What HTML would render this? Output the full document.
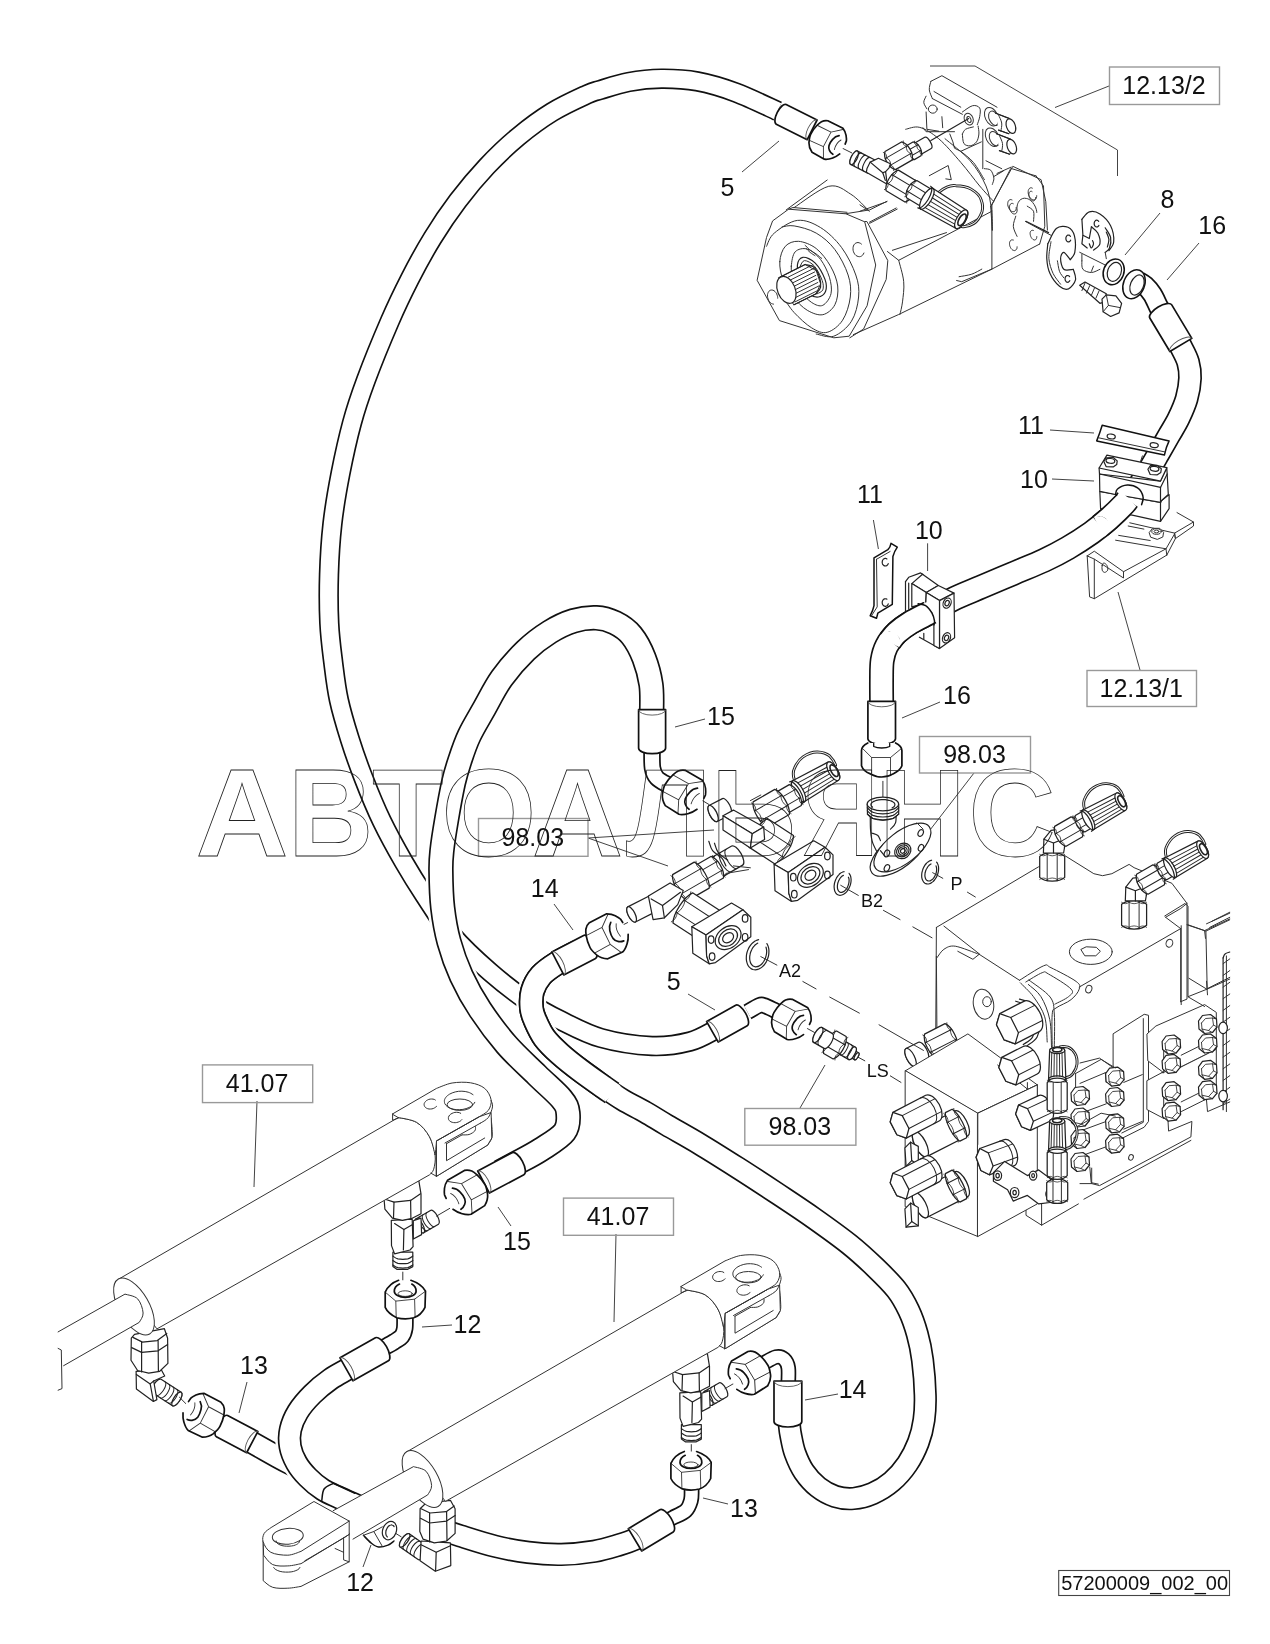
<!DOCTYPE html>
<html><head><meta charset="utf-8"><title>57200009_002_00</title>
<style>
html,body{margin:0;padding:0;background:#fff;}
body{width:1270px;height:1644px;overflow:hidden;font-family:"Liberation Sans",sans-serif;}
svg{display:block}
svg text{font-family:"Liberation Sans",sans-serif;fill:#111;}
svg{filter:grayscale(1)}
.t{fill:none;stroke:#333;stroke-width:1.0;stroke-linejoin:round;stroke-linecap:round}
.m{fill:none;stroke:#222;stroke-width:1.2;stroke-linejoin:round;stroke-linecap:round}
.b{fill:none;stroke:#111;stroke-width:1.5;stroke-linejoin:round;stroke-linecap:round}
.tw{fill:#fff;stroke:#333;stroke-width:1.0;stroke-linejoin:round;stroke-linecap:round}
.mw{fill:#fff;stroke:#222;stroke-width:1.2;stroke-linejoin:round;stroke-linecap:round}
.bw{fill:#fff;stroke:#111;stroke-width:1.5;stroke-linejoin:round;stroke-linecap:round}
</style></head><body>
<svg width="1270" height="1644" viewBox="0 0 1270 1644">
<rect width="1270" height="1644" fill="#fff"/>
<!-- pump -->
<path class="t" d="M786.2,209.9 L827.2,180.0"/>
<path class="t" d="M794.1,207.6 C799.9,204.0 819.3,188.5 828.7,186.3 C838.2,184.1 844.2,190.2 850.8,194.2 C857.3,198.1 865.2,207.3 868.1,209.9"/>
<path class="t" d="M844.5,213.9 L869.7,209.9 L887.0,201.3"/>
<path class="t" d="M869.7,223.3 L897.2,209.1"/>
<path class="t" d="M864.7,221.5 L866.9,221.5 L887.8,260.6 L886.2,279.4 L863.6,329.0 L849.8,337.8"/>
<path class="tw" d="M757.2,279.9 L766.5,237.5 L772.6,220.9 L788.6,209.2 L845.9,213.8 L864.7,221.8 L875.7,265.0 L867.1,305.8 L849.2,336.2 L833.8,337.8 L779.8,320.7 Z"/>
<path class="t" d="M788.6,209.2 L793.0,207.5 L847.0,212.3"/>
<path class="t" d="M766.5,246.3 C767.8,244.1 769.1,237.4 774.3,233.1 C779.4,228.8 789.7,221.3 797.4,220.4 C805.1,219.5 813.2,223.1 820.6,227.6 C827.9,232.1 835.6,239.5 841.5,247.4 C847.4,255.3 853.0,266.7 855.8,275.0 C858.7,283.2 859.3,289.3 858.6,297.0 C857.9,304.7 855.6,314.8 851.4,321.3 C847.3,327.8 839.7,334.0 833.8,336.2 C827.9,338.3 819.1,334.3 816.2,334.0"/>
<path class="t" d="M782.0,227.0 C784.0,226.8 788.4,224.9 794.1,225.9 C799.8,226.9 809.4,229.1 816.2,233.1 C823.0,237.0 829.6,242.6 834.9,249.6 C840.2,256.6 845.6,267.1 848.1,275.0 C850.7,282.9 851.2,289.5 850.3,297.0 C849.4,304.6 846.5,314.3 842.6,320.2 C838.8,326.1 832.3,331.0 827.2,332.3 C822.0,333.6 817.3,331.2 811.7,327.9 C806.2,324.6 798.9,317.6 794.1,312.5 C789.3,307.3 784.9,299.6 783.1,297.0"/>
<path class="t" d="M779.8,261.7 C780.1,256.0 782.2,249.7 785.3,246.3 C788.4,242.9 793.4,241.0 798.5,241.3 C803.7,241.7 810.8,244.4 816.2,248.5 C821.5,252.6 826.9,259.9 830.5,266.2 C834.1,272.4 836.9,279.6 837.7,286.0 C838.4,292.4 837.4,300.0 834.9,304.7 C832.4,309.5 827.4,313.7 822.8,314.7 C818.2,315.6 812.3,313.2 807.3,310.3 C802.4,307.3 797.0,302.0 793.0,297.0 C789.0,292.1 785.3,286.4 783.1,280.5 C780.9,274.6 779.4,267.4 779.8,261.7 Z"/>
<path class="t" d="M791.3,266.2 C791.7,261.7 792.5,254.7 795.2,251.8 C797.9,249.0 803.1,247.8 807.3,249.1 C811.6,250.3 816.9,254.9 820.6,259.5 C824.2,264.2 827.6,271.5 829.4,277.2 C831.1,282.9 832.1,289.0 831.0,293.7 C829.9,298.4 826.0,303.8 822.8,305.3 C819.6,306.8 815.6,305.0 811.7,302.5 C807.9,300.1 802.7,294.5 799.6,290.4 C796.5,286.4 794.4,282.3 793.0,278.3 C791.6,274.2 791.0,270.6 791.3,266.2 Z"/>
<path class="m" d="M797.4,265.0 C797.8,261.2 800.0,257.7 802.9,257.3 C805.9,257.0 811.4,259.2 815.0,262.8 C818.7,266.5 823.2,274.6 825.0,279.4 C826.7,284.2 826.6,288.6 825.5,291.5 C824.4,294.5 821.0,296.7 818.4,297.0 C815.7,297.4 812.5,296.5 809.5,293.7 C806.6,291.0 802.7,285.3 800.7,280.5 C798.7,275.7 797.0,268.9 797.4,265.0 Z"/>
<path class="t" d="M800.2,266.2 C800.9,265.2 802.2,260.6 804.6,260.6 C807.0,260.6 811.6,262.8 814.5,266.2 C817.4,269.5 820.8,276.5 822.2,280.5 C823.6,284.4 823.6,287.7 822.8,289.9 C821.9,292.1 818.2,293.1 817.3,293.7"/>
<path class="t" d="M863.9,253.0 C863.8,253.2 863.5,253.8 863.3,254.2 C863.1,254.6 862.9,254.9 862.6,255.2 C862.3,255.5 862.0,255.8 861.6,256.0 C861.3,256.2 860.9,256.4 860.6,256.5 C860.2,256.6 859.8,256.7 859.4,256.7 C859.0,256.7 858.6,256.6 858.2,256.5 C857.8,256.4 857.4,256.3 857.0,256.1 C856.7,255.9 856.3,255.6 855.9,255.4 C855.6,255.1 855.3,254.7 854.9,254.4 C854.6,254.0 854.4,253.6 854.1,253.1 C853.9,252.7 853.7,252.2 853.5,251.8 C853.3,251.3 853.2,250.8 853.1,250.3 C853.0,249.8 853.0,249.3 853.0,248.8 C853.0,248.3 853.0,247.8 853.1,247.3 C853.1,246.9 853.3,246.4 853.4,246.0 C853.6,245.6 853.8,245.1 854.0,244.8 C854.2,244.4 854.5,244.1 854.8,243.8 C855.1,243.5 855.4,243.3 855.8,243.1 C856.1,242.9 856.5,242.8 856.9,242.7 C857.2,242.6 857.6,242.5 858.0,242.5 C858.4,242.6 858.8,242.6 859.2,242.8 C859.6,242.9 860.0,243.1 860.4,243.3 C860.8,243.5 861.3,243.9 861.5,244.1"/>
<path class="t" d="M773.6,304.1 C773.4,304.0 772.9,304.0 772.5,303.9 C772.1,303.8 771.8,303.7 771.4,303.5 C771.1,303.3 770.7,303.0 770.4,302.7 C770.1,302.4 769.8,302.1 769.5,301.7 C769.2,301.3 768.9,300.9 768.7,300.5 C768.4,300.1 768.2,299.6 768.1,299.1 C767.9,298.7 767.8,298.2 767.7,297.7 C767.6,297.2 767.5,296.7 767.5,296.2 C767.5,295.7 767.5,295.2 767.5,294.7 C767.6,294.3 767.7,293.8 767.8,293.4 C767.9,292.9 768.1,292.5 768.3,292.2 C768.5,291.8 768.7,291.5 769.0,291.2 C769.2,290.9 769.5,290.7 769.8,290.5 C770.1,290.3 770.4,290.2 770.8,290.1 C771.1,290.0 771.5,290.0 771.8,290.0 C772.2,290.0 772.6,290.1 772.9,290.2 C773.3,290.3 773.7,290.5 774.0,290.7 C774.3,290.9 774.7,291.2 775.0,291.5 C775.3,291.8 775.6,292.2 775.9,292.6 C776.2,293.0 776.4,293.4 776.7,293.8 C776.9,294.3 777.1,294.7 777.2,295.2 C777.4,295.7 777.5,296.2 777.6,296.7 C777.7,297.2 777.7,297.9 777.7,298.2"/>
<path class="t" d="M805.1,245.2 C805.9,245.9 807.7,248.1 809.5,249.6 C811.4,251.1 814.1,252.6 816.2,254.0 C818.2,255.5 820.7,257.7 821.7,258.4"/>
<path class="t" d="M806.2,248.5 C806.9,249.2 808.6,251.2 810.1,252.4 C811.6,253.6 814.2,255.1 815.0,255.7"/>
<path class="tw" d="M778.9,277.7 L805.1,264.5 L816.2,270.6 L820.6,283.8 L816.2,293.7 L794.1,304.7 Z"/>
<path class="m" d="M805.1,264.5 C806.6,265.0 811.6,265.1 813.9,267.3 C816.3,269.4 818.4,273.9 819.5,277.2 C820.6,280.5 821.1,284.3 820.6,287.1 C820.0,289.9 816.9,292.6 816.2,293.7"/>
<path class="m" d="M778.9,277.7 L805.1,264.5"/>
<path class="m" d="M794.1,304.7 L816.2,293.7"/>
<path class="t" d="M788.0,277.2 L812.8,264.8"/>
<path class="t" d="M789.0,280.7 L813.8,268.4"/>
<path class="t" d="M790.0,284.2 L814.8,271.9"/>
<path class="t" d="M791.0,287.8 L815.8,275.4"/>
<path class="t" d="M792.0,291.3 L816.8,278.9"/>
<path class="t" d="M793.0,294.8 L817.8,282.5"/>
<path class="t" d="M794.0,298.3 L818.8,286.0"/>
<path class="t" d="M795.0,301.9 L819.8,289.5"/>
<ellipse class="mw" cx="786.4" cy="289.9" rx="8.8" ry="14.1" transform="rotate(-22.0 786.4 289.9)"/>
<path class="t" d="M905.7,129.3 C908.0,129.0 914.3,125.8 919.8,127.4 C925.4,129.0 931.9,132.9 938.7,138.7 C945.6,144.6 954.0,154.5 960.8,162.4 C967.6,170.2 974.2,179.4 979.7,186.0 C985.2,192.5 991.5,199.1 993.9,201.7"/>
<path class="t" d="M945.0,138.7 C949.2,142.4 963.4,152.9 970.2,160.8 C977.1,168.7 982.4,177.8 986.0,186.0 C989.5,194.1 990.4,202.3 991.5,209.6 C992.5,217.0 992.2,226.7 992.3,230.1"/>
<path class="t" d="M960.8,151.3 C962.9,153.2 969.4,157.6 973.4,162.4 C977.3,167.1 982.6,176.8 984.4,179.7"/>
<path class="t" d="M929.3,175.7 L948.2,165.5 L951.3,179.7 L945.8,178.9"/>
<path class="t" d="M949.8,134.0 L952.9,141.9 L954.5,148.2 L960.8,151.3 L981.3,141.9"/>
<path class="t" d="M982.8,129.3 L982.8,168.7"/>
<path class="t" d="M860.0,211.2 L886.8,201.7"/>
<path class="t" d="M869.4,222.2 L896.2,208.0"/>
<path class="t" d="M860.0,204.9 L869.4,211.2"/>
<path class="t" d="M930.9,81.3 L941.9,75.7 L997.0,107.2"/>
<path class="t" d="M930.9,81.3 C930.6,82.7 929.0,87.0 929.3,89.9 C929.6,92.8 931.9,97.1 932.4,98.6"/>
<path class="t" d="M926.1,96.2 C925.7,97.3 923.6,100.4 923.8,102.5 C923.9,104.6 926.4,107.8 926.9,108.8"/>
<path class="t" d="M932.4,98.6 L962.4,114.3"/>
<path class="t" d="M934.0,91.5 L960.8,107.2"/>
<path class="t" d="M926.1,112.0 L926.9,129.3 L938.7,131.2"/>
<path class="t" d="M941.9,116.7 L942.7,127.7"/>
<ellipse class="t" cx="932.8" cy="109.1" rx="4.4" ry="4.1" transform="rotate(0.0 932.8 109.1)"/>
<path class="t" d="M923.0,127.7 L926.1,131.7 L954.5,131.7"/>
<path class="t" d="M962.4,112.0 C964.1,110.9 969.7,106.3 972.6,105.7 C975.5,105.0 978.5,106.2 979.7,108.0 C980.9,109.9 980.1,113.9 979.7,116.7 C979.3,119.4 977.7,123.3 977.3,124.6"/>
<ellipse class="t" cx="968.7" cy="119.1" rx="4.4" ry="6.0" transform="rotate(-20.0 968.7 119.1)"/>
<ellipse class="t" cx="969.0" cy="119.5" rx="1.9" ry="3.1" transform="rotate(-20.0 969.0 119.5)"/>
<path class="t" d="M962.4,134.0 C962.6,135.6 962.6,141.5 963.9,143.5 C965.2,145.4 968.1,146.1 970.2,145.8 C972.3,145.6 975.1,143.9 976.5,141.9 C978.0,139.9 978.6,136.6 978.9,134.0 C979.2,131.4 978.2,127.5 978.1,126.1"/>
<path class="t" d="M962.4,134.0 C962.9,133.2 963.7,130.5 965.5,129.3 C967.3,128.1 972.1,127.3 973.4,126.9"/>
<path class="m" d="M930.9,140.6 L968.7,118.6"/>
<ellipse class="tw" cx="991.5" cy="116.7" rx="6.3" ry="9.8" transform="rotate(-25.0 991.5 116.7)"/>
<ellipse class="t" cx="993.9" cy="118.3" rx="4.7" ry="7.6" transform="rotate(-25.0 993.9 118.3)"/>
<path class="tw" d="M995.7,113.2 L1009.6,118.6 L1015.1,126.1 L1008.8,133.7 L998.6,130.1"/>
<path class="m" d="M995.7,113.2 L1009.6,118.6"/>
<path class="m" d="M998.6,130.1 L1008.8,133.7"/>
<ellipse class="mw" cx="1010.9" cy="126.1" rx="4.4" ry="7.6" transform="rotate(-20.0 1010.9 126.1)"/>
<path class="t" d="M998.6,115.1 C999.1,116.4 1001.3,120.4 1001.7,123.0 C1002.1,125.6 1001.1,129.6 1000.9,130.9"/>
<ellipse class="tw" cx="992.3" cy="137.2" rx="6.3" ry="9.8" transform="rotate(-25.0 992.3 137.2)"/>
<ellipse class="t" cx="994.6" cy="138.7" rx="4.7" ry="7.6" transform="rotate(-25.0 994.6 138.7)"/>
<path class="tw" d="M996.5,133.7 L1010.4,139.1 L1015.9,146.6 L1009.6,154.2 L999.4,150.6"/>
<path class="m" d="M996.5,133.7 L1010.4,139.1"/>
<path class="m" d="M999.4,150.6 L1009.6,154.2"/>
<ellipse class="mw" cx="1011.7" cy="146.6" rx="4.4" ry="7.6" transform="rotate(-20.0 1011.7 146.6)"/>
<path class="t" d="M999.4,135.6 C999.9,136.9 1002.1,140.8 1002.5,143.5 C1002.9,146.1 1001.9,150.0 1001.7,151.3"/>
<path class="t" d="M984.4,168.7 C985.5,168.9 989.1,168.7 990.7,170.2 C992.3,171.8 993.6,175.7 993.9,178.1 C994.1,180.5 992.5,183.4 992.3,184.4"/>
<path class="t" d="M986.0,160.8 L1001.7,168.7"/>
<path class="t" d="M993.9,176.5 L1003.3,171.0"/>
<path class="t" d="M990.7,206.5 L1012.8,166.3 L1041.1,179.7 L1045.8,201.7 L1047.4,230.1"/>
<path class="t" d="M990.7,206.5 L992.3,230.1"/>
<path class="t" d="M997.0,173.4 L1011.2,167.1"/>
<path class="t" d="M1016.2,207.5 C1016.2,207.7 1016.2,208.3 1016.2,208.7 C1016.1,209.0 1016.0,209.4 1015.9,209.7 C1015.7,210.0 1015.6,210.3 1015.4,210.6 C1015.2,210.8 1015.0,211.1 1014.8,211.2 C1014.6,211.4 1014.3,211.5 1014.0,211.6 C1013.8,211.7 1013.5,211.7 1013.2,211.7 C1012.9,211.7 1012.6,211.7 1012.3,211.6 C1012.0,211.5 1011.7,211.3 1011.4,211.2 C1011.1,211.0 1010.8,210.7 1010.5,210.5 C1010.2,210.2 1009.9,209.9 1009.7,209.6 C1009.4,209.2 1009.2,208.9 1009.0,208.5 C1008.7,208.1 1008.5,207.7 1008.4,207.3 C1008.2,206.9 1008.1,206.4 1008.0,206.0 C1007.9,205.6 1007.8,205.1 1007.7,204.7 C1007.7,204.3 1007.7,203.9 1007.7,203.5 C1007.7,203.1 1007.8,202.7 1007.9,202.3 C1007.9,202.0 1008.1,201.6 1008.2,201.3 C1008.3,201.0 1008.5,200.7 1008.7,200.5 C1008.9,200.3 1009.1,200.1 1009.4,200.0 C1009.6,199.8 1009.9,199.7 1010.2,199.6 C1010.5,199.6 1010.7,199.6 1011.0,199.6 C1011.3,199.7 1011.8,199.8 1012.0,199.9"/>
<path class="t" d="M1036.7,195.7 C1036.7,195.9 1036.7,196.5 1036.6,196.8 C1036.6,197.2 1036.5,197.6 1036.3,197.9 C1036.2,198.2 1036.1,198.5 1035.9,198.8 C1035.7,199.0 1035.5,199.2 1035.3,199.4 C1035.0,199.6 1034.8,199.7 1034.5,199.8 C1034.2,199.9 1034.0,199.9 1033.7,199.9 C1033.4,199.9 1033.1,199.9 1032.8,199.8 C1032.5,199.7 1032.1,199.5 1031.8,199.3 C1031.5,199.2 1031.2,198.9 1031.0,198.7 C1030.7,198.4 1030.4,198.1 1030.1,197.8 C1029.9,197.4 1029.6,197.1 1029.4,196.7 C1029.2,196.3 1029.0,195.9 1028.8,195.5 C1028.7,195.1 1028.5,194.6 1028.4,194.2 C1028.3,193.8 1028.2,193.3 1028.2,192.9 C1028.2,192.5 1028.1,192.1 1028.2,191.7 C1028.2,191.3 1028.2,190.9 1028.3,190.5 C1028.4,190.1 1028.5,189.8 1028.7,189.5 C1028.8,189.2 1029.0,188.9 1029.2,188.7 C1029.4,188.5 1029.6,188.3 1029.9,188.1 C1030.1,188.0 1030.4,187.9 1030.6,187.8 C1030.9,187.8 1031.2,187.8 1031.5,187.8 C1031.8,187.8 1032.3,188.0 1032.4,188.1"/>
<path class="t" d="M1017.0,209.9 C1017.0,209.5 1016.9,208.1 1017.0,207.3 C1017.0,206.4 1017.2,205.6 1017.4,204.8 C1017.6,204.0 1017.8,203.2 1018.2,202.6 C1018.5,201.9 1018.9,201.3 1019.4,200.7 C1019.8,200.2 1020.3,199.7 1020.9,199.4 C1021.4,199.0 1022.0,198.7 1022.7,198.5 C1023.3,198.3 1024.0,198.2 1024.6,198.2 C1025.3,198.2 1026.0,198.3 1026.7,198.5 C1027.4,198.6 1028.1,198.9 1028.8,199.3 C1029.5,199.6 1030.1,200.1 1030.8,200.6 C1031.4,201.1 1032.1,201.8 1032.6,202.4 C1033.2,203.1 1033.7,203.8 1034.2,204.6 C1034.7,205.4 1035.1,206.2 1035.5,207.1 C1035.8,207.9 1036.1,208.8 1036.4,209.7 C1036.6,210.6 1036.8,212.0 1036.8,212.4"/>
<path class="t" d="M991.9,204.9 L991.9,269.1 L1039.7,244.0"/>
<path class="t" d="M1039.7,244.0 L1044.8,226.3 L1043.5,186.0 L1036.0,175.9"/>
<path class="t" d="M991.9,204.9 L1010.8,168.4 L1036.0,175.9"/>
<path class="t" d="M991.9,269.1 L961.7,281.7 L956.6,280.5"/>
<path class="t" d="M981.8,269.1 C980.1,270.0 975.5,272.9 971.7,274.2 C968.0,275.4 961.2,276.3 959.1,276.7"/>
<path class="t" d="M1017.1,246.8 C1017.1,246.9 1017.1,247.5 1017.0,247.8 C1017.0,248.2 1016.9,248.5 1016.8,248.8 C1016.7,249.0 1016.5,249.3 1016.3,249.5 C1016.2,249.8 1016.0,249.9 1015.8,250.1 C1015.6,250.3 1015.4,250.4 1015.1,250.4 C1014.9,250.5 1014.6,250.6 1014.4,250.6 C1014.1,250.6 1013.8,250.5 1013.6,250.4 C1013.3,250.3 1013.0,250.2 1012.7,250.1 C1012.5,249.9 1012.2,249.7 1012.0,249.5 C1011.7,249.2 1011.4,249.0 1011.2,248.7 C1011.0,248.4 1010.8,248.1 1010.6,247.7 C1010.4,247.4 1010.2,247.0 1010.1,246.7 C1009.9,246.3 1009.8,245.9 1009.7,245.5 C1009.6,245.2 1009.6,244.8 1009.5,244.4 C1009.5,244.0 1009.5,243.6 1009.5,243.3 C1009.5,242.9 1009.6,242.6 1009.6,242.3 C1009.7,242.0 1009.8,241.7 1010.0,241.4 C1010.1,241.1 1010.2,240.9 1010.4,240.7 C1010.6,240.5 1010.8,240.3 1011.0,240.2 C1011.2,240.1 1011.5,240.0 1011.7,239.9 C1012.0,239.9 1012.2,239.9 1012.5,239.9 C1012.8,239.9 1013.2,240.1 1013.3,240.1"/>
<path class="t" d="M1036.8,236.6 C1036.8,236.8 1036.8,237.3 1036.7,237.6 C1036.7,237.9 1036.6,238.1 1036.5,238.4 C1036.4,238.6 1036.3,238.9 1036.2,239.1 C1036.0,239.3 1035.9,239.5 1035.7,239.6 C1035.5,239.7 1035.3,239.8 1035.1,239.9 C1034.9,240.0 1034.7,240.0 1034.5,240.0 C1034.2,240.0 1034.0,239.9 1033.8,239.8 C1033.5,239.8 1033.3,239.6 1033.0,239.5 C1032.8,239.3 1032.6,239.2 1032.4,238.9 C1032.1,238.7 1031.9,238.5 1031.7,238.2 C1031.5,238.0 1031.3,237.7 1031.2,237.4 C1031.0,237.1 1030.8,236.7 1030.7,236.4 C1030.6,236.1 1030.5,235.7 1030.4,235.4 C1030.3,235.0 1030.2,234.7 1030.2,234.3 C1030.1,234.0 1030.1,233.7 1030.1,233.3 C1030.1,233.0 1030.2,232.7 1030.2,232.4 C1030.3,232.1 1030.4,231.9 1030.5,231.6 C1030.6,231.4 1030.7,231.2 1030.9,231.0 C1031.0,230.8 1031.2,230.7 1031.4,230.6 C1031.6,230.4 1031.8,230.4 1032.0,230.3 C1032.2,230.3 1032.4,230.3 1032.7,230.3 C1032.9,230.3 1033.3,230.5 1033.4,230.5"/>
<path class="t" d="M1017.1,210.2 C1017.1,210.4 1017.1,211.0 1017.0,211.3 C1017.0,211.6 1016.9,211.9 1016.8,212.2 C1016.7,212.5 1016.5,212.8 1016.3,213.0 C1016.2,213.2 1016.0,213.4 1015.8,213.6 C1015.6,213.7 1015.4,213.8 1015.1,213.9 C1014.9,214.0 1014.6,214.0 1014.4,214.0 C1014.1,214.0 1013.8,214.0 1013.6,213.9 C1013.3,213.8 1013.0,213.7 1012.7,213.5 C1012.5,213.4 1012.2,213.2 1012.0,212.9 C1011.7,212.7 1011.4,212.4 1011.2,212.1 C1011.0,211.9 1010.8,211.5 1010.6,211.2 C1010.4,210.9 1010.2,210.5 1010.1,210.1 C1009.9,209.8 1009.8,209.4 1009.7,209.0 C1009.6,208.6 1009.6,208.2 1009.5,207.9 C1009.5,207.5 1009.5,207.1 1009.5,206.8 C1009.5,206.4 1009.6,206.1 1009.6,205.8 C1009.7,205.4 1009.8,205.1 1010.0,204.9 C1010.1,204.6 1010.2,204.4 1010.4,204.2 C1010.6,204.0 1010.8,203.8 1011.0,203.7 C1011.2,203.5 1011.5,203.4 1011.7,203.4 C1012.0,203.3 1012.2,203.3 1012.5,203.4 C1012.8,203.4 1013.2,203.5 1013.3,203.6"/>
<path class="t" d="M1035.5,197.6 C1035.5,197.7 1035.5,198.2 1035.5,198.5 C1035.4,198.8 1035.3,199.1 1035.2,199.4 C1035.1,199.6 1035.0,199.8 1034.9,200.0 C1034.8,200.2 1034.6,200.4 1034.4,200.5 C1034.2,200.7 1034.1,200.8 1033.8,200.9 C1033.6,200.9 1033.4,200.9 1033.2,200.9 C1033.0,200.9 1032.7,200.9 1032.5,200.8 C1032.3,200.7 1032.0,200.6 1031.8,200.5 C1031.6,200.3 1031.3,200.1 1031.1,199.9 C1030.9,199.7 1030.7,199.4 1030.5,199.2 C1030.3,198.9 1030.1,198.6 1029.9,198.3 C1029.7,198.0 1029.6,197.7 1029.4,197.4 C1029.3,197.0 1029.2,196.7 1029.1,196.3 C1029.0,196.0 1029.0,195.6 1028.9,195.3 C1028.9,195.0 1028.9,194.6 1028.9,194.3 C1028.9,194.0 1028.9,193.7 1029.0,193.4 C1029.0,193.1 1029.1,192.8 1029.2,192.6 C1029.4,192.4 1029.5,192.1 1029.6,192.0 C1029.8,191.8 1030.0,191.6 1030.1,191.5 C1030.3,191.4 1030.5,191.3 1030.7,191.3 C1031.0,191.2 1031.2,191.2 1031.4,191.3 C1031.6,191.3 1032.0,191.4 1032.1,191.5"/>
<path class="t" d="M1015.8,216.2 C1015.4,217.9 1013.1,223.0 1013.3,226.3 C1013.5,229.7 1016.4,234.7 1017.1,236.4"/>
<path class="t" d="M1027.2,206.2 C1028.2,207.0 1032.4,208.7 1033.5,211.2 C1034.5,213.7 1033.5,219.6 1033.5,221.3"/>
<path class="m" d="M1025.9,221.3 L1048.6,232.6"/>
<path class="t" d="M853.4,334.6 L898.7,314.5 L991.9,269.1"/>
<path class="t" d="M898.7,260.3 C899.5,263.9 903.1,274.8 903.7,281.7 C904.4,288.7 903.1,296.4 902.5,301.9 C901.8,307.3 900.4,312.4 899.9,314.5"/>
<path class="t" d="M887.4,251.5 L898.7,260.3 L991.9,211.2"/>
<path class="t" d="M892.4,250.3 L946.5,232.6"/>
<!-- valve -->
<path d="M936.4,927.4 L1038.4,866.9 L1064.8,855.6 L1093.8,873.7 L1102.6,875.7 L1111.9,873.7 L1129.1,864.4 L1134.1,867.7 L1171.9,883.3 L1187.0,903.4 L1187.0,999.1 L1180.7,1001.7 L1180.7,1057.1 L935.6,1057.1 Z" fill="#fff" stroke="none"/><path class="t" d="M1187.0,924.8 L1205.9,931.1 L1229.8,919.8"/>
<path class="t" d="M1205.9,931.1 L1207.2,989.1"/>
<path class="t" d="M1188.3,996.6 L1207.2,989.1 L1229.8,979.0"/>
<path class="t" d="M1209.7,927.4 L1229.8,917.3"/>
<path class="t" d="M1212.2,921.1 L1229.8,912.2"/>
<path class="t" d="M936.4,927.4 L1038.4,866.9 L1064.8,855.6 L1093.8,873.7 L1102.6,875.7 L1111.9,873.7 L1129.1,864.4 L1134.1,867.7 L1171.9,883.3 L1187.0,903.4 L1187.0,999.1 L1180.7,1001.7"/>
<path class="t" d="M936.4,927.4 L935.6,1057.1"/>
<path class="t" d="M936.4,956.3 L937.1,1057.1"/>
<path class="t" d="M943.9,926.1 L979.2,953.8"/>
<path class="t" d="M937.1,957.6 C938.3,956.2 940.9,951.2 943.9,949.3 C947.0,947.4 949.4,945.4 955.3,946.2 C961.1,947.1 975.2,953.0 979.2,954.3"/>
<path class="t" d="M979.2,954.3 L972.9,959.3 L957.8,951.3"/>
<path class="t" d="M979.2,954.3 L1019.5,980.3"/>
<path class="t" d="M1019.5,980.3 C1023.5,977.9 1038.2,968.0 1043.4,965.9 C1048.7,963.8 1045.5,965.1 1051.0,967.7 C1056.4,970.3 1071.5,977.9 1076.2,981.5 C1080.9,985.1 1080.0,986.0 1079.2,989.1 C1078.4,992.1 1075.0,996.5 1071.1,999.6 C1067.3,1002.8 1059.2,1005.5 1056.0,1008.0 C1052.9,1010.4 1052.9,1007.7 1052.2,1014.3 C1051.6,1020.8 1052.2,1041.5 1052.2,1047.0"/>
<path class="t" d="M1025.8,982.0 C1028.5,980.5 1038.4,974.0 1042.2,972.7 C1045.9,971.4 1043.6,971.2 1048.5,974.0 C1053.3,976.7 1067.8,985.3 1071.1,989.1 C1074.5,992.8 1071.3,994.1 1068.6,996.6 C1065.9,999.1 1057.1,1002.9 1054.8,1004.2"/>
<path class="t" d="M1028.3,984.5 C1030.4,986.5 1037.3,990.8 1040.9,996.6 C1044.5,1002.4 1048.0,1010.9 1049.7,1019.3 C1051.5,1027.7 1051.2,1042.4 1051.5,1047.0"/>
<path class="t" d="M1020.3,982.8 C1022.4,985.1 1029.3,991.0 1033.4,996.6 C1037.4,1002.3 1042.4,1009.2 1044.7,1016.8 C1047.0,1024.3 1046.8,1037.8 1047.2,1042.0"/>
<path class="t" d="M1079.2,987.1 L1180.7,928.6"/>
<path class="t" d="M1180.7,928.6 L1180.7,1001.7"/>
<path class="t" d="M1165.6,917.3 L1180.7,908.5 L1187.0,903.4"/>
<path class="t" d="M1165.6,917.3 L1180.7,928.6"/>
<ellipse class="t" cx="1090.8" cy="951.8" rx="21.4" ry="12.6" transform="rotate(0.0 1090.8 951.8)"/>
<path class="t" d="M1081.2,949.3 L1086.2,946.8 L1096.3,947.3 L1100.4,951.3 L1095.8,955.8 L1085.2,955.8 Z"/>
<ellipse class="t" cx="1169.4" cy="943.2" rx="3.3" ry="4.0" transform="rotate(20.0 1169.4 943.2)"/>
<ellipse class="t" cx="1088.8" cy="989.1" rx="3.0" ry="3.8" transform="rotate(20.0 1088.8 989.1)"/>
<ellipse class="t" cx="983.5" cy="1004.2" rx="10.1" ry="15.1" transform="rotate(-10.0 983.5 1004.2)"/>
<ellipse class="t" cx="987.0" cy="1001.7" rx="4.3" ry="5.0" transform="rotate(0.0 987.0 1001.7)"/>
<path class="m" d="M1019.5,999.1 C1021.6,1000.0 1028.7,1000.6 1032.1,1004.2 C1035.4,1007.7 1038.8,1015.1 1039.6,1020.6 C1040.5,1026.0 1039.2,1032.7 1037.1,1036.9 C1035.0,1041.1 1028.7,1044.3 1027.1,1045.7"/>
<path class="m" d="M1015.7,1001.2 C1017.8,1002.1 1025.2,1003.3 1028.3,1006.7 C1031.5,1010.1 1033.9,1016.8 1034.6,1021.8 C1035.3,1026.9 1034.5,1033.1 1032.6,1036.9 C1030.7,1040.7 1024.8,1043.2 1023.3,1044.5"/>
<g transform="translate(1019.5 1022.6) rotate(-27.0) scale(1.000 1.000)" stroke-linejoin="round" stroke-linecap="round"><path d="M-13.5,-17.0 L13.5,-17.0 A9.2,17.0 0 0 1 13.5,17.0 L-13.5,17.0 L-21.5,8.5 L-21.5,-8.5 L-13.5,-17.0 Z" fill="#fff" stroke="#222" stroke-width="1.25"/><path d="M-5.5,8.5 L-13.5,17.0 L-21.5,8.5 L-21.5,-8.5 L-13.5,-17.0 L-5.5,-8.5 Z" fill="#fff" stroke="#222" stroke-width="1.25"/><path d="M-5.5,-8.5 L20.8,-8.5 M-5.5,8.5 L20.8,8.5" fill="none" stroke="#222" stroke-width="0.94"/></g>
<path class="t" d="M1113.1,1066.9 L1113.1,1033.8 L1144.2,1014.3 L1148.5,1015.3 L1148.5,1121.4 L1144.2,1127.2 L1120.9,1138.9"/>
<path class="t" d="M1143.3,1018.6 L1143.3,1122.3 L1121.8,1133.0"/>
<path class="tw" d="M1147.2,1033.8 L1155.9,1026.0 L1204.6,1004.6 L1216.3,1012.4 L1216.3,1049.3 L1181.2,1066.9 L1163.7,1072.7 L1148.1,1061.0 Z"/>
<path class="tw" d="M1147.2,1080.5 L1161.8,1072.7 L1181.2,1066.9 L1216.3,1049.3 L1216.3,1094.1 L1181.2,1111.6 L1163.7,1118.4 L1147.2,1109.7 Z"/>
<path class="t" d="M1163.7,1072.7 L1161.8,1072.7"/>
<path class="t" d="M1163.7,1039.6 L1163.7,1072.7"/>
<path class="t" d="M1163.7,1086.3 L1163.7,1118.4"/>
<path class="t" d="M1181.2,1055.2 L1200.7,1045.5"/>
<path class="t" d="M1181.2,1101.9 L1200.7,1092.2"/>
<path class="t" d="M1080.0,1063.0 L1099.5,1058.1 L1112.1,1066.9"/>
<path class="t" d="M1080.0,1083.4 L1105.3,1072.7"/>
<path class="t" d="M1105.3,1072.7 L1106.3,1082.4"/>
<path class="t" d="M1080.0,1113.6 L1106.3,1103.8"/>
<path class="t" d="M1080.0,1131.1 L1106.3,1121.4"/>
<path class="t" d="M1080.0,1156.4 L1106.3,1146.7"/>
<path class="t" d="M1123.8,1082.4 L1142.3,1074.6"/>
<path class="t" d="M1123.8,1129.1 L1142.3,1121.4"/>
<path class="t" d="M1091.7,1168.1 L1091.7,1183.6 L1099.5,1185.6 L1190.9,1136.9 L1191.9,1121.4 L1168.6,1131.1 L1167.6,1113.6"/>
<path class="t" d="M1083.9,1199.2 L1190.9,1140.4"/>
<path class="t" d="M1080.0,1183.6 L1091.7,1183.6"/>
<ellipse class="t" cx="1131.0" cy="1157.4" rx="2.3" ry="2.9" transform="rotate(20.0 1131.0 1157.4)"/>
<path class="t" d="M1181.2,925.7 L1181.2,1004.6"/>
<path class="t" d="M1164.7,916.0 L1185.1,903.4 L1188.0,906.3 L1188.0,996.8 L1204.6,1006.5"/>
<path class="t" d="M1188.0,924.8 L1204.6,930.6 L1229.9,918.9"/>
<path class="t" d="M1204.6,930.6 L1205.5,938.4"/>
<path class="t" d="M1206.5,981.2 L1207.5,994.8"/>
<path class="t" d="M1189.0,978.3 L1206.5,989.0 L1229.9,977.3"/>
<path class="t" d="M1206.5,923.8 L1229.9,913.1"/>
<path class="t" d="M1206.5,1100.0 L1207.5,1111.6 L1229.9,1101.9"/>
<path class="m" d="M1223.1,957.9 L1223.1,1109.7"/>
<path class="t" d="M1226.4,955.9 L1226.4,1111.6"/>
<path class="m" d="M1223.1,957.9 C1223.4,957.2 1223.9,954.9 1225.0,954.0 C1226.1,953.0 1229.1,952.3 1229.9,952.0"/>
<path class="t" d="M1223.1,963.7 L1229.9,958.8"/>
<path class="t" d="M1223.1,975.4 L1229.9,970.5"/>
<path class="t" d="M1223.1,987.1 L1229.9,982.2"/>
<path class="t" d="M1223.1,998.7 L1229.9,993.9"/>
<path class="t" d="M1223.1,1010.4 L1229.9,1005.5"/>
<path class="t" d="M1223.1,1022.1 L1229.9,1017.2"/>
<path class="t" d="M1223.1,1033.8 L1229.9,1028.9"/>
<path class="t" d="M1223.1,1045.5 L1229.9,1040.6"/>
<path class="t" d="M1223.1,1057.1 L1229.9,1052.3"/>
<path class="t" d="M1223.1,1068.8 L1229.9,1063.9"/>
<path class="t" d="M1223.1,1080.5 L1229.9,1075.6"/>
<path class="t" d="M1223.1,1092.2 L1229.9,1087.3"/>
<path class="t" d="M1223.1,1103.8 L1229.9,1099.0"/>
<ellipse class="mw" cx="1223.1" cy="1027.9" rx="4.3" ry="5.8" transform="rotate(0.0 1223.1 1027.9)"/>
<ellipse class="mw" cx="1223.1" cy="1096.1" rx="4.3" ry="5.8" transform="rotate(0.0 1223.1 1096.1)"/>
<g transform="translate(1171.1 1044.5) rotate(0.0) scale(1.000 1.000)" stroke-linejoin="round" stroke-linecap="round"><path d="M-9,-3 L-5,-8.5 L3,-9.5 L9,-5 L9.5,3 L5,8.5 L-3,9.5 L-8.5,5 Z" fill="#fff" stroke="#222" stroke-width="1.20"/><path d="M-6,-1 L-2,-5.5 L5,-6 L9,-5 M-6,-1 L-5.5,5 L-3,9.5 M-5.5,5 L1,6.5 L5,8.5 M1,6.5 L6,1 L9.5,3 M6,1 L5,-6" fill="none" stroke="#222" stroke-width="0.84"/></g>
<g transform="translate(1171.1 1063.9) rotate(0.0) scale(1.000 1.000)" stroke-linejoin="round" stroke-linecap="round"><path d="M-9,-3 L-5,-8.5 L3,-9.5 L9,-5 L9.5,3 L5,8.5 L-3,9.5 L-8.5,5 Z" fill="#fff" stroke="#222" stroke-width="1.20"/><path d="M-6,-1 L-2,-5.5 L5,-6 L9,-5 M-6,-1 L-5.5,5 L-3,9.5 M-5.5,5 L1,6.5 L5,8.5 M1,6.5 L6,1 L9.5,3 M6,1 L5,-6" fill="none" stroke="#222" stroke-width="0.84"/></g>
<g transform="translate(1171.1 1091.2) rotate(0.0) scale(1.000 1.000)" stroke-linejoin="round" stroke-linecap="round"><path d="M-9,-3 L-5,-8.5 L3,-9.5 L9,-5 L9.5,3 L5,8.5 L-3,9.5 L-8.5,5 Z" fill="#fff" stroke="#222" stroke-width="1.20"/><path d="M-6,-1 L-2,-5.5 L5,-6 L9,-5 M-6,-1 L-5.5,5 L-3,9.5 M-5.5,5 L1,6.5 L5,8.5 M1,6.5 L6,1 L9.5,3 M6,1 L5,-6" fill="none" stroke="#222" stroke-width="0.84"/></g>
<g transform="translate(1171.1 1111.6) rotate(0.0) scale(1.000 1.000)" stroke-linejoin="round" stroke-linecap="round"><path d="M-9,-3 L-5,-8.5 L3,-9.5 L9,-5 L9.5,3 L5,8.5 L-3,9.5 L-8.5,5 Z" fill="#fff" stroke="#222" stroke-width="1.20"/><path d="M-6,-1 L-2,-5.5 L5,-6 L9,-5 M-6,-1 L-5.5,5 L-3,9.5 M-5.5,5 L1,6.5 L5,8.5 M1,6.5 L6,1 L9.5,3 M6,1 L5,-6" fill="none" stroke="#222" stroke-width="0.84"/></g>
<g transform="translate(1207.5 1024.0) rotate(0.0) scale(1.000 1.000)" stroke-linejoin="round" stroke-linecap="round"><path d="M-9,-3 L-5,-8.5 L3,-9.5 L9,-5 L9.5,3 L5,8.5 L-3,9.5 L-8.5,5 Z" fill="#fff" stroke="#222" stroke-width="1.20"/><path d="M-6,-1 L-2,-5.5 L5,-6 L9,-5 M-6,-1 L-5.5,5 L-3,9.5 M-5.5,5 L1,6.5 L5,8.5 M1,6.5 L6,1 L9.5,3 M6,1 L5,-6" fill="none" stroke="#222" stroke-width="0.84"/></g>
<g transform="translate(1207.5 1043.5) rotate(0.0) scale(1.000 1.000)" stroke-linejoin="round" stroke-linecap="round"><path d="M-9,-3 L-5,-8.5 L3,-9.5 L9,-5 L9.5,3 L5,8.5 L-3,9.5 L-8.5,5 Z" fill="#fff" stroke="#222" stroke-width="1.20"/><path d="M-6,-1 L-2,-5.5 L5,-6 L9,-5 M-6,-1 L-5.5,5 L-3,9.5 M-5.5,5 L1,6.5 L5,8.5 M1,6.5 L6,1 L9.5,3 M6,1 L5,-6" fill="none" stroke="#222" stroke-width="0.84"/></g>
<g transform="translate(1207.5 1069.8) rotate(0.0) scale(1.000 1.000)" stroke-linejoin="round" stroke-linecap="round"><path d="M-9,-3 L-5,-8.5 L3,-9.5 L9,-5 L9.5,3 L5,8.5 L-3,9.5 L-8.5,5 Z" fill="#fff" stroke="#222" stroke-width="1.20"/><path d="M-6,-1 L-2,-5.5 L5,-6 L9,-5 M-6,-1 L-5.5,5 L-3,9.5 M-5.5,5 L1,6.5 L5,8.5 M1,6.5 L6,1 L9.5,3 M6,1 L5,-6" fill="none" stroke="#222" stroke-width="0.84"/></g>
<g transform="translate(1207.5 1090.2) rotate(0.0) scale(1.000 1.000)" stroke-linejoin="round" stroke-linecap="round"><path d="M-9,-3 L-5,-8.5 L3,-9.5 L9,-5 L9.5,3 L5,8.5 L-3,9.5 L-8.5,5 Z" fill="#fff" stroke="#222" stroke-width="1.20"/><path d="M-6,-1 L-2,-5.5 L5,-6 L9,-5 M-6,-1 L-5.5,5 L-3,9.5 M-5.5,5 L1,6.5 L5,8.5 M1,6.5 L6,1 L9.5,3 M6,1 L5,-6" fill="none" stroke="#222" stroke-width="0.84"/></g>
<g transform="translate(1114.6 1076.6) rotate(0.0) scale(1.000 1.000)" stroke-linejoin="round" stroke-linecap="round"><path d="M-9,-3 L-5,-8.5 L3,-9.5 L9,-5 L9.5,3 L5,8.5 L-3,9.5 L-8.5,5 Z" fill="#fff" stroke="#222" stroke-width="1.20"/><path d="M-6,-1 L-2,-5.5 L5,-6 L9,-5 M-6,-1 L-5.5,5 L-3,9.5 M-5.5,5 L1,6.5 L5,8.5 M1,6.5 L6,1 L9.5,3 M6,1 L5,-6" fill="none" stroke="#222" stroke-width="0.84"/></g>
<g transform="translate(1114.6 1097.0) rotate(0.0) scale(1.000 1.000)" stroke-linejoin="round" stroke-linecap="round"><path d="M-9,-3 L-5,-8.5 L3,-9.5 L9,-5 L9.5,3 L5,8.5 L-3,9.5 L-8.5,5 Z" fill="#fff" stroke="#222" stroke-width="1.20"/><path d="M-6,-1 L-2,-5.5 L5,-6 L9,-5 M-6,-1 L-5.5,5 L-3,9.5 M-5.5,5 L1,6.5 L5,8.5 M1,6.5 L6,1 L9.5,3 M6,1 L5,-6" fill="none" stroke="#222" stroke-width="0.84"/></g>
<g transform="translate(1114.6 1123.3) rotate(0.0) scale(1.000 1.000)" stroke-linejoin="round" stroke-linecap="round"><path d="M-9,-3 L-5,-8.5 L3,-9.5 L9,-5 L9.5,3 L5,8.5 L-3,9.5 L-8.5,5 Z" fill="#fff" stroke="#222" stroke-width="1.20"/><path d="M-6,-1 L-2,-5.5 L5,-6 L9,-5 M-6,-1 L-5.5,5 L-3,9.5 M-5.5,5 L1,6.5 L5,8.5 M1,6.5 L6,1 L9.5,3 M6,1 L5,-6" fill="none" stroke="#222" stroke-width="0.84"/></g>
<g transform="translate(1114.6 1143.7) rotate(0.0) scale(1.000 1.000)" stroke-linejoin="round" stroke-linecap="round"><path d="M-9,-3 L-5,-8.5 L3,-9.5 L9,-5 L9.5,3 L5,8.5 L-3,9.5 L-8.5,5 Z" fill="#fff" stroke="#222" stroke-width="1.20"/><path d="M-6,-1 L-2,-5.5 L5,-6 L9,-5 M-6,-1 L-5.5,5 L-3,9.5 M-5.5,5 L1,6.5 L5,8.5 M1,6.5 L6,1 L9.5,3 M6,1 L5,-6" fill="none" stroke="#222" stroke-width="0.84"/></g>
<g transform="translate(1080.0 1096.0) rotate(0.0) scale(1.000 1.000)" stroke-linejoin="round" stroke-linecap="round"><path d="M-9,-3 L-5,-8.5 L3,-9.5 L9,-5 L9.5,3 L5,8.5 L-3,9.5 L-8.5,5 Z" fill="#fff" stroke="#222" stroke-width="1.20"/><path d="M-6,-1 L-2,-5.5 L5,-6 L9,-5 M-6,-1 L-5.5,5 L-3,9.5 M-5.5,5 L1,6.5 L5,8.5 M1,6.5 L6,1 L9.5,3 M6,1 L5,-6" fill="none" stroke="#222" stroke-width="0.84"/></g>
<g transform="translate(1080.0 1117.5) rotate(0.0) scale(1.000 1.000)" stroke-linejoin="round" stroke-linecap="round"><path d="M-9,-3 L-5,-8.5 L3,-9.5 L9,-5 L9.5,3 L5,8.5 L-3,9.5 L-8.5,5 Z" fill="#fff" stroke="#222" stroke-width="1.20"/><path d="M-6,-1 L-2,-5.5 L5,-6 L9,-5 M-6,-1 L-5.5,5 L-3,9.5 M-5.5,5 L1,6.5 L5,8.5 M1,6.5 L6,1 L9.5,3 M6,1 L5,-6" fill="none" stroke="#222" stroke-width="0.84"/></g>
<g transform="translate(1080.0 1139.0) rotate(0.0) scale(1.000 1.000)" stroke-linejoin="round" stroke-linecap="round"><path d="M-9,-3 L-5,-8.5 L3,-9.5 L9,-5 L9.5,3 L5,8.5 L-3,9.5 L-8.5,5 Z" fill="#fff" stroke="#222" stroke-width="1.20"/><path d="M-6,-1 L-2,-5.5 L5,-6 L9,-5 M-6,-1 L-5.5,5 L-3,9.5 M-5.5,5 L1,6.5 L5,8.5 M1,6.5 L6,1 L9.5,3 M6,1 L5,-6" fill="none" stroke="#222" stroke-width="0.84"/></g>
<g transform="translate(1080.0 1162.0) rotate(0.0) scale(1.000 1.000)" stroke-linejoin="round" stroke-linecap="round"><path d="M-9,-3 L-5,-8.5 L3,-9.5 L9,-5 L9.5,3 L5,8.5 L-3,9.5 L-8.5,5 Z" fill="#fff" stroke="#222" stroke-width="1.20"/><path d="M-6,-1 L-2,-5.5 L5,-6 L9,-5 M-6,-1 L-5.5,5 L-3,9.5 M-5.5,5 L1,6.5 L5,8.5 M1,6.5 L6,1 L9.5,3 M6,1 L5,-6" fill="none" stroke="#222" stroke-width="0.84"/></g>
<path class="t" d="M1075.6,1073.5 L1101.1,1059.4 L1115.3,1067.9"/>
<path class="t" d="M1075.6,1073.5 L1075.6,1087.7"/>
<path class="t" d="M1075.6,1127.4 L1101.1,1113.2 L1115.3,1116.1"/>
<path class="t" d="M1089.8,1167.1 L1091.2,1182.7 L1098.3,1184.1"/>
<path class="t" d="M1026.0,1198.3 L1026.0,1215.3 L1041.6,1225.2 L1078.4,1203.9"/>
<path class="t" d="M1041.6,1203.9 L1041.6,1225.2"/>
<path class="t" d="M1026.0,1198.3 L1041.6,1203.9 L1055.7,1196.8"/>

<g transform="translate(916.8 1054.3) rotate(-27.0) scale(1.000 1.000)" stroke-linejoin="round" stroke-linecap="round"><path d="M7.0,-10.0 L-7.0,-10.0 A4.0,10.0 0 0 0 -7.0,10.0 L7.0,10.0 A4.0,10.0 0 0 0 7.0,-10.0 Z" fill="#fff" stroke="#222" stroke-width="1.25"/><ellipse cx="-7.0" cy="0" rx="4.0" ry="10.0" fill="#fff" stroke="#222" stroke-width="1.25"/></g>
<g transform="translate(940.9 1040.9) rotate(-27.0) scale(1.000 1.000)" stroke-linejoin="round" stroke-linecap="round"><path d="M-11.5,-13.5 L11.5,-13.5 C16.5,-7.4 16.5,7.4 11.5,13.5 L-11.5,13.5 C-16.5,7.4 -16.5,-7.4 -11.5,-13.5 Z" fill="#fff" stroke="#222" stroke-width="1.25"/><path d="M-15.0,-5.4 L15.0,-5.4 M-15.0,5.4 L15.0,5.4" fill="none" stroke="#222" stroke-width="0.94"/><path d="M-13.5,-13.5 Q-10.5,-9.4 -13.5,-5.4 M-13.5,-5.4 Q-10.5,0.0 -13.5,5.4 M-13.5,5.4 Q-10.5,9.4 -13.5,13.5" fill="none" stroke="#222" stroke-width="0.75"/><path d="M13.5,-13.5 Q10.5,-9.4 13.5,-5.4 M13.5,-5.4 Q10.5,0.0 13.5,5.4 M13.5,5.4 Q10.5,9.4 13.5,13.5" fill="none" stroke="#222" stroke-width="0.75"/></g>
<path class="tw" d="M905.5,1070.7 L967.9,1033.9 L1037.3,1084.9 L977.8,1113.2 Z"/>
<path class="tw" d="M905.5,1070.7 L977.8,1113.2 L977.8,1236.5 L905.5,1206.8 Z"/>
<path class="tw" d="M977.8,1113.2 L1037.3,1084.9 L1037.3,1203.9 L977.8,1236.5 Z"/>
<path class="t" d="M997.6,1065.0 L1027.4,1089.1 L1027.4,1082.6"/>
<g transform="translate(1019.5 1065.7) rotate(-27.0) scale(1.000 1.000)" stroke-linejoin="round" stroke-linecap="round"><path d="M-12.0,-15.5 L12.0,-15.5 A8.4,15.5 0 0 1 12.0,15.5 L-12.0,15.5 L-19.2,7.7 L-19.2,-7.8 L-12.0,-15.5 Z" fill="#fff" stroke="#222" stroke-width="1.25"/><path d="M-4.8,7.7 L-12.0,15.5 L-19.2,7.7 L-19.2,-7.8 L-12.0,-15.5 L-4.8,-7.8 Z" fill="#fff" stroke="#222" stroke-width="1.25"/><path d="M-4.8,-7.8 L18.7,-7.8 M-4.8,7.7 L18.7,7.8" fill="none" stroke="#222" stroke-width="0.94"/></g>
<path d="M977.8,1113.2 L1037.3,1084.9 L1037.3,1116.1 L977.8,1144.4 Z" fill="#fff" stroke="none"/><path class="t" d="M977.8,1113.2 L1037.3,1084.9"/>
<path class="t" d="M977.8,1113.2 L977.8,1144.4"/>
<path class="t" d="M1037.3,1084.9 L1037.3,1116.1"/>
<g transform="translate(940.9 1133.7) rotate(-27.0) scale(1.000 1.000)" stroke-linejoin="round" stroke-linecap="round"><path d="M23.0,-14.0 L-23.0,-14.0 A5.6,14.0 0 0 0 -23.0,14.0 L23.0,14.0 A5.6,14.0 0 0 0 23.0,-14.0 Z" fill="#fff" stroke="#222" stroke-width="1.25"/><ellipse cx="-23.0" cy="0" rx="5.6" ry="14.0" fill="#fff" stroke="#222" stroke-width="1.25"/></g>
<g transform="translate(956.0 1125.2) rotate(-27.0) scale(1.000 1.000)" stroke-linejoin="round" stroke-linecap="round"><path d="M-3.8,-16.0 L3.8,-16.0 C8.2,-8.8 8.2,8.8 3.8,16.0 L-3.8,16.0 C-8.2,8.8 -8.2,-8.8 -3.8,-16.0 Z" fill="#fff" stroke="#222" stroke-width="1.25"/><path d="M-6.9,-6.4 L6.9,-6.4 M-6.9,6.4 L6.9,6.4" fill="none" stroke="#222" stroke-width="0.94"/><path d="M-5.6,-16.0 Q-3.0,-11.2 -5.6,-6.4 M-5.6,-6.4 Q-3.0,0.0 -5.6,6.4 M-5.6,6.4 Q-3.0,11.2 -5.6,16.0" fill="none" stroke="#222" stroke-width="0.75"/><path d="M5.6,-16.0 Q3.0,-11.2 5.6,-6.4 M5.6,-6.4 Q3.0,0.0 5.6,6.4 M5.6,6.4 Q3.0,11.2 5.6,16.0" fill="none" stroke="#222" stroke-width="0.75"/></g>
<path class="mw" d="M904.9,1147.9 L910.6,1142.2 L918.3,1146.4 L918.3,1164.9 L906.1,1166.3 Z"/>
<path class="m" d="M910.6,1142.2 L911.7,1160.6 L906.1,1166.3"/>
<path class="m" d="M911.7,1160.6 L918.3,1164.9"/>
<g transform="translate(916.0 1116.7) rotate(-27.5) scale(1.000 1.000)" stroke-linejoin="round" stroke-linecap="round"><path d="M-18.5,-14.5 L18.5,-14.5 A7.8,14.5 0 0 1 18.5,14.5 L-18.5,14.5 L-25.3,7.2 L-25.3,-7.3 L-18.5,-14.5 Z" fill="#fff" stroke="#222" stroke-width="1.25"/><path d="M-11.7,7.2 L-18.5,14.5 L-25.3,7.2 L-25.3,-7.3 L-18.5,-14.5 L-11.7,-7.3 Z" fill="#fff" stroke="#222" stroke-width="1.25"/><path d="M-11.7,-7.3 L24.8,-7.2 M-11.7,7.2 L24.8,7.2" fill="none" stroke="#222" stroke-width="0.94"/><path d="M12.5,-14.5 A7.8,14.5 0 0 1 12.5,14.5" fill="none" stroke="#222" stroke-width="1.00"/></g>
<g transform="translate(940.9 1194.6) rotate(-27.0) scale(1.000 1.000)" stroke-linejoin="round" stroke-linecap="round"><path d="M23.0,-14.0 L-23.0,-14.0 A5.6,14.0 0 0 0 -23.0,14.0 L23.0,14.0 A5.6,14.0 0 0 0 23.0,-14.0 Z" fill="#fff" stroke="#222" stroke-width="1.25"/><ellipse cx="-23.0" cy="0" rx="5.6" ry="14.0" fill="#fff" stroke="#222" stroke-width="1.25"/></g>
<g transform="translate(956.0 1186.1) rotate(-27.0) scale(1.000 1.000)" stroke-linejoin="round" stroke-linecap="round"><path d="M-3.8,-16.0 L3.8,-16.0 C8.2,-8.8 8.2,8.8 3.8,16.0 L-3.8,16.0 C-8.2,8.8 -8.2,-8.8 -3.8,-16.0 Z" fill="#fff" stroke="#222" stroke-width="1.25"/><path d="M-6.9,-6.4 L6.9,-6.4 M-6.9,6.4 L6.9,6.4" fill="none" stroke="#222" stroke-width="0.94"/><path d="M-5.6,-16.0 Q-3.0,-11.2 -5.6,-6.4 M-5.6,-6.4 Q-3.0,0.0 -5.6,6.4 M-5.6,6.4 Q-3.0,11.2 -5.6,16.0" fill="none" stroke="#222" stroke-width="0.75"/><path d="M5.6,-16.0 Q3.0,-11.2 5.6,-6.4 M5.6,-6.4 Q3.0,0.0 5.6,6.4 M5.6,6.4 Q3.0,11.2 5.6,16.0" fill="none" stroke="#222" stroke-width="0.75"/></g>
<path class="mw" d="M904.9,1208.8 L910.6,1203.1 L918.3,1207.4 L918.3,1225.8 L906.1,1227.2 Z"/>
<path class="m" d="M910.6,1203.1 L911.7,1221.6 L906.1,1227.2"/>
<path class="m" d="M911.7,1221.6 L918.3,1225.8"/>
<g transform="translate(916.0 1177.6) rotate(-27.5) scale(1.000 1.000)" stroke-linejoin="round" stroke-linecap="round"><path d="M-18.5,-14.5 L18.5,-14.5 A7.8,14.5 0 0 1 18.5,14.5 L-18.5,14.5 L-25.3,7.2 L-25.3,-7.3 L-18.5,-14.5 Z" fill="#fff" stroke="#222" stroke-width="1.25"/><path d="M-11.7,7.2 L-18.5,14.5 L-25.3,7.2 L-25.3,-7.3 L-18.5,-14.5 L-11.7,-7.3 Z" fill="#fff" stroke="#222" stroke-width="1.25"/><path d="M-11.7,-7.3 L24.8,-7.2 M-11.7,7.2 L24.8,7.2" fill="none" stroke="#222" stroke-width="0.94"/><path d="M12.5,-14.5 A7.8,14.5 0 0 1 12.5,14.5" fill="none" stroke="#222" stroke-width="1.00"/></g>

<g transform="translate(996.8 1157.2) rotate(-20.0) scale(1.000 1.000)" stroke-linejoin="round" stroke-linecap="round"><path d="M-13.0,-14.0 L13.0,-14.0 A7.6,14.0 0 0 1 13.0,14.0 L-13.0,14.0 L-19.5,7.0 L-19.5,-7.0 L-13.0,-14.0 Z" fill="#fff" stroke="#222" stroke-width="1.25"/><path d="M-6.5,7.0 L-13.0,14.0 L-19.5,7.0 L-19.5,-7.0 L-13.0,-14.0 L-6.5,-7.0 Z" fill="#fff" stroke="#222" stroke-width="1.25"/><path d="M-6.5,-7.0 L19.0,-7.0 M-6.5,7.0 L19.0,7.0" fill="none" stroke="#222" stroke-width="0.94"/><path d="M8.0,-14.0 A7.6,14.0 0 0 1 8.0,14.0" fill="none" stroke="#222" stroke-width="1.00"/></g>
<path class="mw" d="M1004.7,1161.4 L1027.4,1175.6 L1038.7,1169.9 L1050.1,1178.4 L1055.7,1189.8 L1050.1,1202.5 L1038.7,1203.9 L1027.4,1195.4 L1013.2,1201.1 L1007.6,1189.8 L993.4,1181.2 L993.4,1172.7 Z"/>
<ellipse class="mw" cx="997.6" cy="1175.6" rx="4.0" ry="4.8" transform="rotate(0.0 997.6 1175.6)"/>
<ellipse class="m" cx="997.6" cy="1175.6" rx="1.7" ry="2.3" transform="rotate(0.0 997.6 1175.6)"/>
<ellipse class="mw" cx="1033.1" cy="1175.6" rx="3.7" ry="4.5" transform="rotate(0.0 1033.1 1175.6)"/>
<ellipse class="m" cx="1033.1" cy="1175.6" rx="1.4" ry="2.0" transform="rotate(0.0 1033.1 1175.6)"/>
<ellipse class="mw" cx="1014.6" cy="1192.6" rx="4.3" ry="5.1" transform="rotate(0.0 1014.6 1192.6)"/>
<ellipse class="m" cx="1014.6" cy="1192.6" rx="1.7" ry="2.3" transform="rotate(0.0 1014.6 1192.6)"/>
<ellipse class="mw" cx="1049.5" cy="1194.0" rx="3.7" ry="4.8" transform="rotate(0.0 1049.5 1194.0)"/>
<ellipse class="m" cx="1049.5" cy="1194.0" rx="1.4" ry="2.0" transform="rotate(0.0 1049.5 1194.0)"/>
<g transform="translate(1034.5 1113.0) rotate(-25.0) scale(1.000 1.000)" stroke-linejoin="round" stroke-linecap="round"><path d="M-11.0,-14.0 L11.0,-14.0 A7.6,14.0 0 0 1 11.0,14.0 L-11.0,14.0 L-17.5,7.0 L-17.5,-7.0 L-11.0,-14.0 Z" fill="#fff" stroke="#222" stroke-width="1.25"/><path d="M-4.5,7.0 L-11.0,14.0 L-17.5,7.0 L-17.5,-7.0 L-11.0,-14.0 L-4.5,-7.0 Z" fill="#fff" stroke="#222" stroke-width="1.25"/><path d="M-4.5,-7.0 L17.0,-7.0 M-4.5,7.0 L17.0,7.0" fill="none" stroke="#222" stroke-width="0.94"/></g>

<g transform="translate(1057.2 1191.2) rotate(90.0) scale(1.000 1.000)" stroke-linejoin="round" stroke-linecap="round"><path d="M-8.5,-10.5 L8.5,-10.5 C13.5,-5.8 13.5,5.8 8.5,10.5 L-8.5,10.5 C-13.5,5.8 -13.5,-5.8 -8.5,-10.5 Z" fill="#fff" stroke="#222" stroke-width="1.25"/><path d="M-12.0,-4.2 L12.0,-4.2 M-12.0,4.2 L12.0,4.2" fill="none" stroke="#222" stroke-width="0.94"/><path d="M-10.5,-10.5 Q-7.5,-7.3 -10.5,-4.2 M-10.5,-4.2 Q-7.5,0.0 -10.5,4.2 M-10.5,4.2 Q-7.5,7.3 -10.5,10.5" fill="none" stroke="#222" stroke-width="0.75"/><path d="M10.5,-10.5 Q7.5,-7.3 10.5,-4.2 M10.5,-4.2 Q7.5,0.0 10.5,4.2 M10.5,4.2 Q7.5,7.3 10.5,10.5" fill="none" stroke="#222" stroke-width="0.75"/></g>
<g transform="translate(1057.2 1164.2) rotate(90.0) scale(1.000 1.000)" stroke-linejoin="round" stroke-linecap="round"><path d="M-11.5,-10.0 L11.5,-10.0 C16.5,-5.5 16.5,5.5 11.5,10.0 L-11.5,10.0 C-16.5,5.5 -16.5,-5.5 -11.5,-10.0 Z" fill="#fff" stroke="#222" stroke-width="1.25"/><path d="M-15.0,-4.0 L15.0,-4.0 M-15.0,4.0 L15.0,4.0" fill="none" stroke="#222" stroke-width="0.94"/><path d="M-13.5,-10.0 Q-10.5,-7.0 -13.5,-4.0 M-13.5,-4.0 Q-10.5,0.0 -13.5,4.0 M-13.5,4.0 Q-10.5,7.0 -13.5,10.0" fill="none" stroke="#222" stroke-width="0.75"/><path d="M13.5,-10.0 Q10.5,-7.0 13.5,-4.0 M13.5,-4.0 Q10.5,0.0 13.5,4.0 M13.5,4.0 Q10.5,7.0 13.5,10.0" fill="none" stroke="#222" stroke-width="0.75"/></g>
<g transform="translate(1057.2 1150.1) rotate(-90.0) scale(0.720 -0.720)" stroke-linejoin="round" stroke-linecap="round"><path d="M2,-12 C3,-17 5,-20 8,-22 C12,-25 16,-27 21,-27.5 C27,-28 32,-27 36,-24.5 C40,-22 43,-19 44.5,-15 C45.5,-11 46,-8 45,-4" fill="none" stroke="#222" stroke-width="4.03"/><path d="M2,-12 C3,-17 5,-20 8,-22 C12,-25 16,-27 21,-27.5 C27,-28 32,-27 36,-24.5 C40,-22 43,-19 44.5,-15 C45.5,-11 46,-8 45,-4" fill="none" stroke="#fff" stroke-width="1.25"/><path d="M0,-12 L40,-10.5 A4.5,10.5 0 0 1 40,10.5 L0,12 A4.5,12 0 0 1 0,-12 Z" fill="#fff" stroke="#222" stroke-width="1.74"/><path d="M4,-7.5 L37,-6.6" fill="none" stroke="#222" stroke-width="1.30"/><path d="M4,-3.5 L37,-3.1" fill="none" stroke="#222" stroke-width="1.30"/><path d="M4,0.5 L37,0.4" fill="none" stroke="#222" stroke-width="1.30"/><path d="M4,4.5 L37,4.0" fill="none" stroke="#222" stroke-width="1.30"/><path d="M4,8.5 L37,7.5" fill="none" stroke="#222" stroke-width="1.30"/><ellipse cx="40" cy="0" rx="4.5" ry="10.5" fill="#fff" stroke="#222" stroke-width="1.74"/><ellipse cx="41" cy="0" rx="3" ry="6.5" fill="#fff" stroke="#222" stroke-width="2.26"/><path d="M0,-12 A4.5,12 0 0 1 0,12" fill="none" stroke="#222" stroke-width="1.74"/><path d="M-3,-12.5 A4.5,12.5 0 0 1 -3,12.5 L0,12 M-3,-12.5 L0,-12" fill="none" stroke="#222" stroke-width="1.74"/></g>
<g transform="translate(1057.2 1096.2) rotate(90.0) scale(1.000 1.000)" stroke-linejoin="round" stroke-linecap="round"><path d="M-13.5,-10.0 L13.5,-10.0 C18.5,-5.5 18.5,5.5 13.5,10.0 L-13.5,10.0 C-18.5,5.5 -18.5,-5.5 -13.5,-10.0 Z" fill="#fff" stroke="#222" stroke-width="1.25"/><path d="M-17.0,-4.0 L17.0,-4.0 M-17.0,4.0 L17.0,4.0" fill="none" stroke="#222" stroke-width="0.94"/><path d="M-15.5,-10.0 Q-12.5,-7.0 -15.5,-4.0 M-15.5,-4.0 Q-12.5,0.0 -15.5,4.0 M-15.5,4.0 Q-12.5,7.0 -15.5,10.0" fill="none" stroke="#222" stroke-width="0.75"/><path d="M15.5,-10.0 Q12.5,-7.0 15.5,-4.0 M15.5,-4.0 Q12.5,0.0 15.5,4.0 M15.5,4.0 Q12.5,7.0 15.5,10.0" fill="none" stroke="#222" stroke-width="0.75"/></g>
<g transform="translate(1057.2 1079.2) rotate(-90.0) scale(0.720 -0.720)" stroke-linejoin="round" stroke-linecap="round"><path d="M2,-12 C3,-17 5,-20 8,-22 C12,-25 16,-27 21,-27.5 C27,-28 32,-27 36,-24.5 C40,-22 43,-19 44.5,-15 C45.5,-11 46,-8 45,-4" fill="none" stroke="#222" stroke-width="4.03"/><path d="M2,-12 C3,-17 5,-20 8,-22 C12,-25 16,-27 21,-27.5 C27,-28 32,-27 36,-24.5 C40,-22 43,-19 44.5,-15 C45.5,-11 46,-8 45,-4" fill="none" stroke="#fff" stroke-width="1.25"/><path d="M0,-12 L40,-10.5 A4.5,10.5 0 0 1 40,10.5 L0,12 A4.5,12 0 0 1 0,-12 Z" fill="#fff" stroke="#222" stroke-width="1.74"/><path d="M4,-7.5 L37,-6.6" fill="none" stroke="#222" stroke-width="1.30"/><path d="M4,-3.5 L37,-3.1" fill="none" stroke="#222" stroke-width="1.30"/><path d="M4,0.5 L37,0.4" fill="none" stroke="#222" stroke-width="1.30"/><path d="M4,4.5 L37,4.0" fill="none" stroke="#222" stroke-width="1.30"/><path d="M4,8.5 L37,7.5" fill="none" stroke="#222" stroke-width="1.30"/><ellipse cx="40" cy="0" rx="4.5" ry="10.5" fill="#fff" stroke="#222" stroke-width="1.74"/><ellipse cx="41" cy="0" rx="3" ry="6.5" fill="#fff" stroke="#222" stroke-width="2.26"/><path d="M0,-12 A4.5,12 0 0 1 0,12" fill="none" stroke="#222" stroke-width="1.74"/><path d="M-3,-12.5 A4.5,12.5 0 0 1 -3,12.5 L0,12 M-3,-12.5 L0,-12" fill="none" stroke="#222" stroke-width="1.74"/></g>
<path class="t" d="M1028.8,980.0 C1032.4,982.8 1045.8,991.3 1050.1,997.0 C1054.3,1002.7 1053.6,1005.7 1054.3,1014.0 C1055.0,1022.3 1054.3,1041.2 1054.3,1046.6"/>
<g transform="translate(1052.2 866.9) rotate(90.0) scale(1.000 1.000)" stroke-linejoin="round" stroke-linecap="round"><path d="M-10.5,-12.5 L10.5,-12.5 C15.5,-6.9 15.5,6.9 10.5,12.5 L-10.5,12.5 C-15.5,6.9 -15.5,-6.9 -10.5,-12.5 Z" fill="#fff" stroke="#222" stroke-width="1.25"/><path d="M-14.0,-5.0 L14.0,-5.0 M-14.0,5.0 L14.0,5.0" fill="none" stroke="#222" stroke-width="0.94"/><path d="M-12.5,-12.5 Q-9.5,-8.8 -12.5,-5.0 M-12.5,-5.0 Q-9.5,0.0 -12.5,5.0 M-12.5,5.0 Q-9.5,8.8 -12.5,12.5" fill="none" stroke="#222" stroke-width="0.75"/><path d="M12.5,-12.5 Q9.5,-8.8 12.5,-5.0 M12.5,-5.0 Q9.5,0.0 12.5,5.0 M12.5,5.0 Q9.5,8.8 12.5,12.5" fill="none" stroke="#222" stroke-width="0.75"/></g>
<path class="mw" d="M1043.4,853.0 L1043.9,839.2 L1051.0,830.4 L1061.1,829.1 L1066.1,837.9 L1063.6,853.0 Z"/>
<path class="m" d="M1043.9,839.2 L1053.5,843.0 L1066.1,837.9"/>
<path class="m" d="M1053.5,843.0 L1053.5,853.0"/>
<g transform="translate(1068.6 831.6) rotate(-30.0) scale(1.000 1.000)" stroke-linejoin="round" stroke-linecap="round"><path d="M-9.5,-11.5 L9.5,-11.5 C14.5,-6.3 14.5,6.3 9.5,11.5 L-9.5,11.5 C-14.5,6.3 -14.5,-6.3 -9.5,-11.5 Z" fill="#fff" stroke="#222" stroke-width="1.25"/><path d="M-13.0,-4.6 L13.0,-4.6 M-13.0,4.6 L13.0,4.6" fill="none" stroke="#222" stroke-width="0.94"/><path d="M-11.5,-11.5 Q-8.5,-8.0 -11.5,-4.6 M-11.5,-4.6 Q-8.5,0.0 -11.5,4.6 M-11.5,4.6 Q-8.5,8.0 -11.5,11.5" fill="none" stroke="#222" stroke-width="0.75"/><path d="M11.5,-11.5 Q8.5,-8.0 11.5,-4.6 M11.5,-4.6 Q8.5,0.0 11.5,4.6 M11.5,4.6 Q8.5,8.0 11.5,11.5" fill="none" stroke="#222" stroke-width="0.75"/></g>
<g transform="translate(1083.7 821.6) rotate(-30.0) scale(1.000 1.000)" stroke-linejoin="round" stroke-linecap="round"><path d="M-4.2,-9.5 L4.2,-9.5 C8.8,-5.2 8.8,5.2 4.2,9.5 L-4.2,9.5 C-8.8,5.2 -8.8,-5.2 -4.2,-9.5 Z" fill="#fff" stroke="#222" stroke-width="1.25"/><path d="M-7.4,-3.8 L7.4,-3.8 M-7.4,3.8 L7.4,3.8" fill="none" stroke="#222" stroke-width="0.94"/><path d="M-6.0,-9.5 Q-3.2,-6.6 -6.0,-3.8 M-6.0,-3.8 Q-3.2,0.0 -6.0,3.8 M-6.0,3.8 Q-3.2,6.6 -6.0,9.5" fill="none" stroke="#222" stroke-width="0.75"/><path d="M6.0,-9.5 Q3.2,-6.6 6.0,-3.8 M6.0,-3.8 Q3.2,0.0 6.0,3.8 M6.0,3.8 Q3.2,6.6 6.0,9.5" fill="none" stroke="#222" stroke-width="0.75"/></g>
<g transform="translate(1088.3 819.8) rotate(-29.0) scale(0.930 0.930)" stroke-linejoin="round" stroke-linecap="round"><path d="M2,-12 C3,-17 5,-20 8,-22 C12,-25 16,-27 21,-27.5 C27,-28 32,-27 36,-24.5 C40,-22 43,-19 44.5,-15 C45.5,-11 46,-8 45,-4" fill="none" stroke="#222" stroke-width="3.12"/><path d="M2,-12 C3,-17 5,-20 8,-22 C12,-25 16,-27 21,-27.5 C27,-28 32,-27 36,-24.5 C40,-22 43,-19 44.5,-15 C45.5,-11 46,-8 45,-4" fill="none" stroke="#fff" stroke-width="0.97"/><path d="M0,-12 L40,-10.5 A4.5,10.5 0 0 1 40,10.5 L0,12 A4.5,12 0 0 1 0,-12 Z" fill="#fff" stroke="#222" stroke-width="1.34"/><path d="M4,-7.5 L37,-6.6" fill="none" stroke="#222" stroke-width="1.01"/><path d="M4,-3.5 L37,-3.1" fill="none" stroke="#222" stroke-width="1.01"/><path d="M4,0.5 L37,0.4" fill="none" stroke="#222" stroke-width="1.01"/><path d="M4,4.5 L37,4.0" fill="none" stroke="#222" stroke-width="1.01"/><path d="M4,8.5 L37,7.5" fill="none" stroke="#222" stroke-width="1.01"/><ellipse cx="40" cy="0" rx="4.5" ry="10.5" fill="#fff" stroke="#222" stroke-width="1.34"/><ellipse cx="41" cy="0" rx="3" ry="6.5" fill="#fff" stroke="#222" stroke-width="1.75"/><path d="M0,-12 A4.5,12 0 0 1 0,12" fill="none" stroke="#222" stroke-width="1.34"/><path d="M-3,-12.5 A4.5,12.5 0 0 1 -3,12.5 L0,12 M-3,-12.5 L0,-12" fill="none" stroke="#222" stroke-width="1.34"/></g>
<g transform="translate(1134.1 914.8) rotate(90.0) scale(1.000 1.000)" stroke-linejoin="round" stroke-linecap="round"><path d="M-10.5,-12.5 L10.5,-12.5 C15.5,-6.9 15.5,6.9 10.5,12.5 L-10.5,12.5 C-15.5,6.9 -15.5,-6.9 -10.5,-12.5 Z" fill="#fff" stroke="#222" stroke-width="1.25"/><path d="M-14.0,-5.0 L14.0,-5.0 M-14.0,5.0 L14.0,5.0" fill="none" stroke="#222" stroke-width="0.94"/><path d="M-12.5,-12.5 Q-9.5,-8.8 -12.5,-5.0 M-12.5,-5.0 Q-9.5,0.0 -12.5,5.0 M-12.5,5.0 Q-9.5,8.8 -12.5,12.5" fill="none" stroke="#222" stroke-width="0.75"/><path d="M12.5,-12.5 Q9.5,-8.8 12.5,-5.0 M12.5,-5.0 Q9.5,0.0 12.5,5.0 M12.5,5.0 Q9.5,8.8 12.5,12.5" fill="none" stroke="#222" stroke-width="0.75"/></g>
<path class="mw" d="M1125.3,900.9 L1125.8,887.1 L1132.8,878.2 L1142.9,877.0 L1148.0,885.8 L1145.4,900.9 Z"/>
<path class="m" d="M1125.8,887.1 L1135.4,890.8 L1148.0,885.8"/>
<path class="m" d="M1135.4,890.8 L1135.4,900.9"/>
<g transform="translate(1150.5 879.5) rotate(-30.0) scale(1.000 1.000)" stroke-linejoin="round" stroke-linecap="round"><path d="M-9.5,-11.5 L9.5,-11.5 C14.5,-6.3 14.5,6.3 9.5,11.5 L-9.5,11.5 C-14.5,6.3 -14.5,-6.3 -9.5,-11.5 Z" fill="#fff" stroke="#222" stroke-width="1.25"/><path d="M-13.0,-4.6 L13.0,-4.6 M-13.0,4.6 L13.0,4.6" fill="none" stroke="#222" stroke-width="0.94"/><path d="M-11.5,-11.5 Q-8.5,-8.0 -11.5,-4.6 M-11.5,-4.6 Q-8.5,0.0 -11.5,4.6 M-11.5,4.6 Q-8.5,8.0 -11.5,11.5" fill="none" stroke="#222" stroke-width="0.75"/><path d="M11.5,-11.5 Q8.5,-8.0 11.5,-4.6 M11.5,-4.6 Q8.5,0.0 11.5,4.6 M11.5,4.6 Q8.5,8.0 11.5,11.5" fill="none" stroke="#222" stroke-width="0.75"/></g>
<g transform="translate(1165.6 869.4) rotate(-30.0) scale(1.000 1.000)" stroke-linejoin="round" stroke-linecap="round"><path d="M-4.2,-9.5 L4.2,-9.5 C8.8,-5.2 8.8,5.2 4.2,9.5 L-4.2,9.5 C-8.8,5.2 -8.8,-5.2 -4.2,-9.5 Z" fill="#fff" stroke="#222" stroke-width="1.25"/><path d="M-7.4,-3.8 L7.4,-3.8 M-7.4,3.8 L7.4,3.8" fill="none" stroke="#222" stroke-width="0.94"/><path d="M-6.0,-9.5 Q-3.2,-6.6 -6.0,-3.8 M-6.0,-3.8 Q-3.2,0.0 -6.0,3.8 M-6.0,3.8 Q-3.2,6.6 -6.0,9.5" fill="none" stroke="#222" stroke-width="0.75"/><path d="M6.0,-9.5 Q3.2,-6.6 6.0,-3.8 M6.0,-3.8 Q3.2,0.0 6.0,3.8 M6.0,3.8 Q3.2,6.6 6.0,9.5" fill="none" stroke="#222" stroke-width="0.75"/></g>
<g transform="translate(1170.1 867.7) rotate(-29.0) scale(0.930 0.930)" stroke-linejoin="round" stroke-linecap="round"><path d="M2,-12 C3,-17 5,-20 8,-22 C12,-25 16,-27 21,-27.5 C27,-28 32,-27 36,-24.5 C40,-22 43,-19 44.5,-15 C45.5,-11 46,-8 45,-4" fill="none" stroke="#222" stroke-width="3.12"/><path d="M2,-12 C3,-17 5,-20 8,-22 C12,-25 16,-27 21,-27.5 C27,-28 32,-27 36,-24.5 C40,-22 43,-19 44.5,-15 C45.5,-11 46,-8 45,-4" fill="none" stroke="#fff" stroke-width="0.97"/><path d="M0,-12 L40,-10.5 A4.5,10.5 0 0 1 40,10.5 L0,12 A4.5,12 0 0 1 0,-12 Z" fill="#fff" stroke="#222" stroke-width="1.34"/><path d="M4,-7.5 L37,-6.6" fill="none" stroke="#222" stroke-width="1.01"/><path d="M4,-3.5 L37,-3.1" fill="none" stroke="#222" stroke-width="1.01"/><path d="M4,0.5 L37,0.4" fill="none" stroke="#222" stroke-width="1.01"/><path d="M4,4.5 L37,4.0" fill="none" stroke="#222" stroke-width="1.01"/><path d="M4,8.5 L37,7.5" fill="none" stroke="#222" stroke-width="1.01"/><ellipse cx="40" cy="0" rx="4.5" ry="10.5" fill="#fff" stroke="#222" stroke-width="1.34"/><ellipse cx="41" cy="0" rx="3" ry="6.5" fill="#fff" stroke="#222" stroke-width="1.75"/><path d="M0,-12 A4.5,12 0 0 1 0,12" fill="none" stroke="#222" stroke-width="1.34"/><path d="M-3,-12.5 A4.5,12.5 0 0 1 -3,12.5 L0,12 M-3,-12.5 L0,-12" fill="none" stroke="#222" stroke-width="1.34"/></g>
<rect x="1230.5" y="880" width="40" height="400" fill="#fff"/><!-- cyl1 -->
<g transform="translate(0.0 0.0)"><path class="mw" d="M392.9,1252.2 L392.9,1266.6 L396.8,1269.3 L407.8,1269.3 L412.8,1266.6 L412.8,1252.2 Z"/>
<path class="m" d="M392.9,1256.1 C393.7,1256.6 395.4,1258.4 397.9,1258.9 C400.4,1259.3 405.3,1259.3 407.8,1258.9 C410.3,1258.4 411.9,1256.6 412.8,1256.1"/>
<path class="m" d="M392.9,1260.5 C393.7,1261.0 395.4,1262.8 397.9,1263.3 C400.4,1263.7 405.3,1263.7 407.8,1263.3 C410.3,1262.8 411.9,1261.0 412.8,1260.5"/>
<path class="m" d="M392.9,1264.9 C393.7,1265.4 395.4,1267.2 397.9,1267.7 C400.4,1268.1 405.3,1268.1 407.8,1267.7 C410.3,1267.2 411.9,1265.4 412.8,1264.9"/>
<g transform="translate(427.1 1221.6) rotate(-30.0) scale(1.000 1.000)" stroke-linejoin="round" stroke-linecap="round"><path d="M8.5,-8.0 L-8.5,-8.0 A3.2,8.0 0 0 0 -8.5,8.0 L8.5,8.0 A3.2,8.0 0 0 0 8.5,-8.0 Z" fill="#fff" stroke="#222" stroke-width="1.25"/><ellipse cx="-8.5" cy="0" rx="3.2" ry="8.0" fill="#fff" stroke="#222" stroke-width="1.25"/><path d="M-4.2,-8.0 A3.2,8.0 0 0 0 -4.2,8.0" fill="none" stroke="#222" stroke-width="1.00"/><path d="M0.0,-8.0 A3.2,8.0 0 0 0 0.0,8.0" fill="none" stroke="#222" stroke-width="1.00"/><path d="M4.2,-8.0 A3.2,8.0 0 0 0 4.2,8.0" fill="none" stroke="#222" stroke-width="1.00"/></g>
<path class="mw" d="M413.3,1220.8 L421.0,1218.1 L421.6,1234.6 L413.3,1239.0 Z"/>
<path class="mw" d="M391.3,1220.3 L412.2,1219.2 L413.1,1246.7 L410.0,1250.0 L394.6,1253.9 L391.5,1245.6 Z"/>
<path class="m" d="M394.6,1223.6 L403.9,1229.6 L412.2,1224.7"/>
<path class="m" d="M403.9,1229.6 L403.4,1250.0"/>
<path class="mw" d="M384.1,1199.3 L388.5,1193.8 L418.8,1180.6 L421.0,1193.8 L421.0,1213.7 L412.2,1218.3 L402.3,1220.3 L392.4,1218.1 L384.9,1209.2 Z"/>
<path class="m" d="M385.2,1199.3 L394.0,1202.1 L410.6,1200.4 L420.5,1193.8"/>
<path class="m" d="M394.0,1202.1 L393.5,1218.1"/>
<path class="m" d="M410.6,1200.4 L410.9,1218.6"/>
<path class="t" d="M402.8,1272.1 L402.8,1287.5"/>
<path class="t" d="M436.5,1216.1 L449.7,1208.4"/>
<g transform="translate(166.8 1392.5) rotate(33.0) scale(1.000 1.000)" stroke-linejoin="round" stroke-linecap="round"><path d="M-12.0,-8.0 L12.0,-8.0 A3.2,8.0 0 0 1 12.0,8.0 L-12.0,8.0 A3.2,8.0 0 0 1 -12.0,-8.0 Z" fill="#fff" stroke="#222" stroke-width="1.25"/><ellipse cx="12.0" cy="0" rx="3.2" ry="8.0" fill="#fff" stroke="#222" stroke-width="1.25"/><path d="M-7.2,-8.0 A3.2,8.0 0 0 1 -7.2,8.0" fill="none" stroke="#222" stroke-width="1.00"/><path d="M-2.4,-8.0 A3.2,8.0 0 0 1 -2.4,8.0" fill="none" stroke="#222" stroke-width="1.00"/><path d="M2.4,-8.0 A3.2,8.0 0 0 1 2.4,8.0" fill="none" stroke="#222" stroke-width="1.00"/><path d="M7.2,-8.0 A3.2,8.0 0 0 1 7.2,8.0" fill="none" stroke="#222" stroke-width="1.00"/></g>
<path class="mw" d="M136.1,1371.3 L161.3,1369.7 L164.7,1376.0 L153.7,1381.0 L156.9,1399.6 L153.4,1401.5 L136.4,1388.9 Z"/>
<path class="m" d="M136.4,1374.4 L150.2,1383.9 L153.7,1381.0"/>
<path class="m" d="M150.2,1383.9 L153.4,1401.2"/>
<path class="mw" d="M131.3,1338.2 L134.5,1334.3 L164.4,1328.7 L167.6,1338.2 L167.9,1363.4 L159.7,1371.3 L148.7,1373.1 L137.6,1370.5 L131.0,1360.2 Z"/>
<path class="m" d="M131.7,1347.6 L141.6,1352.4 L158.1,1350.8 L167.6,1344.5"/>
<path class="m" d="M132.9,1337.4 L142.4,1342.1 L157.3,1340.6 L166.8,1333.5"/>
<path class="m" d="M141.6,1342.1 L141.6,1372.0"/>
<path class="m" d="M158.1,1340.6 L158.4,1371.3"/>
<path class="t" d="M179.4,1397.2 L185.7,1403.5"/>
<path class="tw" d="M118.7,1279.1 L398.3,1117.5 L398.3,1117.5 C401.3,1118.3 411.5,1119.3 416.7,1122.4 C421.9,1125.6 426.4,1131.2 429.4,1136.6 C432.5,1142.0 434.4,1149.6 435.1,1155.0 C435.8,1160.5 434.6,1165.9 433.7,1169.2 C432.8,1172.5 430.2,1173.9 429.4,1174.9 L157.3,1328.7 Z"/><path class="t" d="M392.6,1113.9 L392.6,1120.3 L399.0,1117.8"/>
<path class="t" d="M491.1,1118.2 C491.3,1120.1 492.0,1126.2 492.1,1129.5 C492.2,1132.8 492.6,1135.4 491.8,1138.0 C491.1,1140.6 488.3,1143.9 487.6,1145.1"/>
<path class="t" d="M436.5,1176.3 L487.6,1145.1"/>
<path class="tw" d="M436.5,1140.9 L479.1,1116.8 L491.1,1112.5 L491.8,1138.0 L487.6,1145.1 L436.5,1176.3 Z"/>
<path class="t" d="M436.5,1140.9 L436.5,1176.3 L430.9,1173.2"/>
<path class="tw" d="M392.6,1113.9 L436.5,1088.4 C439.1,1087.5 446.5,1084.0 452.1,1083.0 C457.8,1082.1 465.1,1081.9 470.6,1082.8 C476.0,1083.7 481.3,1085.6 484.7,1088.4 C488.1,1091.3 490.5,1096.1 491.1,1099.8 C491.7,1103.4 490.3,1107.6 488.3,1110.4 C486.3,1113.2 480.6,1115.7 479.1,1116.8 L436.5,1140.9 L435.8,1149.4 L435.1,1155.0 C434.2,1152.0 432.5,1142.0 429.4,1136.6 C426.4,1131.2 421.9,1125.6 416.7,1122.4 C411.5,1119.3 401.3,1118.3 398.3,1117.5 Z"/><path class="t" d="M491.1,1100.5 C491.3,1101.5 493.0,1104.0 492.5,1106.9 C492.0,1109.7 490.3,1114.8 488.3,1117.5 C486.3,1120.2 481.8,1122.2 480.5,1123.1"/>
<path class="t" d="M480.5,1123.1 L445.0,1143.0"/>
<path class="t" d="M479.1,1116.8 L436.5,1140.9"/>
<path class="t" d="M446.5,1143.7 L446.5,1160.7 L484.7,1138.0"/>
<path class="t" d="M446.5,1143.7 L462.0,1134.9"/>
<path class="t" d="M462.0,1134.9 C463.2,1134.8 467.0,1135.1 469.1,1134.5 C471.3,1133.8 473.7,1132.2 474.8,1130.9 C475.9,1129.6 475.4,1127.4 475.5,1126.7"/>
<path class="t" d="M474.8,1102.3 C474.6,1102.7 474.0,1103.6 473.5,1104.2 C472.9,1104.8 472.2,1105.4 471.5,1106.0 C470.8,1106.5 469.9,1107.0 469.0,1107.5 C468.1,1107.9 467.1,1108.3 466.1,1108.6 C465.1,1108.9 464.0,1109.2 462.9,1109.4 C461.8,1109.6 460.6,1109.7 459.5,1109.7 C458.4,1109.8 457.3,1109.7 456.2,1109.7 C455.1,1109.6 454.0,1109.4 453.0,1109.1 C452.0,1108.9 451.1,1108.6 450.2,1108.2 C449.3,1107.9 448.5,1107.4 447.8,1107.0 C447.1,1106.5 446.5,1106.0 446.0,1105.4 C445.5,1104.8 445.1,1104.2 444.8,1103.6 C444.6,1103.0 444.4,1102.3 444.4,1101.6 C444.3,1101.0 444.4,1100.3 444.6,1099.6 C444.8,1099.0 445.2,1098.3 445.6,1097.7 C446.0,1097.0 446.6,1096.4 447.3,1095.8 C447.9,1095.3 448.7,1094.7 449.5,1094.2 C450.3,1093.7 451.2,1093.3 452.2,1092.9 C453.2,1092.5 454.2,1092.2 455.3,1091.9 C456.3,1091.7 457.5,1091.5 458.6,1091.3 C459.7,1091.2 460.8,1091.2 461.9,1091.2 C463.0,1091.2 464.2,1091.3 465.2,1091.5 C466.2,1091.7 467.3,1091.9 468.2,1092.2 C469.2,1092.5 470.1,1092.9 470.8,1093.3 C471.6,1093.7 472.6,1094.5 473.0,1094.7"/>
<ellipse class="t" cx="459.9" cy="1104.7" rx="12.8" ry="5.7" transform="rotate(0.0 459.9 1104.7)"/>
<path class="t" d="M436.6,1106.3 C436.4,1106.4 436.0,1106.9 435.7,1107.1 C435.3,1107.4 434.9,1107.7 434.5,1107.9 C434.1,1108.1 433.7,1108.3 433.3,1108.5 C432.8,1108.7 432.3,1108.8 431.9,1108.9 C431.4,1109.0 430.9,1109.0 430.4,1109.0 C430.0,1109.1 429.5,1109.0 429.0,1109.0 C428.6,1108.9 428.1,1108.8 427.7,1108.7 C427.3,1108.6 426.9,1108.4 426.5,1108.2 C426.2,1108.0 425.8,1107.8 425.5,1107.5 C425.2,1107.3 425.0,1107.0 424.8,1106.7 C424.6,1106.4 424.4,1106.0 424.3,1105.7 C424.2,1105.4 424.1,1105.0 424.1,1104.7 C424.1,1104.3 424.1,1104.0 424.2,1103.6 C424.3,1103.3 424.5,1102.9 424.7,1102.6 C424.8,1102.2 425.1,1101.9 425.4,1101.6 C425.6,1101.3 425.9,1101.0 426.3,1100.7 C426.6,1100.4 427.0,1100.2 427.5,1100.0 C427.9,1099.8 428.3,1099.6 428.8,1099.4 C429.2,1099.3 429.7,1099.2 430.2,1099.1 C430.6,1099.0 431.1,1099.0 431.6,1099.0 C432.1,1099.0 432.5,1099.0 433.0,1099.1 C433.4,1099.2 433.9,1099.3 434.3,1099.4 C434.7,1099.6 435.3,1099.9 435.4,1100.0"/>
<path class="t" d="M461.8,1119.7 C461.6,1119.9 461.2,1120.4 460.8,1120.7 C460.5,1121.0 460.0,1121.2 459.6,1121.5 C459.2,1121.7 458.7,1121.9 458.2,1122.1 C457.7,1122.2 457.2,1122.4 456.7,1122.5 C456.2,1122.6 455.7,1122.6 455.2,1122.7 C454.7,1122.7 454.1,1122.7 453.6,1122.6 C453.1,1122.5 452.7,1122.5 452.2,1122.3 C451.8,1122.2 451.3,1122.0 450.9,1121.8 C450.5,1121.6 450.2,1121.4 449.9,1121.1 C449.5,1120.9 449.3,1120.6 449.1,1120.3 C448.8,1120.0 448.7,1119.6 448.5,1119.3 C448.4,1118.9 448.4,1118.6 448.4,1118.2 C448.3,1117.9 448.4,1117.5 448.5,1117.1 C448.6,1116.8 448.8,1116.4 449.0,1116.0 C449.2,1115.7 449.4,1115.3 449.7,1115.0 C450.0,1114.7 450.4,1114.4 450.8,1114.1 C451.1,1113.8 451.6,1113.6 452.0,1113.4 C452.5,1113.1 452.9,1112.9 453.4,1112.8 C453.9,1112.6 454.4,1112.5 454.9,1112.4 C455.5,1112.3 456.0,1112.3 456.5,1112.3 C457.0,1112.3 457.5,1112.3 458.0,1112.4 C458.5,1112.5 459.0,1112.6 459.4,1112.7 C459.9,1112.9 460.5,1113.2 460.7,1113.3"/>
<ellipse class="tw" cx="134" cy="1306.5" rx="15" ry="31.6" transform="rotate(-29.7 134 1306.5)"/><path class="tw" d="M58.1,1331.9 L125,1294.1 L125.0,1294.1 C127.1,1294.9 134.6,1295.7 137.6,1298.8 C140.7,1302.0 142.9,1309.1 143.1,1313.0 C143.4,1316.9 139.9,1320.9 139.2,1322.4 L63.6,1365.7"/><path class="t" d="M58.1,1348.4 L61.3,1350.0 L62.0,1388.6 L58.1,1390.2"/>
</g>
<!-- ports -->
<path class="t" d="M760.8,795.0 L750.4,800.6"/>
<g transform="translate(798.6 791.2) rotate(-30.0) scale(1.000 1.000)" stroke-linejoin="round" stroke-linecap="round"><path d="M2,-12 C3,-17 5,-20 8,-22 C12,-25 16,-27 21,-27.5 C27,-28 32,-27 36,-24.5 C40,-22 43,-19 44.5,-15 C45.5,-11 46,-8 45,-4" fill="none" stroke="#222" stroke-width="2.90"/><path d="M2,-12 C3,-17 5,-20 8,-22 C12,-25 16,-27 21,-27.5 C27,-28 32,-27 36,-24.5 C40,-22 43,-19 44.5,-15 C45.5,-11 46,-8 45,-4" fill="none" stroke="#fff" stroke-width="0.90"/><path d="M0,-12 L40,-10.5 A4.5,10.5 0 0 1 40,10.5 L0,12 A4.5,12 0 0 1 0,-12 Z" fill="#fff" stroke="#222" stroke-width="1.25"/><path d="M4,-7.5 L37,-6.6" fill="none" stroke="#222" stroke-width="0.94"/><path d="M4,-3.5 L37,-3.1" fill="none" stroke="#222" stroke-width="0.94"/><path d="M4,0.5 L37,0.4" fill="none" stroke="#222" stroke-width="0.94"/><path d="M4,4.5 L37,4.0" fill="none" stroke="#222" stroke-width="0.94"/><path d="M4,8.5 L37,7.5" fill="none" stroke="#222" stroke-width="0.94"/><ellipse cx="40" cy="0" rx="4.5" ry="10.5" fill="#fff" stroke="#222" stroke-width="1.25"/><ellipse cx="41" cy="0" rx="3" ry="6.5" fill="#fff" stroke="#222" stroke-width="1.62"/><path d="M0,-12 A4.5,12 0 0 1 0,12" fill="none" stroke="#222" stroke-width="1.25"/><path d="M-3,-12.5 A4.5,12.5 0 0 1 -3,12.5 L0,12 M-3,-12.5 L0,-12" fill="none" stroke="#222" stroke-width="1.25"/></g>
<g transform="translate(788.8 798.8) rotate(-30.0) scale(1.000 1.000)" stroke-linejoin="round" stroke-linecap="round"><path d="M-7.5,-12.0 L7.5,-12.0 C12.5,-6.6 12.5,6.6 7.5,12.0 L-7.5,12.0 C-12.5,6.6 -12.5,-6.6 -7.5,-12.0 Z" fill="#fff" stroke="#222" stroke-width="1.25"/><path d="M-11.0,-4.8 L11.0,-4.8 M-11.0,4.8 L11.0,4.8" fill="none" stroke="#222" stroke-width="0.94"/><path d="M-9.5,-12.0 Q-6.5,-8.4 -9.5,-4.8 M-9.5,-4.8 Q-6.5,0.0 -9.5,4.8 M-9.5,4.8 Q-6.5,8.4 -9.5,12.0" fill="none" stroke="#222" stroke-width="0.75"/><path d="M9.5,-12.0 Q6.5,-8.4 9.5,-4.8 M9.5,-4.8 Q6.5,0.0 9.5,4.8 M9.5,4.8 Q6.5,8.4 9.5,12.0" fill="none" stroke="#222" stroke-width="0.75"/></g>
<g transform="translate(771.2 808.2) rotate(-30.0) scale(1.000 1.000)" stroke-linejoin="round" stroke-linecap="round"><path d="M-12.5,-14.5 L12.5,-14.5 C17.5,-8.0 17.5,8.0 12.5,14.5 L-12.5,14.5 C-17.5,8.0 -17.5,-8.0 -12.5,-14.5 Z" fill="#fff" stroke="#222" stroke-width="1.25"/><path d="M-16.0,-5.8 L16.0,-5.8 M-16.0,5.8 L16.0,5.8" fill="none" stroke="#222" stroke-width="0.94"/><path d="M-14.5,-14.5 Q-11.5,-10.1 -14.5,-5.8 M-14.5,-5.8 Q-11.5,0.0 -14.5,5.8 M-14.5,5.8 Q-11.5,10.1 -14.5,14.5" fill="none" stroke="#222" stroke-width="0.75"/><path d="M14.5,-14.5 Q11.5,-10.1 14.5,-5.8 M14.5,-5.8 Q11.5,0.0 14.5,5.8 M14.5,5.8 Q11.5,10.1 14.5,14.5" fill="none" stroke="#222" stroke-width="0.75"/></g>
<g transform="translate(771.2 841.3) rotate(33.0) scale(1.000 1.000)" stroke-linejoin="round" stroke-linecap="round"><path d="M-15.5,-17.0 L15.5,-17.0 C20.5,-9.4 20.5,9.4 15.5,17.0 L-15.5,17.0 C-20.5,9.4 -20.5,-9.4 -15.5,-17.0 Z" fill="#fff" stroke="#222" stroke-width="1.25"/><path d="M-19.0,-6.8 L19.0,-6.8 M-19.0,6.8 L19.0,6.8" fill="none" stroke="#222" stroke-width="0.94"/><path d="M-17.5,-17.0 Q-14.5,-11.9 -17.5,-6.8 M-17.5,-6.8 Q-14.5,0.0 -17.5,6.8 M-17.5,6.8 Q-14.5,11.9 -17.5,17.0" fill="none" stroke="#222" stroke-width="0.75"/><path d="M17.5,-17.0 Q14.5,-11.9 17.5,-6.8 M17.5,-6.8 Q14.5,0.0 17.5,6.8 M17.5,6.8 Q14.5,11.9 17.5,17.0" fill="none" stroke="#222" stroke-width="0.75"/></g>
<g transform="translate(719.8 810.1) rotate(-27.0) scale(1.000 1.000)" stroke-linejoin="round" stroke-linecap="round"><path d="M7.5,-9.0 L-7.5,-9.0 A3.6,9.0 0 0 0 -7.5,9.0 L7.5,9.0 A3.6,9.0 0 0 0 7.5,-9.0 Z" fill="#fff" stroke="#222" stroke-width="1.25"/><ellipse cx="-7.5" cy="0" rx="3.6" ry="9.0" fill="#fff" stroke="#222" stroke-width="1.25"/></g>
<path class="mw" d="M723.0,815.8 L733.4,810.1 L763.7,827.1 L752.3,833.7 Z"/>
<path class="mw" d="M723.0,815.8 L723.0,829.9 L750.4,847.9 L752.3,833.7 Z"/>
<path class="mw" d="M752.3,833.7 L763.7,827.1 L764.6,839.4 L750.4,847.9 Z"/>
<path class="mw" d="M774.1,864.3 L813.8,840.7 L825.1,847.3 L788.2,872.5 Z"/>
<path class="mw" d="M774.1,864.3 L788.2,872.5 L788.8,893.3 L791.5,901.4 L775.0,890.8 Z"/>
<path class="mw" d="M788.2,872.5 L825.1,847.3 L833.0,854.9 L833.0,874.4 L797.7,900.3 L791.5,901.4 L788.8,893.3 Z"/>
<ellipse class="m" cx="793.3" cy="877.2" rx="2.8" ry="3.8" transform="rotate(0.0 793.3 877.2)"/>
<ellipse class="m" cx="827.4" cy="856.0" rx="2.8" ry="3.8" transform="rotate(0.0 827.4 856.0)"/>
<ellipse class="m" cx="827.4" cy="874.9" rx="2.8" ry="3.8" transform="rotate(0.0 827.4 874.9)"/>
<ellipse class="m" cx="794.3" cy="894.2" rx="2.8" ry="3.8" transform="rotate(0.0 794.3 894.2)"/>
<ellipse class="m" cx="810.4" cy="875.3" rx="14.2" ry="10.4" transform="rotate(-38.0 810.4 875.3)"/>
<ellipse class="m" cx="810.4" cy="875.3" rx="10.4" ry="7.6" transform="rotate(-38.0 810.4 875.3)"/>
<ellipse class="m" cx="810.4" cy="875.3" rx="6.0" ry="4.5" transform="rotate(-38.0 810.4 875.3)"/>
<path class="t" d="M694.7,795.9 L708.8,804.4"/>
<g transform="translate(725.9 862.1) rotate(-30.0) scale(1.000 1.000)" stroke-linejoin="round" stroke-linecap="round"><path d="M13.0,-11.0 L-13.0,-11.0 A4.4,11.0 0 0 0 -13.0,11.0 L13.0,11.0 A4.4,11.0 0 0 0 13.0,-11.0 Z" fill="#fff" stroke="#222" stroke-width="1.25"/><ellipse cx="-13.0" cy="0" rx="4.4" ry="11.0" fill="#fff" stroke="#222" stroke-width="1.25"/><path d="M-6.5,-11.0 A4.4,11.0 0 0 0 -6.5,11.0" fill="none" stroke="#222" stroke-width="1.00"/><path d="M0.0,-11.0 A4.4,11.0 0 0 0 0.0,11.0" fill="none" stroke="#222" stroke-width="1.00"/><path d="M6.5,-11.0 A4.4,11.0 0 0 0 6.5,11.0" fill="none" stroke="#222" stroke-width="1.00"/></g>
<path class="t" d="M733.4,865.9 L750.4,867.8"/>
<path class="t" d="M725.9,873.4 L748.5,869.6"/>
<path class="m" d="M708.8,841.3 C709.5,842.9 710.4,847.9 712.6,850.7 C714.8,853.6 719.9,855.8 722.1,858.3 C724.3,860.8 725.2,864.6 725.9,865.9"/>
<path class="m" d="M714.5,843.2 C715.1,844.8 716.1,849.8 718.3,852.6 C720.5,855.5 726.2,858.9 727.8,860.2"/>
<g transform="translate(709.8 871.5) rotate(-30.0) scale(1.000 1.000)" stroke-linejoin="round" stroke-linecap="round"><path d="M-8.5,-12.5 L8.5,-12.5 C13.5,-6.9 13.5,6.9 8.5,12.5 L-8.5,12.5 C-13.5,6.9 -13.5,-6.9 -8.5,-12.5 Z" fill="#fff" stroke="#222" stroke-width="1.25"/><path d="M-12.0,-5.0 L12.0,-5.0 M-12.0,5.0 L12.0,5.0" fill="none" stroke="#222" stroke-width="0.94"/><path d="M-10.5,-12.5 Q-7.5,-8.8 -10.5,-5.0 M-10.5,-5.0 Q-7.5,0.0 -10.5,5.0 M-10.5,5.0 Q-7.5,8.8 -10.5,12.5" fill="none" stroke="#222" stroke-width="0.75"/><path d="M10.5,-12.5 Q7.5,-8.8 10.5,-5.0 M10.5,-5.0 Q7.5,0.0 10.5,5.0 M10.5,5.0 Q7.5,8.8 10.5,12.5" fill="none" stroke="#222" stroke-width="0.75"/></g>
<g transform="translate(690.9 881.4) rotate(-30.0) scale(1.000 1.000)" stroke-linejoin="round" stroke-linecap="round"><path d="M-12.5,-15.0 L12.5,-15.0 C17.5,-8.2 17.5,8.2 12.5,15.0 L-12.5,15.0 C-17.5,8.2 -17.5,-8.2 -12.5,-15.0 Z" fill="#fff" stroke="#222" stroke-width="1.25"/><path d="M-16.0,-6.0 L16.0,-6.0 M-16.0,6.0 L16.0,6.0" fill="none" stroke="#222" stroke-width="0.94"/><path d="M-14.5,-15.0 Q-11.5,-10.5 -14.5,-6.0 M-14.5,-6.0 Q-11.5,0.0 -14.5,6.0 M-14.5,6.0 Q-11.5,10.5 -14.5,15.0" fill="none" stroke="#222" stroke-width="0.75"/><path d="M14.5,-15.0 Q11.5,-10.5 14.5,-6.0 M14.5,-6.0 Q11.5,0.0 14.5,6.0 M14.5,6.0 Q11.5,10.5 14.5,15.0" fill="none" stroke="#222" stroke-width="0.75"/></g>
<g transform="translate(642.3 909.0) rotate(-27.0) scale(1.000 1.000)" stroke-linejoin="round" stroke-linecap="round"><path d="M12.0,-8.5 L-12.0,-8.5 A3.4,8.5 0 0 0 -12.0,8.5 L12.0,8.5 A3.4,8.5 0 0 0 12.0,-8.5 Z" fill="#fff" stroke="#222" stroke-width="1.25"/><ellipse cx="-12.0" cy="0" rx="3.4" ry="8.5" fill="#fff" stroke="#222" stroke-width="1.25"/></g>
<path class="mw" d="M648.4,896.1 L670.1,882.9 L683.3,890.4 L677.7,904.6 L664.4,917.8 L653.1,919.7 Z"/>
<path class="m" d="M651.2,898.9 L662.5,905.6 L664.4,917.8"/>
<path class="m" d="M662.5,905.6 L680.5,892.3"/>
<g transform="translate(696.6 916.9) rotate(33.0) scale(1.000 1.000)" stroke-linejoin="round" stroke-linecap="round"><path d="M-16.5,-18.0 L16.5,-18.0 C21.5,-9.9 21.5,9.9 16.5,18.0 L-16.5,18.0 C-21.5,9.9 -21.5,-9.9 -16.5,-18.0 Z" fill="#fff" stroke="#222" stroke-width="1.25"/><path d="M-20.0,-7.2 L20.0,-7.2 M-20.0,7.2 L20.0,7.2" fill="none" stroke="#222" stroke-width="0.94"/><path d="M-18.5,-18.0 Q-15.5,-12.6 -18.5,-7.2 M-18.5,-7.2 Q-15.5,0.0 -18.5,7.2 M-18.5,7.2 Q-15.5,12.6 -18.5,18.0" fill="none" stroke="#222" stroke-width="0.75"/><path d="M18.5,-18.0 Q15.5,-12.6 18.5,-7.2 M18.5,-7.2 Q15.5,0.0 18.5,7.2 M18.5,7.2 Q15.5,12.6 18.5,18.0" fill="none" stroke="#222" stroke-width="0.75"/></g>
<path class="mw" d="M691.8,926.7 L731.5,903.1 L742.9,909.7 L706.0,934.9 Z"/>
<path class="mw" d="M691.8,926.7 L706.0,934.9 L706.6,955.7 L709.2,963.8 L692.8,953.2 Z"/>
<path class="mw" d="M706.0,934.9 L742.9,909.7 L750.8,917.3 L750.8,936.7 L715.5,962.6 L709.2,963.8 L706.6,955.7 Z"/>
<ellipse class="m" cx="711.1" cy="939.6" rx="2.8" ry="3.8" transform="rotate(0.0 711.1 939.6)"/>
<ellipse class="m" cx="745.1" cy="918.4" rx="2.8" ry="3.8" transform="rotate(0.0 745.1 918.4)"/>
<ellipse class="m" cx="745.1" cy="937.3" rx="2.8" ry="3.8" transform="rotate(0.0 745.1 937.3)"/>
<ellipse class="m" cx="712.1" cy="956.6" rx="2.8" ry="3.8" transform="rotate(0.0 712.1 956.6)"/>
<ellipse class="m" cx="728.1" cy="937.7" rx="14.2" ry="10.4" transform="rotate(-38.0 728.1 937.7)"/>
<ellipse class="m" cx="728.1" cy="937.7" rx="10.4" ry="7.6" transform="rotate(-38.0 728.1 937.7)"/>
<ellipse class="m" cx="728.1" cy="937.7" rx="6.0" ry="4.5" transform="rotate(-38.0 728.1 937.7)"/>
<path class="m" d="M766.9,943.6 C767.1,944.0 767.8,945.2 768.1,946.1 C768.4,947.0 768.6,947.9 768.8,948.9 C768.9,949.9 769.0,951.0 768.9,952.1 C768.9,953.1 768.8,954.2 768.6,955.3 C768.4,956.4 768.1,957.5 767.7,958.5 C767.3,959.6 766.9,960.6 766.4,961.6 C765.8,962.6 765.2,963.5 764.6,964.3 C764.0,965.2 763.3,965.9 762.5,966.6 C761.8,967.3 761.0,967.9 760.2,968.3 C759.4,968.8 758.6,969.2 757.8,969.4 C757.0,969.7 756.2,969.8 755.4,969.8 C754.6,969.8 753.8,969.7 753.0,969.5 C752.3,969.3 751.6,969.0 750.9,968.5 C750.3,968.1 749.7,967.5 749.1,966.9 C748.6,966.2 748.1,965.5 747.7,964.7 C747.3,963.9 747.0,963.0 746.8,962.0 C746.5,961.1 746.4,960.0 746.3,959.0 C746.3,958.0 746.3,956.9 746.4,955.8 C746.5,954.7 746.7,953.6 747.0,952.5 C747.3,951.4 747.7,950.4 748.1,949.4 C748.6,948.3 749.1,947.4 749.7,946.4 C750.3,945.5 750.9,944.7 751.6,943.9 C752.3,943.2 753.0,942.5 753.8,941.9 C754.6,941.3 755.4,940.8 756.2,940.5 C757.0,940.1 758.2,939.8 758.6,939.7"/>
<path class="m" d="M766.0,947.2 C766.1,947.6 766.4,948.6 766.5,949.4 C766.6,950.1 766.7,950.9 766.7,951.7 C766.6,952.6 766.6,953.4 766.4,954.3 C766.3,955.1 766.1,956.0 765.8,956.8 C765.6,957.6 765.3,958.5 764.9,959.3 C764.6,960.0 764.1,960.8 763.7,961.5 C763.2,962.2 762.7,962.9 762.2,963.5 C761.7,964.0 761.1,964.6 760.6,965.0 C760.0,965.5 759.4,965.8 758.8,966.1 C758.2,966.4 757.6,966.6 757.0,966.7 C756.4,966.8 755.8,966.9 755.3,966.8 C754.7,966.7 754.2,966.6 753.7,966.3 C753.2,966.1 752.7,965.7 752.3,965.3 C751.9,964.9 751.5,964.4 751.1,963.9 C750.8,963.3 750.5,962.7 750.3,962.0 C750.1,961.3 749.9,960.6 749.8,959.8 C749.7,959.1 749.7,958.2 749.7,957.4 C749.7,956.6 749.8,955.7 750.0,954.9 C750.1,954.0 750.3,953.2 750.6,952.3 C750.9,951.5 751.2,950.7 751.6,949.9 C751.9,949.1 752.4,948.4 752.8,947.7 C753.3,947.0 753.8,946.3 754.3,945.8 C754.8,945.2 755.4,944.7 756.0,944.3 C756.6,943.8 757.5,943.4 757.7,943.2"/>
<path class="t" d="M760.8,956.6 L776.9,965.1"/>
<path class="t" d="M627.6,922.6 L618.1,927.3"/>
<!-- flange -->
<path class="t" d="M882.9,781.3 L882.9,805.3"/>
<path class="m" d="M870.3,811.6 C870.4,814.7 870.1,825.2 870.6,830.5 C871.0,835.7 871.2,838.5 872.8,843.1 C874.5,847.7 879.1,855.7 880.4,858.2"/>
<path class="m" d="M896.1,811.6 C896.0,813.5 896.5,820.0 895.5,822.9 C894.6,825.9 891.3,828.2 890.5,829.2"/>
<path class="m" d="M871.6,833.0 C872.6,833.4 876.4,834.3 877.9,835.5 C879.3,836.8 880.0,839.7 880.4,840.6"/>
<path class="mw" d="M867.2,804.0 L867.5,814.1 L872.8,818.5 L882.9,820.1 L893.0,818.5 L898.7,814.1 L898.7,804.0 Z"/>
<path class="m" d="M867.3,807.8 C868.2,808.5 870.2,811.2 872.8,812.2 C875.4,813.2 879.6,813.8 882.9,813.8 C886.3,813.8 890.4,813.2 893.0,812.2 C895.6,811.2 897.7,808.5 898.7,807.8"/>
<path class="m" d="M867.3,810.9 C868.2,811.7 870.2,814.3 872.8,815.4 C875.4,816.4 879.6,817.0 882.9,817.0 C886.3,817.0 890.4,816.4 893.0,815.4 C895.6,814.3 897.7,811.7 898.7,810.9"/>
<path class="m" d="M867.3,814.1 C868.2,814.8 870.2,817.5 872.8,818.5 C875.4,819.5 879.6,820.1 882.9,820.1 C886.3,820.1 890.4,819.5 893.0,818.5 C895.6,817.5 897.7,814.8 898.7,814.1"/>
<ellipse class="mw" cx="882.9" cy="804.0" rx="15.7" ry="6.9" transform="rotate(0.0 882.9 804.0)"/>
<path class="m" d="M872.5,807.2 C872.4,807.0 871.8,806.5 871.5,806.2 C871.2,805.8 871.1,805.4 871.0,805.1 C870.9,804.7 870.9,804.3 871.0,804.0 C871.2,803.6 871.4,803.3 871.7,802.9 C872.0,802.6 872.4,802.2 872.8,801.9 C873.3,801.6 873.8,801.3 874.5,801.1 C875.1,800.8 875.8,800.6 876.5,800.4 C877.2,800.2 878.0,800.0 878.8,799.9 C879.6,799.8 880.5,799.7 881.4,799.6 C882.2,799.6 883.1,799.6 884.0,799.6 C884.8,799.7 885.7,799.7 886.5,799.8 C887.3,799.9 888.1,800.1 888.9,800.3 C889.6,800.5 890.4,800.7 891.0,800.9 C891.6,801.2 892.2,801.5 892.7,801.8 C893.2,802.1 893.6,802.4 894.0,802.7 C894.3,803.1 894.6,803.4 894.7,803.8 C894.9,804.1 894.9,804.5 894.9,804.9 C894.8,805.2 894.7,805.6 894.5,805.9 C894.3,806.3 893.9,806.7 893.5,807.0 C893.1,807.3 892.3,807.7 892.1,807.9"/>
<ellipse class="mw" cx="898.7" cy="851.9" rx="34.0" ry="15.7" transform="rotate(-38.0 898.7 851.9)"/>
<ellipse class="mw" cx="902.4" cy="847.5" rx="34.0" ry="15.7" transform="rotate(-38.0 902.4 847.5)"/>
<path class="m" d="M880.4,850.6 L885.4,856.9"/>
<path class="t" d="M916.9,822.9 L923.2,829.2"/>
<ellipse class="m" cx="920.7" cy="833.0" rx="2.5" ry="3.5" transform="rotate(25.0 920.7 833.0)"/>
<ellipse class="m" cx="921.0" cy="847.9" rx="2.5" ry="3.5" transform="rotate(25.0 921.0 847.9)"/>
<ellipse class="m" cx="886.9" cy="853.4" rx="2.5" ry="3.5" transform="rotate(25.0 886.9 853.4)"/>
<ellipse class="m" cx="886.9" cy="868.0" rx="2.5" ry="3.5" transform="rotate(25.0 886.9 868.0)"/>
<ellipse class="m" cx="902.8" cy="850.9" rx="8.6" ry="7.3" transform="rotate(-38.0 902.8 850.9)"/>
<ellipse class="m" cx="902.8" cy="850.9" rx="6.6" ry="5.6" transform="rotate(-38.0 902.8 850.9)"/>
<ellipse class="m" cx="902.8" cy="850.9" rx="4.5" ry="3.9" transform="rotate(-38.0 902.8 850.9)"/>
<ellipse class="m" cx="902.8" cy="850.9" rx="2.5" ry="2.1" transform="rotate(-38.0 902.8 850.9)"/>
<path class="m" d="M936.6,862.1 C936.8,862.3 937.4,863.1 937.6,863.7 C937.9,864.3 938.2,865.0 938.3,865.7 C938.5,866.4 938.6,867.2 938.6,868.0 C938.6,868.7 938.6,869.6 938.5,870.4 C938.4,871.3 938.3,872.1 938.0,873.0 C937.8,873.8 937.5,874.7 937.2,875.5 C936.9,876.3 936.5,877.1 936.0,877.8 C935.6,878.6 935.1,879.3 934.6,879.9 C934.1,880.6 933.5,881.1 933.0,881.6 C932.4,882.1 931.8,882.6 931.2,882.9 C930.6,883.3 930.0,883.5 929.4,883.7 C928.8,883.9 928.2,884.0 927.6,884.0 C927.0,883.9 926.5,883.8 925.9,883.6 C925.4,883.5 924.9,883.2 924.5,882.8 C924.0,882.5 923.6,882.0 923.3,881.5 C922.9,881.0 922.6,880.4 922.4,879.7 C922.1,879.1 922.0,878.3 921.8,877.6 C921.7,876.9 921.7,876.0 921.7,875.2 C921.7,874.4 921.8,873.6 921.9,872.7 C922.1,871.9 922.3,871.0 922.6,870.2 C922.8,869.3 923.1,868.5 923.5,867.7 C923.9,866.9 924.3,866.1 924.8,865.4 C925.3,864.7 925.8,864.1 926.3,863.5 C926.8,862.9 927.4,862.4 928.0,861.9 C928.6,861.5 929.2,861.1 929.8,860.8 C930.4,860.5 931.3,860.3 931.6,860.2"/>
<path class="m" d="M936.0,865.8 C936.0,866.0 936.3,866.7 936.4,867.2 C936.5,867.7 936.6,868.2 936.6,868.8 C936.7,869.3 936.6,869.9 936.6,870.5 C936.5,871.1 936.4,871.7 936.3,872.3 C936.2,872.9 936.0,873.5 935.8,874.1 C935.5,874.7 935.3,875.3 935.0,875.8 C934.7,876.4 934.4,876.9 934.1,877.4 C933.7,877.9 933.4,878.4 933.0,878.8 C932.6,879.2 932.2,879.5 931.8,879.8 C931.4,880.1 931.0,880.4 930.6,880.6 C930.2,880.8 929.8,880.9 929.4,881.0 C929.0,881.0 928.6,881.0 928.2,881.0 C927.9,880.9 927.5,880.8 927.2,880.6 C926.9,880.4 926.6,880.1 926.3,879.8 C926.0,879.5 925.8,879.2 925.6,878.8 C925.4,878.4 925.3,877.9 925.2,877.4 C925.0,876.9 925.0,876.4 924.9,875.8 C924.9,875.3 924.9,874.7 925.0,874.1 C925.0,873.5 925.1,872.9 925.3,872.3 C925.4,871.7 925.6,871.1 925.8,870.5 C926.0,869.9 926.3,869.3 926.6,868.8 C926.9,868.2 927.2,867.7 927.5,867.2 C927.8,866.7 928.2,866.2 928.6,865.8 C929.0,865.4 929.4,865.1 929.8,864.8 C930.2,864.5 930.8,864.1 931.0,864.0"/>
<path class="t" d="M932.7,872.7 L942.8,878.3"/>
<path class="m" d="M849.1,873.4 C849.2,873.7 849.8,874.4 850.1,875.0 C850.4,875.6 850.6,876.3 850.8,877.0 C850.9,877.7 851.0,878.5 851.1,879.3 C851.1,880.1 851.1,880.9 851.0,881.8 C850.9,882.6 850.7,883.5 850.5,884.3 C850.3,885.2 850.0,886.0 849.6,886.8 C849.3,887.6 848.9,888.4 848.5,889.2 C848.0,889.9 847.6,890.6 847.0,891.3 C846.5,891.9 846.0,892.5 845.4,893.0 C844.8,893.5 844.2,893.9 843.6,894.3 C843.0,894.6 842.4,894.9 841.8,895.0 C841.2,895.2 840.6,895.3 840.0,895.3 C839.5,895.3 838.9,895.2 838.4,895.0 C837.9,894.8 837.4,894.5 836.9,894.2 C836.5,893.8 836.1,893.3 835.7,892.8 C835.4,892.3 835.0,891.7 834.8,891.1 C834.6,890.4 834.4,889.7 834.3,888.9 C834.2,888.2 834.1,887.4 834.1,886.6 C834.1,885.8 834.2,884.9 834.4,884.0 C834.5,883.2 834.7,882.3 835.0,881.5 C835.3,880.7 835.6,879.8 836.0,879.0 C836.3,878.2 836.8,877.5 837.2,876.8 C837.7,876.1 838.2,875.4 838.8,874.8 C839.3,874.2 839.9,873.7 840.4,873.3 C841.0,872.8 841.6,872.4 842.2,872.2 C842.8,871.9 843.8,871.7 844.1,871.6"/>
<path class="m" d="M848.4,877.2 C848.5,877.4 848.7,878.0 848.9,878.5 C849.0,879.0 849.0,879.5 849.1,880.1 C849.1,880.6 849.1,881.2 849.0,881.8 C849.0,882.4 848.9,883.0 848.7,883.6 C848.6,884.2 848.4,884.9 848.2,885.4 C848.0,886.0 847.7,886.6 847.4,887.2 C847.2,887.7 846.8,888.3 846.5,888.8 C846.2,889.2 845.8,889.7 845.4,890.1 C845.1,890.5 844.6,890.9 844.2,891.2 C843.8,891.5 843.4,891.7 843.0,891.9 C842.6,892.1 842.2,892.2 841.8,892.3 C841.4,892.4 841.0,892.4 840.7,892.3 C840.3,892.2 839.9,892.1 839.6,891.9 C839.3,891.7 839.0,891.5 838.7,891.2 C838.5,890.9 838.2,890.5 838.1,890.1 C837.9,889.7 837.7,889.2 837.6,888.8 C837.5,888.3 837.4,887.7 837.4,887.2 C837.4,886.6 837.4,886.0 837.4,885.5 C837.5,884.9 837.6,884.2 837.7,883.6 C837.9,883.0 838.0,882.4 838.3,881.8 C838.5,881.2 838.7,880.6 839.0,880.1 C839.3,879.5 839.6,879.0 839.9,878.5 C840.3,878.0 840.7,877.6 841.0,877.2 C841.4,876.8 841.8,876.4 842.2,876.1 C842.6,875.8 843.2,875.5 843.4,875.4"/>
<path class="t" d="M840.7,885.3 L858.3,895.4"/>
<path class="t" d="M1025.5,221.5 L1051.0,235.3"/>
<path class="t" d="M1079.7,252.3 L1105.2,265.0"/>
<path class="m" d="M1081.9,219.3 C1083.1,218.1 1086.3,212.8 1089.3,211.9 C1092.3,211.0 1096.4,211.7 1099.9,214.0 C1103.5,216.3 1108.2,221.1 1110.6,225.7 C1112.9,230.3 1114.0,237.5 1113.7,241.7 C1113.5,245.8 1109.7,249.1 1108.9,250.6"/>
<path class="m" d="M1081.9,219.3 L1082.9,235.3 L1089.3,238.5 L1091.4,226.8"/>
<path class="m" d="M1091.4,226.8 C1092.5,227.8 1096.4,230.3 1097.8,233.1 C1099.2,236.0 1100.6,240.9 1099.9,243.8 C1099.2,246.6 1094.6,249.1 1093.5,250.2"/>
<path class="m" d="M1082.9,235.3 L1081.9,243.8 L1087.2,248.0"/>
<path class="m" d="M1089.3,243.8 C1089.6,244.5 1090.7,248.0 1091.4,248.0 C1092.1,248.0 1093.4,245.0 1093.5,243.8 C1093.7,242.5 1092.7,241.1 1092.5,240.6"/>
<path class="m" d="M1105.2,227.8 C1106.1,229.4 1109.8,234.0 1110.6,237.4 C1111.3,240.8 1110.4,245.6 1109.5,248.0 C1108.6,250.5 1105.9,251.6 1105.2,252.3"/>
<path class="m" d="M1106.3,232.1 C1106.7,233.3 1108.7,237.0 1108.9,239.5 C1109.0,242.0 1107.6,245.7 1107.4,247.0"/>
<path class="m" d="M1098.9,225.3 C1098.9,225.4 1098.7,225.7 1098.6,225.9 C1098.5,226.0 1098.4,226.2 1098.2,226.3 C1098.1,226.5 1097.9,226.6 1097.8,226.7 C1097.6,226.8 1097.4,226.9 1097.2,226.9 C1097.1,227.0 1096.9,227.0 1096.7,227.0 C1096.5,227.0 1096.4,227.0 1096.2,226.9 C1096.0,226.9 1095.8,226.8 1095.7,226.7 C1095.5,226.6 1095.4,226.5 1095.2,226.3 C1095.1,226.2 1094.9,226.0 1094.8,225.8 C1094.7,225.6 1094.6,225.4 1094.5,225.2 C1094.4,225.0 1094.3,224.8 1094.3,224.6 C1094.2,224.4 1094.2,224.1 1094.2,223.9 C1094.2,223.6 1094.2,223.4 1094.2,223.2 C1094.2,222.9 1094.3,222.7 1094.3,222.5 C1094.4,222.2 1094.5,222.0 1094.6,221.8 C1094.6,221.6 1094.8,221.4 1094.9,221.2 C1095.0,221.1 1095.1,220.9 1095.3,220.8 C1095.4,220.6 1095.6,220.5 1095.8,220.4 C1095.9,220.3 1096.1,220.3 1096.3,220.2 C1096.4,220.2 1096.6,220.2 1096.8,220.2 C1097.0,220.2 1097.2,220.2 1097.3,220.3 C1097.5,220.3 1097.7,220.4 1097.8,220.5 C1098.0,220.6 1098.2,220.8 1098.3,220.9 C1098.4,221.0 1098.6,221.3 1098.7,221.4"/>
<path class="t" d="M1105.2,252.3 L1106.3,258.7"/>
<path class="t" d="M1081.9,260.8 C1082.0,262.2 1081.3,267.3 1082.9,269.3 C1084.5,271.2 1088.6,272.5 1091.4,272.5 C1094.3,272.5 1098.5,269.8 1099.9,269.3"/>
<path class="t" d="M1081.9,260.8 L1081.9,254.4"/>
<path class="t" d="M1093.5,266.1 L1091.4,271.4"/>
<path class="m" d="M1047.8,243.8 C1049.3,241.2 1053.0,231.2 1056.3,228.5 C1059.7,225.7 1065.0,226.0 1068.0,227.2 C1071.0,228.4 1073.3,231.5 1074.4,235.7 C1075.5,239.9 1075.5,248.3 1074.8,252.3 C1074.1,256.3 1070.9,258.5 1070.2,259.7"/>
<path class="m" d="M1070.2,259.7 C1069.1,258.5 1065.4,252.5 1063.8,252.3 C1062.2,252.1 1060.6,255.8 1060.6,258.7 C1060.6,261.5 1061.7,267.5 1063.8,269.3 C1065.9,271.1 1071.8,269.3 1073.3,269.3"/>
<path class="m" d="M1073.3,269.3 C1073.7,271.1 1076.3,276.7 1075.5,279.9 C1074.7,283.2 1071.1,287.8 1068.5,288.9 C1065.8,289.9 1062.6,288.9 1059.5,286.3 C1056.4,283.7 1052.1,278.1 1050.0,273.5 C1047.8,268.9 1047.1,263.6 1046.8,258.7 C1046.4,253.7 1047.7,246.3 1047.8,243.8"/>
<path class="t" d="M1051.0,241.7 C1050.7,244.5 1048.5,253.3 1048.9,258.7 C1049.3,264.0 1051.2,269.3 1053.1,273.5 C1055.1,277.8 1059.4,282.4 1060.6,284.2"/>
<path class="m" d="M1070.7,240.2 C1070.6,240.3 1070.5,240.6 1070.4,240.7 C1070.2,240.9 1070.1,241.1 1070.0,241.2 C1069.8,241.4 1069.6,241.5 1069.5,241.6 C1069.3,241.7 1069.1,241.7 1069.0,241.8 C1068.8,241.8 1068.6,241.9 1068.4,241.9 C1068.3,241.9 1068.1,241.8 1067.9,241.8 C1067.7,241.7 1067.6,241.7 1067.4,241.6 C1067.2,241.5 1067.1,241.3 1066.9,241.2 C1066.8,241.1 1066.7,240.9 1066.5,240.7 C1066.4,240.5 1066.3,240.3 1066.2,240.1 C1066.1,239.9 1066.1,239.7 1066.0,239.5 C1066.0,239.2 1065.9,239.0 1065.9,238.8 C1065.9,238.5 1065.9,238.3 1065.9,238.0 C1065.9,237.8 1066.0,237.6 1066.0,237.3 C1066.1,237.1 1066.2,236.9 1066.3,236.7 C1066.4,236.5 1066.5,236.3 1066.6,236.1 C1066.7,236.0 1066.9,235.8 1067.0,235.7 C1067.2,235.5 1067.3,235.4 1067.5,235.3 C1067.6,235.2 1067.8,235.2 1068.0,235.1 C1068.2,235.1 1068.4,235.1 1068.5,235.1 C1068.7,235.1 1068.9,235.1 1069.1,235.2 C1069.2,235.2 1069.4,235.3 1069.6,235.4 C1069.7,235.5 1069.9,235.6 1070.0,235.8 C1070.2,235.9 1070.3,236.2 1070.4,236.3"/>
<path class="m" d="M1069.8,280.6 C1069.8,280.7 1069.6,281.0 1069.5,281.1 C1069.4,281.3 1069.2,281.5 1069.1,281.6 C1069.0,281.8 1068.8,281.9 1068.6,282.0 C1068.5,282.1 1068.3,282.1 1068.1,282.2 C1067.9,282.2 1067.8,282.3 1067.6,282.3 C1067.4,282.3 1067.2,282.2 1067.1,282.2 C1066.9,282.1 1066.7,282.1 1066.5,282.0 C1066.4,281.9 1066.2,281.7 1066.1,281.6 C1065.9,281.4 1065.8,281.3 1065.7,281.1 C1065.6,280.9 1065.5,280.7 1065.4,280.5 C1065.3,280.3 1065.2,280.1 1065.2,279.9 C1065.1,279.6 1065.1,279.4 1065.1,279.2 C1065.0,278.9 1065.1,278.7 1065.1,278.4 C1065.1,278.2 1065.1,278.0 1065.2,277.7 C1065.3,277.5 1065.3,277.3 1065.4,277.1 C1065.5,276.9 1065.6,276.7 1065.8,276.5 C1065.9,276.4 1066.0,276.2 1066.2,276.1 C1066.3,275.9 1066.5,275.8 1066.6,275.7 C1066.8,275.6 1067.0,275.6 1067.1,275.5 C1067.3,275.5 1067.5,275.5 1067.7,275.5 C1067.9,275.5 1068.0,275.5 1068.2,275.6 C1068.4,275.6 1068.6,275.7 1068.7,275.8 C1068.9,275.9 1069.0,276.0 1069.2,276.2 C1069.3,276.3 1069.5,276.6 1069.6,276.7"/>
<path class="t" d="M1057.4,260.8 C1057.8,262.6 1058.5,268.6 1059.5,271.4 C1060.6,274.3 1063.1,276.7 1063.8,277.8"/>
<ellipse class="bw" cx="1113.7" cy="271.8" rx="10.2" ry="13.2" transform="rotate(20.0 1113.7 271.8)"/>
<ellipse class="m" cx="1114.4" cy="271.8" rx="6.8" ry="9.8" transform="rotate(20.0 1114.4 271.8)"/>
<path class="mw" d="M1079.7,285.2 L1085.0,282.0 L1106.3,293.7 L1104.2,302.2 L1099.9,303.3 Z"/>
<path class="t" d="M1085.0,283.1 L1081.9,290.6"/>
<path class="t" d="M1089.7,285.7 L1086.5,293.1"/>
<path class="t" d="M1094.4,288.2 L1091.2,295.7"/>
<path class="t" d="M1099.1,290.8 L1095.9,298.2"/>
<path class="mw" d="M1102.0,299.1 L1106.3,294.8 L1115.9,295.9 L1121.6,303.3 L1119.1,312.9 L1110.6,316.5 L1103.1,311.8 Z"/>
<path class="t" d="M1106.3,294.8 L1108.4,305.4 L1103.1,311.8"/>
<path class="t" d="M1108.4,305.4 L1120.1,307.6"/>
<path d="M1138.0,281.0 C1139.2,281.8 1142.6,283.3 1145.0,285.5 C1147.4,287.7 1150.1,290.9 1152.3,294.3 C1154.5,297.7 1156.4,302.4 1158.2,306.0 C1160.0,309.6 1162.2,314.3 1163.0,316.0" fill="none" stroke="#111" stroke-width="21.0" stroke-linecap="butt"/><path d="M1138.0,281.0 C1139.2,281.8 1142.6,283.3 1145.0,285.5 C1147.4,287.7 1150.1,290.9 1152.3,294.3 C1154.5,297.7 1156.4,302.4 1158.2,306.0 C1160.0,309.6 1162.2,314.3 1163.0,316.0" fill="none" stroke="#fff" stroke-width="17.6" stroke-linecap="butt"/>
<ellipse class="bw" cx="1134" cy="284.2" rx="10.5" ry="15" transform="rotate(22 1134 284.2)"/><ellipse class="m" cx="1137" cy="285" rx="6.5" ry="10.5" transform="rotate(22 1137 285)"/>
<path class="t" d="M800.2,1024.6 L814.4,1032.4"/>
<path class="t" d="M854.6,1055.3 L864.8,1060.8"/>
<g transform="translate(852.2 1053.7) rotate(30.0) scale(1.000 1.000)" stroke-linejoin="round" stroke-linecap="round"><path d="M-5.0,-4.0 L5.0,-4.0 A1.6,4.0 0 0 1 5.0,4.0 L-5.0,4.0 A1.6,4.0 0 0 1 -5.0,-4.0 Z" fill="#fff" stroke="#222" stroke-width="1.25"/><ellipse cx="5.0" cy="0" rx="1.6" ry="4.0" fill="#fff" stroke="#222" stroke-width="1.25"/></g>
<g transform="translate(845.9 1049.8) rotate(30.0) scale(1.000 1.000)" stroke-linejoin="round" stroke-linecap="round"><path d="M-7.0,-7.0 L7.0,-7.0 A2.8,7.0 0 0 1 7.0,7.0 L-7.0,7.0 A2.8,7.0 0 0 1 -7.0,-7.0 Z" fill="#fff" stroke="#222" stroke-width="1.25"/><ellipse cx="7.0" cy="0" rx="2.8" ry="7.0" fill="#fff" stroke="#222" stroke-width="1.25"/><path d="M-2.3,-7.0 A2.8,7.0 0 0 1 -2.3,7.0" fill="none" stroke="#222" stroke-width="1.00"/><path d="M2.3,-7.0 A2.8,7.0 0 0 1 2.3,7.0" fill="none" stroke="#222" stroke-width="1.00"/></g>
<g transform="translate(834.9 1045.0) rotate(30.0) scale(1.000 1.000)" stroke-linejoin="round" stroke-linecap="round"><path d="M-5.5,-13.0 L5.5,-13.0 C10.5,-7.2 10.5,7.2 5.5,13.0 L-5.5,13.0 C-10.5,7.2 -10.5,-7.2 -5.5,-13.0 Z" fill="#fff" stroke="#222" stroke-width="1.25"/><path d="M-9.0,-5.2 L9.0,-5.2 M-9.0,5.2 L9.0,5.2" fill="none" stroke="#222" stroke-width="0.94"/><path d="M-7.5,-13.0 Q-4.5,-9.1 -7.5,-5.2 M-7.5,-5.2 Q-4.5,0.0 -7.5,5.2 M-7.5,5.2 Q-4.5,9.1 -7.5,13.0" fill="none" stroke="#222" stroke-width="0.75"/><path d="M7.5,-13.0 Q4.5,-9.1 7.5,-5.2 M7.5,-5.2 Q4.5,0.0 7.5,5.2 M7.5,5.2 Q4.5,9.1 7.5,13.0" fill="none" stroke="#222" stroke-width="0.75"/></g>
<g transform="translate(823.1 1038.0) rotate(30.0) scale(1.000 1.000)" stroke-linejoin="round" stroke-linecap="round"><path d="M6.0,-8.5 L-6.0,-8.5 A3.4,8.5 0 0 0 -6.0,8.5 L6.0,8.5 A3.4,8.5 0 0 0 6.0,-8.5 Z" fill="#fff" stroke="#222" stroke-width="1.25"/><ellipse cx="-6.0" cy="0" rx="3.4" ry="8.5" fill="#fff" stroke="#222" stroke-width="1.25"/><path d="M0.0,-8.5 A3.4,8.5 0 0 0 0.0,8.5" fill="none" stroke="#222" stroke-width="1.00"/></g>
<path d="M777.7,111.2 C770.8,108.1 749.5,97.6 736.1,92.6 C722.7,87.6 709.7,83.7 697.2,81.4 C684.8,79.1 672.8,78.6 661.4,78.7 C650.0,78.8 638.9,80.1 628.7,82.0 C618.5,83.9 607.0,87.9 600.0,90.0 C593.0,92.1 594.9,90.8 586.9,94.5 C578.9,98.2 563.5,105.1 552.1,112.1 C540.7,119.1 529.2,127.6 518.3,136.6 C507.4,145.6 497.0,155.6 486.9,166.3 C476.8,177.0 466.9,188.9 457.9,200.8 C448.9,212.7 440.7,224.8 432.7,237.8 C424.7,250.8 417.1,264.7 410.0,278.6 C402.9,292.5 397.2,304.1 389.9,321.0 C382.6,337.9 372.3,363.0 366.0,380.0 C359.7,397.0 356.2,407.2 352.0,422.8 C347.8,438.4 343.8,456.5 340.5,473.4 C337.2,490.3 334.3,507.1 332.4,524.0 C330.5,540.9 329.5,558.1 329.0,574.6 C328.5,591.1 328.6,608.7 329.3,623.3 C330.0,637.9 331.6,649.4 333.2,662.2 C334.8,675.0 336.1,687.1 338.9,700.0 C341.7,712.9 345.8,726.3 349.9,739.4 C354.0,752.5 358.5,765.1 363.8,778.7 C369.1,792.4 375.2,807.4 381.9,821.3 C388.6,835.2 396.8,849.9 403.9,862.2 C411.0,874.5 416.4,883.2 424.4,895.3 C432.4,907.4 441.1,922.2 452.0,935.0 C462.9,947.8 477.0,960.7 490.0,972.0 C503.0,983.3 518.3,995.0 530.0,1003.0 C541.7,1011.0 548.2,1014.2 560.0,1020.0 C571.8,1025.8 585.7,1033.7 601.0,1038.0 C616.3,1042.3 637.2,1045.4 652.0,1046.0 C666.8,1046.6 679.5,1044.2 690.0,1041.5 C700.5,1038.8 710.8,1031.9 715.0,1030.0" fill="none" stroke="#111" stroke-width="20.5" stroke-linecap="butt"/><path d="M777.7,111.2 C770.8,108.1 749.5,97.6 736.1,92.6 C722.7,87.6 709.7,83.7 697.2,81.4 C684.8,79.1 672.8,78.6 661.4,78.7 C650.0,78.8 638.9,80.1 628.7,82.0 C618.5,83.9 607.0,87.9 600.0,90.0 C593.0,92.1 594.9,90.8 586.9,94.5 C578.9,98.2 563.5,105.1 552.1,112.1 C540.7,119.1 529.2,127.6 518.3,136.6 C507.4,145.6 497.0,155.6 486.9,166.3 C476.8,177.0 466.9,188.9 457.9,200.8 C448.9,212.7 440.7,224.8 432.7,237.8 C424.7,250.8 417.1,264.7 410.0,278.6 C402.9,292.5 397.2,304.1 389.9,321.0 C382.6,337.9 372.3,363.0 366.0,380.0 C359.7,397.0 356.2,407.2 352.0,422.8 C347.8,438.4 343.8,456.5 340.5,473.4 C337.2,490.3 334.3,507.1 332.4,524.0 C330.5,540.9 329.5,558.1 329.0,574.6 C328.5,591.1 328.6,608.7 329.3,623.3 C330.0,637.9 331.6,649.4 333.2,662.2 C334.8,675.0 336.1,687.1 338.9,700.0 C341.7,712.9 345.8,726.3 349.9,739.4 C354.0,752.5 358.5,765.1 363.8,778.7 C369.1,792.4 375.2,807.4 381.9,821.3 C388.6,835.2 396.8,849.9 403.9,862.2 C411.0,874.5 416.4,883.2 424.4,895.3 C432.4,907.4 441.1,922.2 452.0,935.0 C462.9,947.8 477.0,960.7 490.0,972.0 C503.0,983.3 518.3,995.0 530.0,1003.0 C541.7,1011.0 548.2,1014.2 560.0,1020.0 C571.8,1025.8 585.7,1033.7 601.0,1038.0 C616.3,1042.3 637.2,1045.4 652.0,1046.0 C666.8,1046.6 679.5,1044.2 690.0,1041.5 C700.5,1038.8 710.8,1031.9 715.0,1030.0" fill="none" stroke="#fff" stroke-width="17.2" stroke-linecap="butt"/>
<path d="M240.0,1436.0 C242.0,1437.1 245.7,1439.0 252.0,1442.5 C258.3,1446.0 270.9,1453.2 277.7,1457.0 C284.5,1460.8 290.4,1463.7 293.0,1465.0" fill="none" stroke="#111" stroke-width="23.5" stroke-linecap="butt"/><path d="M240.0,1436.0 C242.0,1437.1 245.7,1439.0 252.0,1442.5 C258.3,1446.0 270.9,1453.2 277.7,1457.0 C284.5,1460.8 290.4,1463.7 293.0,1465.0" fill="none" stroke="#fff" stroke-width="20.2" stroke-linecap="butt"/>
<path d="M440.0,1529.0 C443.4,1530.2 451.1,1533.0 460.3,1535.9 C469.5,1538.8 483.8,1543.5 495.1,1546.3 C506.4,1549.0 517.2,1551.1 528.2,1552.4 C539.2,1553.8 550.3,1554.6 561.3,1554.4 C572.3,1554.2 584.6,1552.9 594.3,1551.3 C604.0,1549.7 612.9,1546.7 619.7,1544.7 C626.5,1542.7 630.1,1541.5 635.1,1539.2 C640.1,1536.9 647.5,1532.4 650.0,1531.0" fill="none" stroke="#111" stroke-width="23.3" stroke-linecap="butt"/><path d="M440.0,1529.0 C443.4,1530.2 451.1,1533.0 460.3,1535.9 C469.5,1538.8 483.8,1543.5 495.1,1546.3 C506.4,1549.0 517.2,1551.1 528.2,1552.4 C539.2,1553.8 550.3,1554.6 561.3,1554.4 C572.3,1554.2 584.6,1552.9 594.3,1551.3 C604.0,1549.7 612.9,1546.7 619.7,1544.7 C626.5,1542.7 630.1,1541.5 635.1,1539.2 C640.1,1536.9 647.5,1532.4 650.0,1531.0" fill="none" stroke="#fff" stroke-width="20.0" stroke-linecap="butt"/>
<path d="M372.0,1354.0 C368.2,1356.3 356.3,1363.8 349.4,1368.0 C342.5,1372.2 336.8,1374.7 330.6,1379.1 C324.4,1383.5 317.8,1388.8 312.3,1394.3 C306.8,1399.8 301.4,1406.0 297.8,1411.9 C294.2,1417.8 291.8,1423.7 290.5,1429.5 C289.2,1435.3 289.2,1440.9 290.2,1446.5 C291.2,1452.1 293.6,1457.8 296.5,1462.9 C299.4,1468.1 303.5,1472.9 307.9,1477.4 C312.3,1481.9 317.6,1486.4 323.0,1489.8 C328.4,1493.2 334.2,1495.3 340.0,1498.0 C345.8,1500.7 355.0,1504.7 358.0,1506.0" fill="none" stroke="#fff" stroke-width="28.5" stroke-linecap="butt"/><path d="M372.0,1354.0 C368.2,1356.3 356.3,1363.8 349.4,1368.0 C342.5,1372.2 336.8,1374.7 330.6,1379.1 C324.4,1383.5 317.8,1388.8 312.3,1394.3 C306.8,1399.8 301.4,1406.0 297.8,1411.9 C294.2,1417.8 291.8,1423.7 290.5,1429.5 C289.2,1435.3 289.2,1440.9 290.2,1446.5 C291.2,1452.1 293.6,1457.8 296.5,1462.9 C299.4,1468.1 303.5,1472.9 307.9,1477.4 C312.3,1481.9 317.6,1486.4 323.0,1489.8 C328.4,1493.2 334.2,1495.3 340.0,1498.0 C345.8,1500.7 355.0,1504.7 358.0,1506.0" fill="none" stroke="#111" stroke-width="23.5" stroke-linecap="butt"/><path d="M372.0,1354.0 C368.2,1356.3 356.3,1363.8 349.4,1368.0 C342.5,1372.2 336.8,1374.7 330.6,1379.1 C324.4,1383.5 317.8,1388.8 312.3,1394.3 C306.8,1399.8 301.4,1406.0 297.8,1411.9 C294.2,1417.8 291.8,1423.7 290.5,1429.5 C289.2,1435.3 289.2,1440.9 290.2,1446.5 C291.2,1452.1 293.6,1457.8 296.5,1462.9 C299.4,1468.1 303.5,1472.9 307.9,1477.4 C312.3,1481.9 317.6,1486.4 323.0,1489.8 C328.4,1493.2 334.2,1495.3 340.0,1498.0 C345.8,1500.7 355.0,1504.7 358.0,1506.0" fill="none" stroke="#fff" stroke-width="20.2" stroke-linecap="butt"/>
<!-- cyl2 -->
<g transform="translate(288.5 172.5)"><path class="mw" d="M392.9,1252.2 L392.9,1266.6 L396.8,1269.3 L407.8,1269.3 L412.8,1266.6 L412.8,1252.2 Z"/>
<path class="m" d="M392.9,1256.1 C393.7,1256.6 395.4,1258.4 397.9,1258.9 C400.4,1259.3 405.3,1259.3 407.8,1258.9 C410.3,1258.4 411.9,1256.6 412.8,1256.1"/>
<path class="m" d="M392.9,1260.5 C393.7,1261.0 395.4,1262.8 397.9,1263.3 C400.4,1263.7 405.3,1263.7 407.8,1263.3 C410.3,1262.8 411.9,1261.0 412.8,1260.5"/>
<path class="m" d="M392.9,1264.9 C393.7,1265.4 395.4,1267.2 397.9,1267.7 C400.4,1268.1 405.3,1268.1 407.8,1267.7 C410.3,1267.2 411.9,1265.4 412.8,1264.9"/>
<g transform="translate(427.1 1221.6) rotate(-30.0) scale(1.000 1.000)" stroke-linejoin="round" stroke-linecap="round"><path d="M8.5,-8.0 L-8.5,-8.0 A3.2,8.0 0 0 0 -8.5,8.0 L8.5,8.0 A3.2,8.0 0 0 0 8.5,-8.0 Z" fill="#fff" stroke="#222" stroke-width="1.25"/><ellipse cx="-8.5" cy="0" rx="3.2" ry="8.0" fill="#fff" stroke="#222" stroke-width="1.25"/><path d="M-4.2,-8.0 A3.2,8.0 0 0 0 -4.2,8.0" fill="none" stroke="#222" stroke-width="1.00"/><path d="M0.0,-8.0 A3.2,8.0 0 0 0 0.0,8.0" fill="none" stroke="#222" stroke-width="1.00"/><path d="M4.2,-8.0 A3.2,8.0 0 0 0 4.2,8.0" fill="none" stroke="#222" stroke-width="1.00"/></g>
<path class="mw" d="M413.3,1220.8 L421.0,1218.1 L421.6,1234.6 L413.3,1239.0 Z"/>
<path class="mw" d="M391.3,1220.3 L412.2,1219.2 L413.1,1246.7 L410.0,1250.0 L394.6,1253.9 L391.5,1245.6 Z"/>
<path class="m" d="M394.6,1223.6 L403.9,1229.6 L412.2,1224.7"/>
<path class="m" d="M403.9,1229.6 L403.4,1250.0"/>
<path class="mw" d="M384.1,1199.3 L388.5,1193.8 L418.8,1180.6 L421.0,1193.8 L421.0,1213.7 L412.2,1218.3 L402.3,1220.3 L392.4,1218.1 L384.9,1209.2 Z"/>
<path class="m" d="M385.2,1199.3 L394.0,1202.1 L410.6,1200.4 L420.5,1193.8"/>
<path class="m" d="M394.0,1202.1 L393.5,1218.1"/>
<path class="m" d="M410.6,1200.4 L410.9,1218.6"/>
<path class="t" d="M402.8,1272.1 L402.8,1287.5"/>
<path class="t" d="M436.5,1216.1 L449.7,1208.4"/>
<g transform="translate(125.2 1374.2) rotate(35.0) scale(1.000 1.000)" stroke-linejoin="round" stroke-linecap="round"><path d="M11.0,-8.0 L-11.0,-8.0 A3.2,8.0 0 0 0 -11.0,8.0 L11.0,8.0 A3.2,8.0 0 0 0 11.0,-8.0 Z" fill="#fff" stroke="#222" stroke-width="1.25"/><ellipse cx="-11.0" cy="0" rx="3.2" ry="8.0" fill="#fff" stroke="#222" stroke-width="1.25"/><path d="M-6.6,-8.0 A3.2,8.0 0 0 0 -6.6,8.0" fill="none" stroke="#222" stroke-width="1.00"/><path d="M-2.2,-8.0 A3.2,8.0 0 0 0 -2.2,8.0" fill="none" stroke="#222" stroke-width="1.00"/><path d="M2.2,-8.0 A3.2,8.0 0 0 0 2.2,8.0" fill="none" stroke="#222" stroke-width="1.00"/><path d="M6.6,-8.0 A3.2,8.0 0 0 0 6.6,8.0" fill="none" stroke="#222" stroke-width="1.00"/></g>
<path class="mw" d="M132.6,1368.5 L161.9,1370.4 L162.3,1393.1 L146.8,1398.7 L131.6,1388.3 Z"/>
<path class="m" d="M132.6,1372.3 L147.7,1379.8 L161.9,1373.2"/>
<path class="m" d="M147.7,1379.8 L147.1,1398.4"/>
<path class="mw" d="M131.6,1336.3 L137.3,1330.7 L161.9,1327.8 L166.6,1336.3 L166.6,1360.9 L158.1,1368.5 L145.8,1370.4 L134.5,1366.6 L131.3,1359.0 Z"/>
<path class="m" d="M132.0,1345.8 L141.1,1350.5 L158.1,1348.6 L166.6,1343.0"/>
<path class="m" d="M132.6,1336.3 L141.5,1340.5 L157.7,1339.2 L165.7,1333.5"/>
<path class="m" d="M141.1,1340.5 L141.1,1369.4"/>
<path class="m" d="M158.1,1339.2 L158.5,1368.1"/>
<path class="t" d="M112.7,1364.3 L106.1,1360.2"/>
<path class="tw" d="M118.7,1279.1 L398.3,1117.5 L398.3,1117.5 C401.3,1118.3 411.5,1119.3 416.7,1122.4 C421.9,1125.6 426.4,1131.2 429.4,1136.6 C432.5,1142.0 434.4,1149.6 435.1,1155.0 C435.8,1160.5 434.6,1165.9 433.7,1169.2 C432.8,1172.5 430.2,1173.9 429.4,1174.9 L157.3,1328.7 Z"/><path class="t" d="M392.6,1113.9 L392.6,1120.3 L399.0,1117.8"/>
<path class="t" d="M491.1,1118.2 C491.3,1120.1 492.0,1126.2 492.1,1129.5 C492.2,1132.8 492.6,1135.4 491.8,1138.0 C491.1,1140.6 488.3,1143.9 487.6,1145.1"/>
<path class="t" d="M436.5,1176.3 L487.6,1145.1"/>
<path class="tw" d="M436.5,1140.9 L479.1,1116.8 L491.1,1112.5 L491.8,1138.0 L487.6,1145.1 L436.5,1176.3 Z"/>
<path class="t" d="M436.5,1140.9 L436.5,1176.3 L430.9,1173.2"/>
<path class="tw" d="M392.6,1113.9 L436.5,1088.4 C439.1,1087.5 446.5,1084.0 452.1,1083.0 C457.8,1082.1 465.1,1081.9 470.6,1082.8 C476.0,1083.7 481.3,1085.6 484.7,1088.4 C488.1,1091.3 490.5,1096.1 491.1,1099.8 C491.7,1103.4 490.3,1107.6 488.3,1110.4 C486.3,1113.2 480.6,1115.7 479.1,1116.8 L436.5,1140.9 L435.8,1149.4 L435.1,1155.0 C434.2,1152.0 432.5,1142.0 429.4,1136.6 C426.4,1131.2 421.9,1125.6 416.7,1122.4 C411.5,1119.3 401.3,1118.3 398.3,1117.5 Z"/><path class="t" d="M491.1,1100.5 C491.3,1101.5 493.0,1104.0 492.5,1106.9 C492.0,1109.7 490.3,1114.8 488.3,1117.5 C486.3,1120.2 481.8,1122.2 480.5,1123.1"/>
<path class="t" d="M480.5,1123.1 L445.0,1143.0"/>
<path class="t" d="M479.1,1116.8 L436.5,1140.9"/>
<path class="t" d="M446.5,1143.7 L446.5,1160.7 L484.7,1138.0"/>
<path class="t" d="M446.5,1143.7 L462.0,1134.9"/>
<path class="t" d="M462.0,1134.9 C463.2,1134.8 467.0,1135.1 469.1,1134.5 C471.3,1133.8 473.7,1132.2 474.8,1130.9 C475.9,1129.6 475.4,1127.4 475.5,1126.7"/>
<path class="t" d="M474.8,1102.3 C474.6,1102.7 474.0,1103.6 473.5,1104.2 C472.9,1104.8 472.2,1105.4 471.5,1106.0 C470.8,1106.5 469.9,1107.0 469.0,1107.5 C468.1,1107.9 467.1,1108.3 466.1,1108.6 C465.1,1108.9 464.0,1109.2 462.9,1109.4 C461.8,1109.6 460.6,1109.7 459.5,1109.7 C458.4,1109.8 457.3,1109.7 456.2,1109.7 C455.1,1109.6 454.0,1109.4 453.0,1109.1 C452.0,1108.9 451.1,1108.6 450.2,1108.2 C449.3,1107.9 448.5,1107.4 447.8,1107.0 C447.1,1106.5 446.5,1106.0 446.0,1105.4 C445.5,1104.8 445.1,1104.2 444.8,1103.6 C444.6,1103.0 444.4,1102.3 444.4,1101.6 C444.3,1101.0 444.4,1100.3 444.6,1099.6 C444.8,1099.0 445.2,1098.3 445.6,1097.7 C446.0,1097.0 446.6,1096.4 447.3,1095.8 C447.9,1095.3 448.7,1094.7 449.5,1094.2 C450.3,1093.7 451.2,1093.3 452.2,1092.9 C453.2,1092.5 454.2,1092.2 455.3,1091.9 C456.3,1091.7 457.5,1091.5 458.6,1091.3 C459.7,1091.2 460.8,1091.2 461.9,1091.2 C463.0,1091.2 464.2,1091.3 465.2,1091.5 C466.2,1091.7 467.3,1091.9 468.2,1092.2 C469.2,1092.5 470.1,1092.9 470.8,1093.3 C471.6,1093.7 472.6,1094.5 473.0,1094.7"/>
<ellipse class="t" cx="459.9" cy="1104.7" rx="12.8" ry="5.7" transform="rotate(0.0 459.9 1104.7)"/>
<path class="t" d="M436.6,1106.3 C436.4,1106.4 436.0,1106.9 435.7,1107.1 C435.3,1107.4 434.9,1107.7 434.5,1107.9 C434.1,1108.1 433.7,1108.3 433.3,1108.5 C432.8,1108.7 432.3,1108.8 431.9,1108.9 C431.4,1109.0 430.9,1109.0 430.4,1109.0 C430.0,1109.1 429.5,1109.0 429.0,1109.0 C428.6,1108.9 428.1,1108.8 427.7,1108.7 C427.3,1108.6 426.9,1108.4 426.5,1108.2 C426.2,1108.0 425.8,1107.8 425.5,1107.5 C425.2,1107.3 425.0,1107.0 424.8,1106.7 C424.6,1106.4 424.4,1106.0 424.3,1105.7 C424.2,1105.4 424.1,1105.0 424.1,1104.7 C424.1,1104.3 424.1,1104.0 424.2,1103.6 C424.3,1103.3 424.5,1102.9 424.7,1102.6 C424.8,1102.2 425.1,1101.9 425.4,1101.6 C425.6,1101.3 425.9,1101.0 426.3,1100.7 C426.6,1100.4 427.0,1100.2 427.5,1100.0 C427.9,1099.8 428.3,1099.6 428.8,1099.4 C429.2,1099.3 429.7,1099.2 430.2,1099.1 C430.6,1099.0 431.1,1099.0 431.6,1099.0 C432.1,1099.0 432.5,1099.0 433.0,1099.1 C433.4,1099.2 433.9,1099.3 434.3,1099.4 C434.7,1099.6 435.3,1099.9 435.4,1100.0"/>
<path class="t" d="M461.8,1119.7 C461.6,1119.9 461.2,1120.4 460.8,1120.7 C460.5,1121.0 460.0,1121.2 459.6,1121.5 C459.2,1121.7 458.7,1121.9 458.2,1122.1 C457.7,1122.2 457.2,1122.4 456.7,1122.5 C456.2,1122.6 455.7,1122.6 455.2,1122.7 C454.7,1122.7 454.1,1122.7 453.6,1122.6 C453.1,1122.5 452.7,1122.5 452.2,1122.3 C451.8,1122.2 451.3,1122.0 450.9,1121.8 C450.5,1121.6 450.2,1121.4 449.9,1121.1 C449.5,1120.9 449.3,1120.6 449.1,1120.3 C448.8,1120.0 448.7,1119.6 448.5,1119.3 C448.4,1118.9 448.4,1118.6 448.4,1118.2 C448.3,1117.9 448.4,1117.5 448.5,1117.1 C448.6,1116.8 448.8,1116.4 449.0,1116.0 C449.2,1115.7 449.4,1115.3 449.7,1115.0 C450.0,1114.7 450.4,1114.4 450.8,1114.1 C451.1,1113.8 451.6,1113.6 452.0,1113.4 C452.5,1113.1 452.9,1112.9 453.4,1112.8 C453.9,1112.6 454.4,1112.5 454.9,1112.4 C455.5,1112.3 456.0,1112.3 456.5,1112.3 C457.0,1112.3 457.5,1112.3 458.0,1112.4 C458.5,1112.5 459.0,1112.6 459.4,1112.7 C459.9,1112.9 460.5,1113.2 460.7,1113.3"/>
<ellipse class="tw" cx="134" cy="1306.5" rx="15" ry="31.6" transform="rotate(-29.7 134 1306.5)"/><path class="tw" d="M44.7,1338.2 L125,1294.1 L125.0,1294.1 C127.1,1294.9 134.6,1295.7 137.6,1298.8 C140.7,1302.0 142.9,1309.1 143.1,1313.0 C143.4,1316.9 139.9,1320.9 139.2,1322.4 L64.5,1366.6"/>
</g>
<path class="tw" d="M349.2,1533.4 L349.2,1561.8 L301.0,1586.4 C298.8,1586.7 292.5,1588.1 287.8,1588.2 C283.1,1588.4 276.8,1588.6 272.7,1587.3 C268.6,1586.0 264.8,1581.8 263.2,1580.7 L263.2,1541.0 Z"/><path class="tw" d="M349.2,1521.1 L349.2,1534.4 L301.0,1563.7 C298.8,1564.0 292.5,1565.8 287.8,1565.9 C283.1,1566.1 276.7,1566.4 272.7,1564.6 C268.7,1562.8 265.1,1556.7 263.6,1555.2 L263.2,1541.0 Z"/><path class="tw" d="M314.3,1501.7 L349.2,1521.1 L301.0,1551.4 C298.8,1552.0 292.8,1555.0 287.8,1555.2 C282.8,1555.3 274.9,1554.5 270.8,1552.3 C266.7,1550.1 264.3,1545.1 263.2,1541.9 C262.1,1538.8 262.9,1535.8 264.2,1533.4 C265.4,1531.1 269.7,1528.7 270.8,1527.8 Z"/><ellipse class="t" cx="287.8" cy="1536.3" rx="15.5" ry="7.9" transform="rotate(-5.0 287.8 1536.3)"/>
<path class="t" d="M299.5,1541.0 C299.5,1541.2 299.4,1541.7 299.3,1542.1 C299.1,1542.4 298.8,1542.8 298.5,1543.1 C298.2,1543.5 297.8,1543.8 297.3,1544.1 C296.8,1544.4 296.3,1544.7 295.6,1544.9 C295.0,1545.2 294.4,1545.4 293.7,1545.6 C293.0,1545.8 292.2,1545.9 291.4,1546.0 C290.7,1546.1 289.8,1546.2 289.0,1546.2 C288.2,1546.3 287.4,1546.3 286.6,1546.2 C285.8,1546.2 285.0,1546.1 284.2,1546.0 C283.4,1545.9 282.7,1545.8 281.9,1545.6 C281.2,1545.4 280.6,1545.2 280.0,1544.9 C279.4,1544.7 278.8,1544.4 278.3,1544.1 C277.8,1543.8 277.4,1543.5 277.1,1543.1 C276.8,1542.8 276.5,1542.4 276.3,1542.1 C276.2,1541.7 276.1,1541.2 276.1,1541.0"/>
<path class="t" d="M343.6,1538.1 L343.6,1559.9 L349.2,1561.8"/>
<path class="t" d="M343.6,1538.1 L304.8,1560.8"/>
<path class="t" d="M343.6,1538.1 L349.2,1534.4"/>
<path class="t" d="M343.6,1552.3 L335.1,1548.5"/>
<path class="t" d="M299.9,1567.5 C299.8,1567.7 299.5,1568.3 299.1,1568.7 C298.7,1569.0 298.3,1569.4 297.8,1569.7 C297.2,1570.1 296.6,1570.4 295.9,1570.6 C295.2,1570.9 294.4,1571.2 293.6,1571.4 C292.8,1571.6 291.9,1571.8 291.1,1571.9 C290.2,1572.0 289.2,1572.1 288.3,1572.1 C287.3,1572.2 286.4,1572.2 285.4,1572.1 C284.5,1572.1 283.6,1572.0 282.7,1571.9 C281.8,1571.8 280.9,1571.6 280.1,1571.4 C279.3,1571.2 278.5,1570.9 277.8,1570.6 C277.1,1570.4 276.5,1570.1 276.0,1569.7 C275.4,1569.4 275.0,1569.0 274.6,1568.7 C274.3,1568.3 274.0,1567.7 273.8,1567.5"/>
<path d="M651.7,720.0 C651.7,718.5 651.8,716.9 651.7,711.0 C651.6,705.1 652.3,693.3 651.0,684.5 C649.7,675.7 647.2,666.2 644.0,658.0 C640.8,649.8 636.4,641.3 631.6,635.4 C626.8,629.5 620.9,625.7 615.0,622.8 C609.1,619.9 603.2,618.1 596.3,617.8 C589.4,617.5 581.4,618.4 573.6,620.8 C565.8,623.2 557.7,627.0 549.7,632.0 C541.7,637.0 533.8,642.8 525.8,650.5 C517.8,658.2 508.8,668.4 501.9,678.0 C495.0,687.6 489.9,698.4 484.5,708.0 C479.1,717.6 473.4,726.7 469.3,735.4 C465.2,744.1 462.6,752.1 460.0,760.0 C457.4,767.9 455.7,772.8 453.5,782.7 C451.3,792.6 448.5,808.2 446.6,819.4 C444.7,830.6 442.9,841.6 442.0,850.0 C441.1,858.4 440.8,860.4 440.9,870.0 C441.0,879.6 441.3,895.8 442.7,907.8 C444.1,919.8 445.9,930.5 449.0,941.8 C452.1,953.1 456.1,964.5 461.3,975.8 C466.5,987.1 472.6,998.3 480.2,1009.8 C487.8,1021.3 497.2,1033.9 506.6,1044.8 C516.1,1055.7 527.8,1066.0 536.9,1075.0 C546.0,1084.0 556.2,1092.4 561.4,1098.7 C566.6,1105.0 567.5,1107.5 568.0,1113.0 C568.5,1118.5 569.0,1125.9 564.5,1132.0 C560.0,1138.1 549.1,1144.2 541.0,1149.5 C532.9,1154.8 522.8,1159.8 516.0,1163.5 C509.2,1167.2 502.7,1170.6 500.0,1172.0" fill="none" stroke="#fff" stroke-width="30.5" stroke-linecap="butt"/><path d="M651.7,720.0 C651.7,718.5 651.8,716.9 651.7,711.0 C651.6,705.1 652.3,693.3 651.0,684.5 C649.7,675.7 647.2,666.2 644.0,658.0 C640.8,649.8 636.4,641.3 631.6,635.4 C626.8,629.5 620.9,625.7 615.0,622.8 C609.1,619.9 603.2,618.1 596.3,617.8 C589.4,617.5 581.4,618.4 573.6,620.8 C565.8,623.2 557.7,627.0 549.7,632.0 C541.7,637.0 533.8,642.8 525.8,650.5 C517.8,658.2 508.8,668.4 501.9,678.0 C495.0,687.6 489.9,698.4 484.5,708.0 C479.1,717.6 473.4,726.7 469.3,735.4 C465.2,744.1 462.6,752.1 460.0,760.0 C457.4,767.9 455.7,772.8 453.5,782.7 C451.3,792.6 448.5,808.2 446.6,819.4 C444.7,830.6 442.9,841.6 442.0,850.0 C441.1,858.4 440.8,860.4 440.9,870.0 C441.0,879.6 441.3,895.8 442.7,907.8 C444.1,919.8 445.9,930.5 449.0,941.8 C452.1,953.1 456.1,964.5 461.3,975.8 C466.5,987.1 472.6,998.3 480.2,1009.8 C487.8,1021.3 497.2,1033.9 506.6,1044.8 C516.1,1055.7 527.8,1066.0 536.9,1075.0 C546.0,1084.0 556.2,1092.4 561.4,1098.7 C566.6,1105.0 567.5,1107.5 568.0,1113.0 C568.5,1118.5 569.0,1125.9 564.5,1132.0 C560.0,1138.1 549.1,1144.2 541.0,1149.5 C532.9,1154.8 522.8,1159.8 516.0,1163.5 C509.2,1167.2 502.7,1170.6 500.0,1172.0" fill="none" stroke="#111" stroke-width="25.5" stroke-linecap="butt"/><path d="M651.7,720.0 C651.7,718.5 651.8,716.9 651.7,711.0 C651.6,705.1 652.3,693.3 651.0,684.5 C649.7,675.7 647.2,666.2 644.0,658.0 C640.8,649.8 636.4,641.3 631.6,635.4 C626.8,629.5 620.9,625.7 615.0,622.8 C609.1,619.9 603.2,618.1 596.3,617.8 C589.4,617.5 581.4,618.4 573.6,620.8 C565.8,623.2 557.7,627.0 549.7,632.0 C541.7,637.0 533.8,642.8 525.8,650.5 C517.8,658.2 508.8,668.4 501.9,678.0 C495.0,687.6 489.9,698.4 484.5,708.0 C479.1,717.6 473.4,726.7 469.3,735.4 C465.2,744.1 462.6,752.1 460.0,760.0 C457.4,767.9 455.7,772.8 453.5,782.7 C451.3,792.6 448.5,808.2 446.6,819.4 C444.7,830.6 442.9,841.6 442.0,850.0 C441.1,858.4 440.8,860.4 440.9,870.0 C441.0,879.6 441.3,895.8 442.7,907.8 C444.1,919.8 445.9,930.5 449.0,941.8 C452.1,953.1 456.1,964.5 461.3,975.8 C466.5,987.1 472.6,998.3 480.2,1009.8 C487.8,1021.3 497.2,1033.9 506.6,1044.8 C516.1,1055.7 527.8,1066.0 536.9,1075.0 C546.0,1084.0 556.2,1092.4 561.4,1098.7 C566.6,1105.0 567.5,1107.5 568.0,1113.0 C568.5,1118.5 569.0,1125.9 564.5,1132.0 C560.0,1138.1 549.1,1144.2 541.0,1149.5 C532.9,1154.8 522.8,1159.8 516.0,1163.5 C509.2,1167.2 502.7,1170.6 500.0,1172.0" fill="none" stroke="#fff" stroke-width="22.2" stroke-linecap="butt"/>
<path d="M600.0,1084.5 C600.6,1085.0 599.9,1084.6 603.7,1087.2 C607.5,1089.8 616.0,1095.8 623.0,1100.0 C630.0,1104.2 638.2,1108.1 645.6,1112.3 C653.0,1116.5 658.1,1120.0 667.2,1125.3 C676.3,1130.6 688.2,1137.1 700.0,1144.2 C711.8,1151.3 725.2,1159.8 737.8,1167.8 C750.4,1175.8 763.0,1184.1 775.6,1192.4 C788.2,1200.8 801.1,1209.2 813.4,1217.9 C825.7,1226.6 839.1,1236.1 849.3,1244.3 C859.5,1252.5 866.9,1259.4 874.8,1267.0 C882.7,1274.6 890.8,1282.5 896.5,1289.7 C902.2,1297.0 905.3,1303.1 908.8,1310.5 C912.3,1317.9 915.0,1325.8 917.3,1334.1 C919.6,1342.3 921.2,1349.8 922.5,1360.0 C923.8,1370.2 925.0,1385.0 925.2,1395.0 C925.5,1405.0 925.1,1411.9 924.0,1419.8 C922.9,1427.7 921.1,1435.2 918.3,1442.5 C915.5,1449.8 911.8,1457.3 907.4,1463.8 C903.0,1470.3 897.6,1476.5 891.8,1481.5 C886.0,1486.5 879.1,1490.7 872.7,1493.5 C866.3,1496.3 859.8,1498.0 853.5,1498.5 C847.2,1499.0 841.0,1498.3 835.1,1496.4 C829.2,1494.5 823.3,1491.3 818.1,1487.2 C812.9,1483.1 807.8,1477.3 803.9,1471.6 C800.0,1465.9 797.2,1459.1 795.0,1453.1 C792.8,1447.1 791.7,1439.9 790.8,1435.4 C789.9,1430.9 789.9,1430.4 789.5,1426.2 C789.1,1422.0 788.7,1412.7 788.5,1410.0" fill="none" stroke="#fff" stroke-width="28.3" stroke-linecap="butt"/><path d="M600.0,1084.5 C600.6,1085.0 599.9,1084.6 603.7,1087.2 C607.5,1089.8 616.0,1095.8 623.0,1100.0 C630.0,1104.2 638.2,1108.1 645.6,1112.3 C653.0,1116.5 658.1,1120.0 667.2,1125.3 C676.3,1130.6 688.2,1137.1 700.0,1144.2 C711.8,1151.3 725.2,1159.8 737.8,1167.8 C750.4,1175.8 763.0,1184.1 775.6,1192.4 C788.2,1200.8 801.1,1209.2 813.4,1217.9 C825.7,1226.6 839.1,1236.1 849.3,1244.3 C859.5,1252.5 866.9,1259.4 874.8,1267.0 C882.7,1274.6 890.8,1282.5 896.5,1289.7 C902.2,1297.0 905.3,1303.1 908.8,1310.5 C912.3,1317.9 915.0,1325.8 917.3,1334.1 C919.6,1342.3 921.2,1349.8 922.5,1360.0 C923.8,1370.2 925.0,1385.0 925.2,1395.0 C925.5,1405.0 925.1,1411.9 924.0,1419.8 C922.9,1427.7 921.1,1435.2 918.3,1442.5 C915.5,1449.8 911.8,1457.3 907.4,1463.8 C903.0,1470.3 897.6,1476.5 891.8,1481.5 C886.0,1486.5 879.1,1490.7 872.7,1493.5 C866.3,1496.3 859.8,1498.0 853.5,1498.5 C847.2,1499.0 841.0,1498.3 835.1,1496.4 C829.2,1494.5 823.3,1491.3 818.1,1487.2 C812.9,1483.1 807.8,1477.3 803.9,1471.6 C800.0,1465.9 797.2,1459.1 795.0,1453.1 C792.8,1447.1 791.7,1439.9 790.8,1435.4 C789.9,1430.9 789.9,1430.4 789.5,1426.2 C789.1,1422.0 788.7,1412.7 788.5,1410.0" fill="none" stroke="#111" stroke-width="23.3" stroke-linecap="butt"/><path d="M600.0,1084.5 C600.6,1085.0 599.9,1084.6 603.7,1087.2 C607.5,1089.8 616.0,1095.8 623.0,1100.0 C630.0,1104.2 638.2,1108.1 645.6,1112.3 C653.0,1116.5 658.1,1120.0 667.2,1125.3 C676.3,1130.6 688.2,1137.1 700.0,1144.2 C711.8,1151.3 725.2,1159.8 737.8,1167.8 C750.4,1175.8 763.0,1184.1 775.6,1192.4 C788.2,1200.8 801.1,1209.2 813.4,1217.9 C825.7,1226.6 839.1,1236.1 849.3,1244.3 C859.5,1252.5 866.9,1259.4 874.8,1267.0 C882.7,1274.6 890.8,1282.5 896.5,1289.7 C902.2,1297.0 905.3,1303.1 908.8,1310.5 C912.3,1317.9 915.0,1325.8 917.3,1334.1 C919.6,1342.3 921.2,1349.8 922.5,1360.0 C923.8,1370.2 925.0,1385.0 925.2,1395.0 C925.5,1405.0 925.1,1411.9 924.0,1419.8 C922.9,1427.7 921.1,1435.2 918.3,1442.5 C915.5,1449.8 911.8,1457.3 907.4,1463.8 C903.0,1470.3 897.6,1476.5 891.8,1481.5 C886.0,1486.5 879.1,1490.7 872.7,1493.5 C866.3,1496.3 859.8,1498.0 853.5,1498.5 C847.2,1499.0 841.0,1498.3 835.1,1496.4 C829.2,1494.5 823.3,1491.3 818.1,1487.2 C812.9,1483.1 807.8,1477.3 803.9,1471.6 C800.0,1465.9 797.2,1459.1 795.0,1453.1 C792.8,1447.1 791.7,1439.9 790.8,1435.4 C789.9,1430.9 789.9,1430.4 789.5,1426.2 C789.1,1422.0 788.7,1412.7 788.5,1410.0" fill="none" stroke="#fff" stroke-width="20.0" stroke-linecap="butt"/>
<path d="M580.0,951.0 C576.2,953.0 563.8,958.9 557.3,963.0 C550.8,967.1 545.1,970.8 541.0,975.5 C536.9,980.2 534.1,985.6 532.5,991.0 C530.9,996.4 531.1,1003.2 531.5,1008.0 C531.9,1012.8 532.8,1015.0 535.0,1020.0 C537.2,1025.0 540.3,1032.3 544.5,1038.0 C548.7,1043.7 554.0,1048.6 560.0,1054.0 C566.0,1059.4 573.3,1065.1 580.6,1070.6 C587.9,1076.1 599.9,1084.4 603.7,1087.2" fill="none" stroke="#fff" stroke-width="30.0" stroke-linecap="butt"/><path d="M580.0,951.0 C576.2,953.0 563.8,958.9 557.3,963.0 C550.8,967.1 545.1,970.8 541.0,975.5 C536.9,980.2 534.1,985.6 532.5,991.0 C530.9,996.4 531.1,1003.2 531.5,1008.0 C531.9,1012.8 532.8,1015.0 535.0,1020.0 C537.2,1025.0 540.3,1032.3 544.5,1038.0 C548.7,1043.7 554.0,1048.6 560.0,1054.0 C566.0,1059.4 573.3,1065.1 580.6,1070.6 C587.9,1076.1 599.9,1084.4 603.7,1087.2" fill="none" stroke="#111" stroke-width="25.0" stroke-linecap="butt"/><path d="M580.0,951.0 C576.2,953.0 563.8,958.9 557.3,963.0 C550.8,967.1 545.1,970.8 541.0,975.5 C536.9,980.2 534.1,985.6 532.5,991.0 C530.9,996.4 531.1,1003.2 531.5,1008.0 C531.9,1012.8 532.8,1015.0 535.0,1020.0 C537.2,1025.0 540.3,1032.3 544.5,1038.0 C548.7,1043.7 554.0,1048.6 560.0,1054.0 C566.0,1059.4 573.3,1065.1 580.6,1070.6 C587.9,1076.1 599.9,1084.4 603.7,1087.2" fill="none" stroke="#fff" stroke-width="21.7" stroke-linecap="butt"/>
<path d="M580.0,951.0 C576.2,953.0 563.8,958.9 557.3,963.0 C550.8,967.1 545.1,970.8 541.0,975.5 C536.9,980.2 534.1,985.6 532.5,991.0 C530.9,996.4 531.1,1003.2 531.5,1008.0 C531.9,1012.8 532.8,1015.0 535.0,1020.0 C537.2,1025.0 540.3,1032.3 544.5,1038.0 C548.7,1043.7 554.0,1048.6 560.0,1054.0 C566.0,1059.4 573.3,1065.1 580.6,1070.6 C587.9,1076.1 598.5,1083.5 603.7,1087.2 C608.9,1090.9 610.6,1092.0 612.0,1093.0" fill="none" stroke="#111" stroke-width="25.0" stroke-linecap="butt"/><path d="M581.3,950.3 C581.1,950.4 584.0,948.9 580.0,951.0 C576.0,953.1 563.8,958.9 557.3,963.0 C550.8,967.1 545.1,970.8 541.0,975.5 C536.9,980.2 534.1,985.6 532.5,991.0 C530.9,996.4 531.1,1003.2 531.5,1008.0 C531.9,1012.8 532.8,1015.0 535.0,1020.0 C537.2,1025.0 540.3,1032.3 544.5,1038.0 C548.7,1043.7 554.0,1048.6 560.0,1054.0 C566.0,1059.4 573.3,1065.1 580.6,1070.6 C587.9,1076.1 598.5,1083.5 603.7,1087.2 C608.9,1090.9 610.4,1091.9 612.0,1093.0 C613.6,1094.1 613.0,1093.7 613.2,1093.9" fill="none" stroke="#fff" stroke-width="21.7" stroke-linecap="butt"/>
<path d="M1166.0,320.0 C1168.5,324.4 1177.1,339.4 1180.8,346.4 C1184.5,353.4 1186.6,356.9 1188.1,362.2 C1189.6,367.5 1190.2,372.1 1190.0,378.2 C1189.8,384.3 1188.5,392.0 1186.6,398.7 C1184.7,405.4 1181.5,412.3 1178.6,418.4 C1175.7,424.5 1172.5,429.2 1169.1,435.2 C1165.7,441.2 1161.5,448.4 1158.2,454.2 C1154.9,460.0 1152.4,464.5 1149.0,470.0 C1145.6,475.5 1139.8,484.2 1138.0,487.0" fill="none" stroke="#111" stroke-width="24.0" stroke-linecap="butt"/><path d="M1166.0,320.0 C1168.5,324.4 1177.1,339.4 1180.8,346.4 C1184.5,353.4 1186.6,356.9 1188.1,362.2 C1189.6,367.5 1190.2,372.1 1190.0,378.2 C1189.8,384.3 1188.5,392.0 1186.6,398.7 C1184.7,405.4 1181.5,412.3 1178.6,418.4 C1175.7,424.5 1172.5,429.2 1169.1,435.2 C1165.7,441.2 1161.5,448.4 1158.2,454.2 C1154.9,460.0 1152.4,464.5 1149.0,470.0 C1145.6,475.5 1139.8,484.2 1138.0,487.0" fill="none" stroke="#fff" stroke-width="20.7" stroke-linecap="butt"/>
<path d="M1132.0,494.0 C1130.8,495.6 1128.4,499.5 1124.5,503.6 C1120.6,507.8 1114.2,514.0 1108.7,518.9 C1103.2,523.8 1098.2,527.9 1091.4,532.8 C1084.6,537.6 1075.7,543.4 1067.8,548.0 C1059.9,552.6 1053.4,556.0 1044.2,560.3 C1035.0,564.6 1023.2,569.2 1012.7,573.7 C1002.2,578.2 991.3,582.8 981.2,587.1 C971.1,591.4 961.0,595.2 952.0,599.7 C943.0,604.2 933.9,610.2 927.0,614.0 C920.1,617.8 915.5,619.6 910.5,622.7 C905.5,625.8 900.7,628.9 896.7,632.8 C892.7,636.7 889.0,641.4 886.6,646.0 C884.2,650.6 883.1,654.8 882.2,660.5 C881.4,666.2 881.6,670.9 881.5,680.0 C881.4,689.1 881.7,709.2 881.7,715.0" fill="none" stroke="#111" stroke-width="25.0" stroke-linecap="butt"/><path d="M1132.0,494.0 C1130.8,495.6 1128.4,499.5 1124.5,503.6 C1120.6,507.8 1114.2,514.0 1108.7,518.9 C1103.2,523.8 1098.2,527.9 1091.4,532.8 C1084.6,537.6 1075.7,543.4 1067.8,548.0 C1059.9,552.6 1053.4,556.0 1044.2,560.3 C1035.0,564.6 1023.2,569.2 1012.7,573.7 C1002.2,578.2 991.3,582.8 981.2,587.1 C971.1,591.4 961.0,595.2 952.0,599.7 C943.0,604.2 933.9,610.2 927.0,614.0 C920.1,617.8 915.5,619.6 910.5,622.7 C905.5,625.8 900.7,628.9 896.7,632.8 C892.7,636.7 889.0,641.4 886.6,646.0 C884.2,650.6 883.1,654.8 882.2,660.5 C881.4,666.2 881.6,670.9 881.5,680.0 C881.4,689.1 881.7,709.2 881.7,715.0" fill="none" stroke="#fff" stroke-width="21.7" stroke-linecap="butt"/>
<!-- fittings -->
<line x1="838.0" y1="146.0" x2="852.0" y2="153.0" stroke="#333" stroke-width="1.0" />
<g transform="translate(862.6 162.1) rotate(27.0) scale(1.000 1.000)" stroke-linejoin="round" stroke-linecap="round"><path d="M9.5,-7.5 L-9.5,-7.5 A3.0,7.5 0 0 0 -9.5,7.5 L9.5,7.5 A3.0,7.5 0 0 0 9.5,-7.5 Z" fill="#fff" stroke="#222" stroke-width="1.25"/><ellipse cx="-9.5" cy="0" rx="3.0" ry="7.5" fill="#fff" stroke="#222" stroke-width="1.25"/><path d="M-4.8,-7.5 A3.0,7.5 0 0 0 -4.8,7.5" fill="none" stroke="#222" stroke-width="1.00"/><path d="M0.0,-7.5 A3.0,7.5 0 0 0 0.0,7.5" fill="none" stroke="#222" stroke-width="1.00"/><path d="M4.8,-7.5 A3.0,7.5 0 0 0 4.8,7.5" fill="none" stroke="#222" stroke-width="1.00"/></g>
<g transform="translate(921.9 146.4) rotate(-30.0) scale(1.000 1.000)" stroke-linejoin="round" stroke-linecap="round"><path d="M7.0,-6.5 L-7.0,-6.5 A2.6,6.5 0 0 0 -7.0,6.5 L7.0,6.5 A2.6,6.5 0 0 0 7.0,-6.5 Z" fill="#fff" stroke="#222" stroke-width="1.25"/><ellipse cx="-7.0" cy="0" rx="2.6" ry="6.5" fill="#fff" stroke="#222" stroke-width="1.25"/></g>
<g transform="translate(913.7 150.8) rotate(-30.0) scale(1.000 1.000)" stroke-linejoin="round" stroke-linecap="round"><path d="M-3.8,-8.0 L3.8,-8.0 C8.2,-4.4 8.2,4.4 3.8,8.0 L-3.8,8.0 C-8.2,4.4 -8.2,-4.4 -3.8,-8.0 Z" fill="#fff" stroke="#222" stroke-width="1.25"/><path d="M-6.9,-3.2 L6.9,-3.2 M-6.9,3.2 L6.9,3.2" fill="none" stroke="#222" stroke-width="0.94"/><path d="M-5.6,-8.0 Q-3.0,-5.6 -5.6,-3.2 M-5.6,-3.2 Q-3.0,0.0 -5.6,3.2 M-5.6,3.2 Q-3.0,5.6 -5.6,8.0" fill="none" stroke="#222" stroke-width="0.75"/><path d="M5.6,-8.0 Q3.0,-5.6 5.6,-3.2 M5.6,-3.2 Q3.0,0.0 5.6,3.2 M5.6,3.2 Q3.0,5.6 5.6,8.0" fill="none" stroke="#222" stroke-width="0.75"/></g>
<g transform="translate(898.5 155.8) rotate(-30.0) scale(1.000 1.000)" stroke-linejoin="round" stroke-linecap="round"><path d="M-9.5,-10.5 L9.5,-10.5 C14.5,-5.8 14.5,5.8 9.5,10.5 L-9.5,10.5 C-14.5,5.8 -14.5,-5.8 -9.5,-10.5 Z" fill="#fff" stroke="#222" stroke-width="1.25"/><path d="M-13.0,-4.2 L13.0,-4.2 M-13.0,4.2 L13.0,4.2" fill="none" stroke="#222" stroke-width="0.94"/><path d="M-11.5,-10.5 Q-8.5,-7.3 -11.5,-4.2 M-11.5,-4.2 Q-8.5,0.0 -11.5,4.2 M-11.5,4.2 Q-8.5,7.3 -11.5,10.5" fill="none" stroke="#222" stroke-width="0.75"/><path d="M11.5,-10.5 Q8.5,-7.3 11.5,-4.2 M11.5,-4.2 Q8.5,0.0 11.5,4.2 M11.5,4.2 Q8.5,7.3 11.5,10.5" fill="none" stroke="#222" stroke-width="0.75"/></g>
<path class="mw" d="M867.0,168.4 L870.2,162.1 L878.4,158.3 L890.4,163.8 L889.1,167.8 L885.6,171.6 L887.2,184.2 L866.4,172.2 Z"/>
<path class="m" d="M870.2,162.1 L882.8,172.8 L885.6,171.6"/>
<path class="m" d="M882.8,172.8 L885.3,180.4"/>
<g transform="translate(901.7 186.1) rotate(31.0) scale(1.000 1.000)" stroke-linejoin="round" stroke-linecap="round"><path d="M-11.0,-12.0 L11.0,-12.0 C16.0,-6.6 16.0,6.6 11.0,12.0 L-11.0,12.0 C-16.0,6.6 -16.0,-6.6 -11.0,-12.0 Z" fill="#fff" stroke="#222" stroke-width="1.25"/><path d="M-14.5,-4.8 L14.5,-4.8 M-14.5,4.8 L14.5,4.8" fill="none" stroke="#222" stroke-width="0.94"/><path d="M-13.0,-12.0 Q-10.0,-8.4 -13.0,-4.8 M-13.0,-4.8 Q-10.0,0.0 -13.0,4.8 M-13.0,4.8 Q-10.0,8.4 -13.0,12.0" fill="none" stroke="#222" stroke-width="0.75"/><path d="M13.0,-12.0 Q10.0,-8.4 13.0,-4.8 M13.0,-4.8 Q10.0,0.0 13.0,4.8 M13.0,4.8 Q10.0,8.4 13.0,12.0" fill="none" stroke="#222" stroke-width="0.75"/></g>
<g transform="translate(918.1 193.0) rotate(31.0) scale(1.000 1.000)" stroke-linejoin="round" stroke-linecap="round"><path d="M-7.5,-10.0 L7.5,-10.0 C12.5,-5.5 12.5,5.5 7.5,10.0 L-7.5,10.0 C-12.5,5.5 -12.5,-5.5 -7.5,-10.0 Z" fill="#fff" stroke="#222" stroke-width="1.25"/><path d="M-11.0,-4.0 L11.0,-4.0 M-11.0,4.0 L11.0,4.0" fill="none" stroke="#222" stroke-width="0.94"/><path d="M-9.5,-10.0 Q-6.5,-7.0 -9.5,-4.0 M-9.5,-4.0 Q-6.5,0.0 -9.5,4.0 M-9.5,4.0 Q-6.5,7.0 -9.5,10.0" fill="none" stroke="#222" stroke-width="0.75"/><path d="M9.5,-10.0 Q6.5,-7.0 9.5,-4.0 M9.5,-4.0 Q6.5,0.0 9.5,4.0 M9.5,4.0 Q6.5,7.0 9.5,10.0" fill="none" stroke="#222" stroke-width="0.75"/></g>
<g transform="translate(926.9 198.7) rotate(31.0) scale(1.000 1.000)" stroke-linejoin="round" stroke-linecap="round"><path d="M7,-12 C10,-20 13,-24 18,-26 C23,-29 28,-31 33,-31 C39,-31 44,-30 47,-27 C51,-24 53,-21 54,-17 C55,-12 55,-7 53,-3 C51,1 49,4 44,6" fill="none" stroke="#222" stroke-width="2.90"/><path d="M7,-12 C10,-20 13,-24 18,-26 C23,-29 28,-31 33,-31 C39,-31 44,-30 47,-27 C51,-24 53,-21 54,-17 C55,-12 55,-7 53,-3 C51,1 49,4 44,6" fill="none" stroke="#fff" stroke-width="0.90"/><path d="M0,-12 L40,-10.5 A4.5,10.5 0 0 1 40,10.5 L0,12 A4.5,12 0 0 1 0,-12 Z" fill="#fff" stroke="#222" stroke-width="1.25"/><path d="M4,-7.5 L37,-6.6" fill="none" stroke="#222" stroke-width="0.94"/><path d="M4,-3.5 L37,-3.1" fill="none" stroke="#222" stroke-width="0.94"/><path d="M4,0.5 L37,0.4" fill="none" stroke="#222" stroke-width="0.94"/><path d="M4,4.5 L37,4.0" fill="none" stroke="#222" stroke-width="0.94"/><path d="M4,8.5 L37,7.5" fill="none" stroke="#222" stroke-width="0.94"/><ellipse cx="40" cy="0" rx="4.5" ry="10.5" fill="#fff" stroke="#222" stroke-width="1.25"/><ellipse cx="41" cy="0" rx="3" ry="6.5" fill="#fff" stroke="#222" stroke-width="1.62"/><path d="M0,-12 A4.5,12 0 0 1 0,12" fill="none" stroke="#222" stroke-width="1.25"/><path d="M-3,-12.5 A4.5,12.5 0 0 1 -3,12.5 L0,12 M-3,-12.5 L0,-12" fill="none" stroke="#222" stroke-width="1.25"/></g>
<path class="b" d="M363.4,1535.3 C364.7,1536.6 368.5,1540.9 371.0,1542.9 C373.5,1544.8 375.7,1546.7 378.5,1547.0 C381.4,1547.4 385.4,1546.1 388.0,1545.1 C390.6,1544.1 393.0,1541.7 394.0,1541.0"/>
<ellipse class="mw" cx="389.5" cy="1530.6" rx="6.8" ry="9.5" transform="rotate(20.0 389.5 1530.6)"/>
<path class="m" d="M387.4,1536.9 C387.3,1536.7 386.9,1536.5 386.7,1536.2 C386.5,1535.9 386.4,1535.6 386.2,1535.3 C386.1,1535.0 386.0,1534.6 385.9,1534.2 C385.8,1533.8 385.8,1533.4 385.8,1532.9 C385.8,1532.5 385.8,1532.1 385.9,1531.6 C385.9,1531.2 386.0,1530.7 386.2,1530.3 C386.3,1529.8 386.5,1529.4 386.7,1529.0 C386.9,1528.5 387.1,1528.1 387.3,1527.8 C387.6,1527.4 387.9,1527.0 388.1,1526.7 C388.4,1526.4 388.7,1526.1 389.1,1525.9 C389.4,1525.6 389.7,1525.4 390.0,1525.3 C390.3,1525.1 390.7,1525.0 391.0,1525.0 C391.3,1524.9 391.6,1524.9 391.9,1525.0 C392.2,1525.0 392.5,1525.1 392.8,1525.3 C393.1,1525.4 393.3,1525.6 393.5,1525.8 C393.8,1526.0 394.0,1526.5 394.1,1526.6"/>
<path class="t" d="M373.8,1531.5 L382.3,1546.3"/>
<path class="t" d="M363.4,1535.3 L373.8,1531.5 L382.3,1526.8"/>
<path class="b" d="M321.8,1500.3 C322.2,1498.4 322.2,1491.8 324.1,1489.0 C326.0,1486.2 331.7,1484.3 333.2,1483.3"/>
<path class="b" d="M333.2,1483.3 L354.9,1493.3"/>
<path d="M747.5,1012.0 C749.5,1010.9 756.5,1006.5 759.3,1005.4 C762.0,1004.3 761.4,1004.7 764.0,1005.5 C766.6,1006.3 772.0,1009.0 775.0,1010.4 C778.0,1011.8 780.8,1013.4 782.0,1014.0" fill="none" stroke="#111" stroke-width="16.5" stroke-linecap="butt"/><path d="M747.5,1012.0 C749.5,1010.9 756.5,1006.5 759.3,1005.4 C762.0,1004.3 761.4,1004.7 764.0,1005.5 C766.6,1006.3 772.0,1009.0 775.0,1010.4 C778.0,1011.8 780.8,1013.4 782.0,1014.0" fill="none" stroke="#fff" stroke-width="13.1" stroke-linecap="butt"/>
<path d="M652.0,750.0 C652.1,753.0 651.7,763.3 652.5,768.0 C653.3,772.7 654.4,775.2 657.0,778.0 C659.6,780.8 664.8,783.2 668.0,785.0 C671.2,786.8 674.7,788.3 676.0,789.0" fill="none" stroke="#111" stroke-width="17.5" stroke-linecap="butt"/><path d="M652.0,750.0 C652.1,753.0 651.7,763.3 652.5,768.0 C653.3,772.7 654.4,775.2 657.0,778.0 C659.6,780.8 664.8,783.2 668.0,785.0 C671.2,786.8 674.7,788.3 676.0,789.0" fill="none" stroke="#fff" stroke-width="14.1" stroke-linecap="butt"/>
<path d="M405.0,1316.0 C404.9,1318.1 405.2,1325.2 404.7,1328.5 C404.2,1331.8 403.6,1333.9 401.9,1336.1 C400.2,1338.3 397.1,1339.9 394.3,1341.7 C391.5,1343.5 386.6,1346.1 385.0,1347.0" fill="none" stroke="#111" stroke-width="17.5" stroke-linecap="butt"/><path d="M405.0,1316.0 C404.9,1318.1 405.2,1325.2 404.7,1328.5 C404.2,1331.8 403.6,1333.9 401.9,1336.1 C400.2,1338.3 397.1,1339.9 394.3,1341.7 C391.5,1343.5 386.6,1346.1 385.0,1347.0" fill="none" stroke="#fff" stroke-width="14.1" stroke-linecap="butt"/>
<path d="M788.0,1390.0 C788.0,1386.3 789.0,1373.2 788.3,1368.0 C787.6,1362.8 786.0,1360.8 784.0,1359.0 C782.0,1357.2 779.3,1356.3 776.0,1357.0 C772.7,1357.7 766.0,1362.0 764.0,1363.0" fill="none" stroke="#111" stroke-width="15.5" stroke-linecap="butt"/><path d="M788.0,1390.0 C788.0,1386.3 789.0,1373.2 788.3,1368.0 C787.6,1362.8 786.0,1360.8 784.0,1359.0 C782.0,1357.2 779.3,1356.3 776.0,1357.0 C772.7,1357.7 766.0,1362.0 764.0,1363.0" fill="none" stroke="#fff" stroke-width="12.1" stroke-linecap="butt"/>
<path d="M668.0,1520.0 C668.8,1519.6 670.0,1519.2 673.0,1517.6 C676.0,1516.0 682.8,1513.4 685.8,1510.6 C688.8,1507.8 689.9,1504.0 690.9,1500.6 C691.9,1497.2 691.5,1493.2 691.6,1490.3 C691.7,1487.4 691.6,1484.2 691.6,1483.0" fill="none" stroke="#111" stroke-width="15.8" stroke-linecap="butt"/><path d="M668.0,1520.0 C668.8,1519.6 670.0,1519.2 673.0,1517.6 C676.0,1516.0 682.8,1513.4 685.8,1510.6 C688.8,1507.8 689.9,1504.0 690.9,1500.6 C691.9,1497.2 691.5,1493.2 691.6,1490.3 C691.7,1487.4 691.6,1484.2 691.6,1483.0" fill="none" stroke="#fff" stroke-width="12.4" stroke-linecap="butt"/>
<g transform="translate(794.7 121.1) rotate(26.6) scale(-1 1)" stroke-linejoin="round"><path d="M-19.5,-11.0 L15.1,-11.0 A4.4,11.0 0 0 1 15.1,11.0 L-19.5,11.0 Z" fill="#fff" stroke="#111" stroke-width="1.7"/><path d="M-19.5,-11.0 A4.4,11.0 0 0 1 -19.5,11.0" fill="none" stroke="#555" stroke-width="0.9"/></g>
<g transform="translate(729.0 1022.5) rotate(-29.4) scale(1 1)" stroke-linejoin="round"><path d="M-19.0,-11.8 L14.3,-11.8 A4.7,11.8 0 0 1 14.3,11.8 L-19.0,11.8 Z" fill="#fff" stroke="#111" stroke-width="1.7"/><path d="M-19.0,-11.8 A4.7,11.8 0 0 1 -19.0,11.8" fill="none" stroke="#555" stroke-width="0.9"/></g>
<g transform="translate(1169.5 326.0) rotate(59.1) scale(-1 1)" stroke-linejoin="round"><path d="M-22.1,-12.8 L17.0,-12.8 A5.1,12.8 0 0 1 17.0,12.8 L-22.1,12.8 Z" fill="#fff" stroke="#111" stroke-width="1.7"/><path d="M-22.1,-12.8 A5.1,12.8 0 0 1 -22.1,12.8" fill="none" stroke="#555" stroke-width="0.9"/></g>
<g transform="translate(881.7 722.8) rotate(90.0) scale(1 1)" stroke-linejoin="round"><path d="M-21.5,-13.8 L16.0,-13.8 A5.5,13.8 0 0 1 16.0,13.8 L-21.5,13.8 Z" fill="#fff" stroke="#111" stroke-width="1.7"/><path d="M-21.5,-13.8 A5.5,13.8 0 0 1 -21.5,13.8" fill="none" stroke="#555" stroke-width="0.9"/></g>
<g transform="translate(652.1 731.7) rotate(90.0) scale(1 1)" stroke-linejoin="round"><path d="M-22.0,-13.5 L16.6,-13.5 A5.4,13.5 0 0 1 16.6,13.5 L-22.0,13.5 Z" fill="#fff" stroke="#111" stroke-width="1.7"/><path d="M-22.0,-13.5 A5.4,13.5 0 0 1 -22.0,13.5" fill="none" stroke="#555" stroke-width="0.9"/></g>
<g transform="translate(503.0 1171.7) rotate(-28.0) scale(1 1)" stroke-linejoin="round"><path d="M-22.0,-12.5 L17.0,-12.5 A5.0,12.5 0 0 1 17.0,12.5 L-22.0,12.5 Z" fill="#fff" stroke="#111" stroke-width="1.7"/><path d="M-22.0,-12.5 A5.0,12.5 0 0 1 -22.0,12.5" fill="none" stroke="#555" stroke-width="0.9"/></g>
<g transform="translate(576.0 954.0) rotate(-27.4) scale(1 1)" stroke-linejoin="round"><path d="M-20.5,-13.0 L15.3,-13.0 A5.2,13.0 0 0 1 15.3,13.0 L-20.5,13.0 Z" fill="#fff" stroke="#111" stroke-width="1.7"/><path d="M-20.5,-13.0 A5.2,13.0 0 0 1 -20.5,13.0" fill="none" stroke="#555" stroke-width="0.9"/></g>
<g transform="translate(787.9 1404.0) rotate(90.0) scale(1 1)" stroke-linejoin="round"><path d="M-23.0,-13.9 L17.4,-13.9 A5.6,13.9 0 0 1 17.4,13.9 L-23.0,13.9 Z" fill="#fff" stroke="#111" stroke-width="1.7"/><path d="M-23.0,-13.9 A5.6,13.9 0 0 1 -23.0,13.9" fill="none" stroke="#555" stroke-width="0.9"/></g>
<g transform="translate(366.5 1358.0) rotate(-29.5) scale(1 1)" stroke-linejoin="round"><path d="M-23.0,-13.2 L17.7,-13.2 A5.3,13.2 0 0 1 17.7,13.2 L-23.0,13.2 Z" fill="#fff" stroke="#111" stroke-width="1.7"/><path d="M-23.0,-13.2 A5.3,13.2 0 0 1 -23.0,13.2" fill="none" stroke="#555" stroke-width="0.9"/></g>
<g transform="translate(235.0 1433.0) rotate(27.9) scale(-1 1)" stroke-linejoin="round"><path d="M-19.5,-12.0 L14.7,-12.0 A4.8,12.0 0 0 1 14.7,12.0 L-19.5,12.0 Z" fill="#fff" stroke="#111" stroke-width="1.7"/><path d="M-19.5,-12.0 A4.8,12.0 0 0 1 -19.5,12.0" fill="none" stroke="#555" stroke-width="0.9"/></g>
<g transform="translate(653.0 1529.0) rotate(-31.0) scale(1 1)" stroke-linejoin="round"><path d="M-21.0,-13.0 L15.8,-13.0 A5.2,13.0 0 0 1 15.8,13.0 L-21.0,13.0 Z" fill="#fff" stroke="#111" stroke-width="1.7"/><path d="M-21.0,-13.0 A5.2,13.0 0 0 1 -21.0,13.0" fill="none" stroke="#555" stroke-width="0.9"/></g>
<g transform="translate(827.6 140.0) rotate(26.6) scale(1.00 1.00)" stroke-linejoin="round" stroke-linecap="round"><path d="M17.1,7 C15.5,10.5 14,12.5 12.7,13.7 C10,16.5 8,18 5.7,18.6 L-8.4,18 C-12,16 -14,14 -15.4,10.9 C-17,7 -17.8,5 -17.7,2.2 C-17.6,-2 -17,-5.5 -16,-8.5 C-15.3,-10.5 -14.6,-12.3 -13.7,-13.6 C-12,-15.8 -10.5,-16.8 -8.4,-17.3 L8.5,-17.3 C11,-16 13,-14.5 14.4,-12.5 C15.8,-10.5 16.8,-9 17.2,-7.6 L17.5,-4.2 Z" fill="#fff" stroke="none"/><path d="M-16,-8.5 L-0.5,-8.6 L9,-16.2 M-16,8.4 L-0.8,7.8 L4.5,18.3 M-0.5,-8.6 L-0.8,7.8" fill="none" stroke="#333" stroke-width="0.90"/><path d="M12,-6 C10,-3 9.3,1 10.3,5.5" fill="none" stroke="#333" stroke-width="0.90"/><path d="M17.1,7 C15.5,10.5 14,12.5 12.7,13.7 C10,16.5 8,18 5.7,18.6 L-8.4,18 C-12,16 -14,14 -15.4,10.9 C-17,7 -17.8,5 -17.7,2.2 C-17.6,-2 -17,-5.5 -16,-8.5 C-15.3,-10.5 -14.6,-12.3 -13.7,-13.6 C-12,-15.8 -10.5,-16.8 -8.4,-17.3 L8.5,-17.3 C11,-16 13,-14.5 14.4,-12.5 C15.8,-10.5 16.8,-9 17.2,-7.6 L17.5,-4.2" fill="none" stroke="#111" stroke-width="1.70"/><path d="M8.3,-9.1 C6,-7.5 4.8,-5.5 4.3,-3.1 C3.5,0 3.4,2 3.7,4.2 C4.2,6.5 5,7.7 6.3,8.5 C8,10 9.5,10.3 11.1,10.4" fill="none" stroke="#111" stroke-width="1.70"/></g>
<g transform="translate(791.3 1019.5) rotate(28.7) scale(1.05 1.05)" stroke-linejoin="round" stroke-linecap="round"><path d="M17.1,7 C15.5,10.5 14,12.5 12.7,13.7 C10,16.5 8,18 5.7,18.6 L-8.4,18 C-12,16 -14,14 -15.4,10.9 C-17,7 -17.8,5 -17.7,2.2 C-17.6,-2 -17,-5.5 -16,-8.5 C-15.3,-10.5 -14.6,-12.3 -13.7,-13.6 C-12,-15.8 -10.5,-16.8 -8.4,-17.3 L8.5,-17.3 C11,-16 13,-14.5 14.4,-12.5 C15.8,-10.5 16.8,-9 17.2,-7.6 L17.5,-4.2 Z" fill="#fff" stroke="none"/><path d="M-16,-8.5 L-0.5,-8.6 L9,-16.2 M-16,8.4 L-0.8,7.8 L4.5,18.3 M-0.5,-8.6 L-0.8,7.8" fill="none" stroke="#333" stroke-width="0.86"/><path d="M12,-6 C10,-3 9.3,1 10.3,5.5" fill="none" stroke="#333" stroke-width="0.86"/><path d="M17.1,7 C15.5,10.5 14,12.5 12.7,13.7 C10,16.5 8,18 5.7,18.6 L-8.4,18 C-12,16 -14,14 -15.4,10.9 C-17,7 -17.8,5 -17.7,2.2 C-17.6,-2 -17,-5.5 -16,-8.5 C-15.3,-10.5 -14.6,-12.3 -13.7,-13.6 C-12,-15.8 -10.5,-16.8 -8.4,-17.3 L8.5,-17.3 C11,-16 13,-14.5 14.4,-12.5 C15.8,-10.5 16.8,-9 17.2,-7.6 L17.5,-4.2" fill="none" stroke="#111" stroke-width="1.62"/><path d="M8.3,-9.1 C6,-7.5 4.8,-5.5 4.3,-3.1 C3.5,0 3.4,2 3.7,4.2 C4.2,6.5 5,7.7 6.3,8.5 C8,10 9.5,10.3 11.1,10.4" fill="none" stroke="#111" stroke-width="1.62"/></g>
<g transform="translate(881.7 759.5) scale(1.00)" stroke-linejoin="round" stroke-linecap="round"><path d="M-13.9,-16.5 C-18,-14.5 -20.2,-12 -20.2,-8.9 L-20.2,6.2 C-19,10 -16,12.5 -11.3,14.4 C-7,16.5 -3,17.5 0,17.5 C4,17.5 8,16.5 11.3,14.4 C16,12 19,10 20.2,6.2 L20.2,-8.9 C20.2,-12 18,-14.5 13.9,-16.5 Z" fill="#fff" stroke="none"/><path d="M-18.9,-10.8 L-10.1,-2 L8.8,-2 L19.5,-10.8 M-10.1,-2 L-10.1,14.8 M8.8,-2 L8.8,15.3" fill="none" stroke="#333" stroke-width="0.90"/><path d="M-8,-16 L-8,-13 C-4,-11 4,-11 8,-13 L8,-16" fill="none" stroke="#111" stroke-width="1.30"/><path d="M-13.9,-16.5 C-18,-14.5 -20.2,-12 -20.2,-8.9 L-20.2,6.2 C-19,10 -16,12.5 -11.3,14.4 C-7,16.5 -3,17.5 0,17.5 C4,17.5 8,16.5 11.3,14.4 C16,12 19,10 20.2,6.2 L20.2,-8.9 C20.2,-12 18,-14.5 13.9,-16.5" fill="none" stroke="#111" stroke-width="1.70"/></g>
<g transform="translate(684.0 792.5) rotate(30.0) scale(1.15 1.15)" stroke-linejoin="round" stroke-linecap="round"><path d="M17.1,7 C15.5,10.5 14,12.5 12.7,13.7 C10,16.5 8,18 5.7,18.6 L-8.4,18 C-12,16 -14,14 -15.4,10.9 C-17,7 -17.8,5 -17.7,2.2 C-17.6,-2 -17,-5.5 -16,-8.5 C-15.3,-10.5 -14.6,-12.3 -13.7,-13.6 C-12,-15.8 -10.5,-16.8 -8.4,-17.3 L8.5,-17.3 C11,-16 13,-14.5 14.4,-12.5 C15.8,-10.5 16.8,-9 17.2,-7.6 L17.5,-4.2 Z" fill="#fff" stroke="none"/><path d="M-16,-8.5 L-0.5,-8.6 L9,-16.2 M-16,8.4 L-0.8,7.8 L4.5,18.3 M-0.5,-8.6 L-0.8,7.8" fill="none" stroke="#333" stroke-width="0.78"/><path d="M12,-6 C10,-3 9.3,1 10.3,5.5" fill="none" stroke="#333" stroke-width="0.78"/><path d="M17.1,7 C15.5,10.5 14,12.5 12.7,13.7 C10,16.5 8,18 5.7,18.6 L-8.4,18 C-12,16 -14,14 -15.4,10.9 C-17,7 -17.8,5 -17.7,2.2 C-17.6,-2 -17,-5.5 -16,-8.5 C-15.3,-10.5 -14.6,-12.3 -13.7,-13.6 C-12,-15.8 -10.5,-16.8 -8.4,-17.3 L8.5,-17.3 C11,-16 13,-14.5 14.4,-12.5 C15.8,-10.5 16.8,-9 17.2,-7.6 L17.5,-4.2" fill="none" stroke="#111" stroke-width="1.48"/><path d="M8.3,-9.1 C6,-7.5 4.8,-5.5 4.3,-3.1 C3.5,0 3.4,2 3.7,4.2 C4.2,6.5 5,7.7 6.3,8.5 C8,10 9.5,10.3 11.1,10.4" fill="none" stroke="#111" stroke-width="1.48"/></g>
<g transform="translate(466.0 1192.5) rotate(150.0) scale(1.15 -1.15)" stroke-linejoin="round" stroke-linecap="round"><path d="M17.1,7 C15.5,10.5 14,12.5 12.7,13.7 C10,16.5 8,18 5.7,18.6 L-8.4,18 C-12,16 -14,14 -15.4,10.9 C-17,7 -17.8,5 -17.7,2.2 C-17.6,-2 -17,-5.5 -16,-8.5 C-15.3,-10.5 -14.6,-12.3 -13.7,-13.6 C-12,-15.8 -10.5,-16.8 -8.4,-17.3 L8.5,-17.3 C11,-16 13,-14.5 14.4,-12.5 C15.8,-10.5 16.8,-9 17.2,-7.6 L17.5,-4.2 Z" fill="#fff" stroke="none"/><path d="M-16,-8.5 L-0.5,-8.6 L9,-16.2 M-16,8.4 L-0.8,7.8 L4.5,18.3 M-0.5,-8.6 L-0.8,7.8" fill="none" stroke="#333" stroke-width="0.78"/><path d="M12,-6 C10,-3 9.3,1 10.3,5.5" fill="none" stroke="#333" stroke-width="0.78"/><path d="M17.1,7 C15.5,10.5 14,12.5 12.7,13.7 C10,16.5 8,18 5.7,18.6 L-8.4,18 C-12,16 -14,14 -15.4,10.9 C-17,7 -17.8,5 -17.7,2.2 C-17.6,-2 -17,-5.5 -16,-8.5 C-15.3,-10.5 -14.6,-12.3 -13.7,-13.6 C-12,-15.8 -10.5,-16.8 -8.4,-17.3 L8.5,-17.3 C11,-16 13,-14.5 14.4,-12.5 C15.8,-10.5 16.8,-9 17.2,-7.6 L17.5,-4.2" fill="none" stroke="#111" stroke-width="1.48"/><path d="M8.3,-9.1 C6,-7.5 4.8,-5.5 4.3,-3.1 C3.5,0 3.4,2 3.7,4.2 C4.2,6.5 5,7.7 6.3,8.5 C8,10 9.5,10.3 11.1,10.4" fill="none" stroke="#111" stroke-width="1.48"/></g>
<g transform="translate(607.0 936.0) rotate(-27.0) scale(1.15 1.15)" stroke-linejoin="round" stroke-linecap="round"><path d="M17.1,7 C15.5,10.5 14,12.5 12.7,13.7 C10,16.5 8,18 5.7,18.6 L-8.4,18 C-12,16 -14,14 -15.4,10.9 C-17,7 -17.8,5 -17.7,2.2 C-17.6,-2 -17,-5.5 -16,-8.5 C-15.3,-10.5 -14.6,-12.3 -13.7,-13.6 C-12,-15.8 -10.5,-16.8 -8.4,-17.3 L8.5,-17.3 C11,-16 13,-14.5 14.4,-12.5 C15.8,-10.5 16.8,-9 17.2,-7.6 L17.5,-4.2 Z" fill="#fff" stroke="none"/><path d="M-16,-8.5 L-0.5,-8.6 L9,-16.2 M-16,8.4 L-0.8,7.8 L4.5,18.3 M-0.5,-8.6 L-0.8,7.8" fill="none" stroke="#333" stroke-width="0.78"/><path d="M12,-6 C10,-3 9.3,1 10.3,5.5" fill="none" stroke="#333" stroke-width="0.78"/><path d="M17.1,7 C15.5,10.5 14,12.5 12.7,13.7 C10,16.5 8,18 5.7,18.6 L-8.4,18 C-12,16 -14,14 -15.4,10.9 C-17,7 -17.8,5 -17.7,2.2 C-17.6,-2 -17,-5.5 -16,-8.5 C-15.3,-10.5 -14.6,-12.3 -13.7,-13.6 C-12,-15.8 -10.5,-16.8 -8.4,-17.3 L8.5,-17.3 C11,-16 13,-14.5 14.4,-12.5 C15.8,-10.5 16.8,-9 17.2,-7.6 L17.5,-4.2" fill="none" stroke="#111" stroke-width="1.48"/><path d="M8.3,-9.1 C6,-7.5 4.8,-5.5 4.3,-3.1 C3.5,0 3.4,2 3.7,4.2 C4.2,6.5 5,7.7 6.3,8.5 C8,10 9.5,10.3 11.1,10.4" fill="none" stroke="#111" stroke-width="1.48"/></g>
<g transform="translate(749.5 1373.0) rotate(150.0) scale(1.12 -1.12)" stroke-linejoin="round" stroke-linecap="round"><path d="M17.1,7 C15.5,10.5 14,12.5 12.7,13.7 C10,16.5 8,18 5.7,18.6 L-8.4,18 C-12,16 -14,14 -15.4,10.9 C-17,7 -17.8,5 -17.7,2.2 C-17.6,-2 -17,-5.5 -16,-8.5 C-15.3,-10.5 -14.6,-12.3 -13.7,-13.6 C-12,-15.8 -10.5,-16.8 -8.4,-17.3 L8.5,-17.3 C11,-16 13,-14.5 14.4,-12.5 C15.8,-10.5 16.8,-9 17.2,-7.6 L17.5,-4.2 Z" fill="#fff" stroke="none"/><path d="M-16,-8.5 L-0.5,-8.6 L9,-16.2 M-16,8.4 L-0.8,7.8 L4.5,18.3 M-0.5,-8.6 L-0.8,7.8" fill="none" stroke="#333" stroke-width="0.80"/><path d="M12,-6 C10,-3 9.3,1 10.3,5.5" fill="none" stroke="#333" stroke-width="0.80"/><path d="M17.1,7 C15.5,10.5 14,12.5 12.7,13.7 C10,16.5 8,18 5.7,18.6 L-8.4,18 C-12,16 -14,14 -15.4,10.9 C-17,7 -17.8,5 -17.7,2.2 C-17.6,-2 -17,-5.5 -16,-8.5 C-15.3,-10.5 -14.6,-12.3 -13.7,-13.6 C-12,-15.8 -10.5,-16.8 -8.4,-17.3 L8.5,-17.3 C11,-16 13,-14.5 14.4,-12.5 C15.8,-10.5 16.8,-9 17.2,-7.6 L17.5,-4.2" fill="none" stroke="#111" stroke-width="1.52"/><path d="M8.3,-9.1 C6,-7.5 4.8,-5.5 4.3,-3.1 C3.5,0 3.4,2 3.7,4.2 C4.2,6.5 5,7.7 6.3,8.5 C8,10 9.5,10.3 11.1,10.4" fill="none" stroke="#111" stroke-width="1.52"/></g>
<g transform="translate(405.2 1299.7) scale(1.00)" stroke-linejoin="round" stroke-linecap="round"><path d="M-6.6,-19.4 C-12,-17.5 -17,-14 -20,-7.6 L-20,7.6 C-18.5,11 -16,14.2 -8.5,18 C-3,19.5 3,19.5 8.5,18.1 C13,16.5 17,13.5 19.8,7.6 L20.3,-8.5 C18,-13 14,-16.5 5.7,-19.4 Z" fill="#fff" stroke="none"/><path d="M-20,-7.6 L-9.4,1.4 L9.4,-0.5 L20.3,-8.5 M-9.4,1.4 L-9,17.5 M9.4,-0.5 L9.9,17.5" fill="none" stroke="#333" stroke-width="0.90"/><ellipse cx="0" cy="-6.1" rx="7.1" ry="2.8" fill="none" stroke="#333" stroke-width="0.90"/><path d="M-6.6,-19.4 C-12,-17.5 -17,-14 -20,-7.6 L-20,7.6 C-18.5,11 -16,14.2 -8.5,18 C-3,19.5 3,19.5 8.5,18.1 C13,16.5 17,13.5 19.8,7.6 L20.3,-8.5 C18,-13 14,-16.5 5.7,-19.4" fill="none" stroke="#111" stroke-width="1.70"/><path d="M-5.7,-15.6 C-9,-14 -10.9,-11.5 -10.9,-8.5 C-10.9,-5 -6,-2.4 0,-2.4 C6,-2.4 10.9,-5 10.9,-8.5 C10.9,-11.5 9.5,-14 6.6,-15.6" fill="none" stroke="#111" stroke-width="1.70"/></g>
<g transform="translate(203.6 1415.0) rotate(208.0) scale(1.12 -1.12)" stroke-linejoin="round" stroke-linecap="round"><path d="M17.1,7 C15.5,10.5 14,12.5 12.7,13.7 C10,16.5 8,18 5.7,18.6 L-8.4,18 C-12,16 -14,14 -15.4,10.9 C-17,7 -17.8,5 -17.7,2.2 C-17.6,-2 -17,-5.5 -16,-8.5 C-15.3,-10.5 -14.6,-12.3 -13.7,-13.6 C-12,-15.8 -10.5,-16.8 -8.4,-17.3 L8.5,-17.3 C11,-16 13,-14.5 14.4,-12.5 C15.8,-10.5 16.8,-9 17.2,-7.6 L17.5,-4.2 Z" fill="#fff" stroke="none"/><path d="M-16,-8.5 L-0.5,-8.6 L9,-16.2 M-16,8.4 L-0.8,7.8 L4.5,18.3 M-0.5,-8.6 L-0.8,7.8" fill="none" stroke="#333" stroke-width="0.80"/><path d="M12,-6 C10,-3 9.3,1 10.3,5.5" fill="none" stroke="#333" stroke-width="0.80"/><path d="M17.1,7 C15.5,10.5 14,12.5 12.7,13.7 C10,16.5 8,18 5.7,18.6 L-8.4,18 C-12,16 -14,14 -15.4,10.9 C-17,7 -17.8,5 -17.7,2.2 C-17.6,-2 -17,-5.5 -16,-8.5 C-15.3,-10.5 -14.6,-12.3 -13.7,-13.6 C-12,-15.8 -10.5,-16.8 -8.4,-17.3 L8.5,-17.3 C11,-16 13,-14.5 14.4,-12.5 C15.8,-10.5 16.8,-9 17.2,-7.6 L17.5,-4.2" fill="none" stroke="#111" stroke-width="1.52"/><path d="M8.3,-9.1 C6,-7.5 4.8,-5.5 4.3,-3.1 C3.5,0 3.4,2 3.7,4.2 C4.2,6.5 5,7.7 6.3,8.5 C8,10 9.5,10.3 11.1,10.4" fill="none" stroke="#111" stroke-width="1.52"/></g>
<g transform="translate(690.9 1470.9) scale(1.00)" stroke-linejoin="round" stroke-linecap="round"><path d="M-6.6,-19.4 C-12,-17.5 -17,-14 -20,-7.6 L-20,7.6 C-18.5,11 -16,14.2 -8.5,18 C-3,19.5 3,19.5 8.5,18.1 C13,16.5 17,13.5 19.8,7.6 L20.3,-8.5 C18,-13 14,-16.5 5.7,-19.4 Z" fill="#fff" stroke="none"/><path d="M-20,-7.6 L-9.4,1.4 L9.4,-0.5 L20.3,-8.5 M-9.4,1.4 L-9,17.5 M9.4,-0.5 L9.9,17.5" fill="none" stroke="#333" stroke-width="0.90"/><ellipse cx="0" cy="-6.1" rx="7.1" ry="2.8" fill="none" stroke="#333" stroke-width="0.90"/><path d="M-6.6,-19.4 C-12,-17.5 -17,-14 -20,-7.6 L-20,7.6 C-18.5,11 -16,14.2 -8.5,18 C-3,19.5 3,19.5 8.5,18.1 C13,16.5 17,13.5 19.8,7.6 L20.3,-8.5 C18,-13 14,-16.5 5.7,-19.4" fill="none" stroke="#111" stroke-width="1.70"/><path d="M-5.7,-15.6 C-9,-14 -10.9,-11.5 -10.9,-8.5 C-10.9,-5 -6,-2.4 0,-2.4 C6,-2.4 10.9,-5 10.9,-8.5 C10.9,-11.5 9.5,-14 6.6,-15.6" fill="none" stroke="#111" stroke-width="1.70"/></g>
<!-- clamps -->
<path class="t" d="M1177.0,512.6 L1193.5,522.0 L1193.5,526.0 L1175.4,538.6 L1174.6,533.1"/>
<path class="t" d="M1129.8,522.8 L1174.6,533.1 L1193.5,522.0"/>
<path class="t" d="M1115.6,540.2 L1166.0,548.8 L1174.6,533.9"/>
<path class="t" d="M1166.0,548.8 L1166.8,555.1"/>
<path class="t" d="M1174.6,533.9 L1175.4,538.6 L1166.8,555.1"/>
<path class="t" d="M1118.7,535.4 L1150.2,540.5"/>
<path class="t" d="M1128.2,526.0 L1143.9,529.1"/>
<path class="t" d="M1087.2,555.9 L1094.3,551.2 L1123.5,571.7 L1166.0,548.8"/>
<path class="t" d="M1087.2,555.9 L1089.6,596.9 L1094.3,598.7 L1166.8,555.1"/>
<path class="t" d="M1094.3,598.7 L1094.3,559.1 L1123.5,578.0 L1123.5,571.7"/>
<path class="t" d="M1094.3,559.1 L1087.2,555.9"/>
<path class="t" d="M1102.2,565.4 C1102.5,564.2 1103.0,563.0 1103.8,563.0 C1104.6,563.0 1106.3,564.2 1106.9,565.4 C1107.6,566.5 1108.1,568.9 1107.7,570.1 C1107.3,571.3 1105.5,572.4 1104.6,572.4 C1103.6,572.4 1102.6,571.3 1102.2,570.1 C1101.8,568.9 1101.9,566.5 1102.2,565.4 Z"/>
<path class="tw" d="M1149.4,532.3 L1152.6,528.3 L1159.7,528.3 L1163.6,532.3 L1162.8,537.0 L1157.3,539.4 L1151.0,537.3 Z"/>
<ellipse class="t" cx="1156.5" cy="531.5" rx="4.7" ry="2.8" transform="rotate(0.0 1156.5 531.5)"/>
<ellipse class="t" cx="1156.5" cy="531.5" rx="2.4" ry="1.4" transform="rotate(0.0 1156.5 531.5)"/>
<path class="mw" d="M1099.8,491.3 L1100.6,508.7 L1134.5,515.7 L1160.5,521.3 L1169.1,508.7 L1169.1,494.5 L1161.3,500.8 L1160.5,502.4 Z"/>
<path class="m" d="M1160.5,521.3 L1160.5,502.4"/>
<path class="mw" d="M1099.5,474.0 L1099.8,491.3 L1115.6,494.5 L1160.5,502.4 L1161.3,500.8 L1168.3,494.5 L1166.8,467.7 L1160.5,481.1 Z"/>
<path class="m" d="M1160.5,487.4 L1160.5,502.4"/>
<path class="m" d="M1160.5,487.4 L1099.5,474.0"/>
<path class="m" d="M1160.5,487.4 L1167.2,474.0"/>
<path class="mw" d="M1099.1,468.0 L1106.9,455.1 L1166.8,467.7 L1160.5,481.1 Z"/>
<path class="m" d="M1099.1,468.0 L1099.5,474.0"/>
<path class="mw" d="M1103.8,461.4 L1106.1,457.8 L1113.2,457.5 L1117.2,460.9 L1116.7,464.6 L1113.2,466.9 L1106.1,466.6 Z"/>
<ellipse class="m" cx="1110.4" cy="460.9" rx="4.4" ry="2.4" transform="rotate(8.0 1110.4 460.9)"/>
<path class="mw" d="M1147.9,469.3 L1150.2,465.7 L1157.3,465.4 L1161.3,468.8 L1160.8,472.4 L1157.3,474.8 L1150.2,474.5 Z"/>
<ellipse class="m" cx="1154.5" cy="468.8" rx="4.4" ry="2.4" transform="rotate(8.0 1154.5 468.8)"/>
<path d="M1127.5,499.5 C1127.0,500.2 1127.6,500.4 1124.5,503.6 C1121.4,506.8 1112.8,515.2 1108.7,518.9 C1104.6,522.6 1101.5,524.8 1100.0,526.0" fill="none" stroke="#111" stroke-width="25.0" stroke-linecap="butt"/><path d="M1128.4,498.3 C1128.2,498.5 1128.1,498.6 1127.5,499.5 C1126.9,500.4 1127.6,500.4 1124.5,503.6 C1121.4,506.8 1112.8,515.2 1108.7,518.9 C1104.6,522.6 1101.6,524.7 1100.0,526.0 C1098.4,527.3 1099.0,526.8 1098.8,526.9" fill="none" stroke="#fff" stroke-width="21.7" stroke-linecap="butt"/>
<path class="b" d="M1115.6,494.5 C1115.9,493.6 1115.5,490.6 1117.5,489.0 C1119.4,487.4 1124.0,485.2 1127.4,485.0 C1130.8,484.9 1135.0,485.9 1137.6,487.9 C1140.3,489.8 1142.5,494.0 1143.1,496.9 C1143.8,499.7 1141.8,503.4 1141.6,504.7"/>
<path class="bw" d="M1102.2,425.2 Q1099.8,433.1 1096.7,440.9 L1164.4,455.1 Q1166.0,447.2 1169.1,440.9 Z"/><path class="t" d="M1098.6,437.8 L1165.2,452.0"/>
<ellipse class="m" cx="1111.2" cy="436.5" rx="4.1" ry="2.4" transform="rotate(8.0 1111.2 436.5)"/>
<ellipse class="m" cx="1154.2" cy="445.2" rx="4.1" ry="2.4" transform="rotate(8.0 1154.2 445.2)"/>
<path class="t" d="M1142.4,455.9 L1140.8,460.6"/>
<path class="m" d="M905.5,581.7 L908.7,577.3 L920.6,572.9 L923.1,574.4"/>
<path class="m" d="M905.5,581.7 L905.5,610.7"/>
<path class="m" d="M908.7,583.0 L908.7,608.8"/>
<path class="mw" d="M911.8,583.6 L922.5,574.2 L938.3,585.5 L926.3,592.4 Z"/>
<path class="mw" d="M911.8,583.6 L911.8,606.9 L925.7,603.1 L926.3,592.4 Z"/>
<path class="m" d="M919.4,637.2 L939.5,648.5"/>
<path class="m" d="M923.8,633.4 L923.8,639.1"/>
<path class="mw" d="M926.3,592.4 L938.3,585.5 L954.0,593.1 L939.5,600.6 Z"/>
<path class="mw" d="M939.5,600.6 L954.0,593.1 L954.6,637.8 L939.5,648.5 Z"/>
<path class="mw" d="M926.3,592.4 L939.5,600.6 L939.5,648.5 L933.9,645.4 L933.9,624.6 L932.0,613.2 L925.7,605.7 Z"/>
<ellipse class="m" cx="947.1" cy="603.1" rx="3.8" ry="5.3" transform="rotate(25.0 947.1 603.1)"/>
<ellipse class="m" cx="947.1" cy="603.1" rx="2.0" ry="2.8" transform="rotate(25.0 947.1 603.1)"/>
<ellipse class="m" cx="946.5" cy="637.8" rx="3.8" ry="5.3" transform="rotate(25.0 946.5 637.8)"/>
<ellipse class="m" cx="946.5" cy="637.8" rx="2.0" ry="2.8" transform="rotate(25.0 946.5 637.8)"/>
<path d="M930.0,612.5 C929.5,612.8 930.2,612.3 927.0,614.0 C923.8,615.7 915.5,619.6 910.5,622.7 C905.5,625.8 900.1,629.8 896.7,632.8 C893.3,635.8 891.1,639.6 890.0,641.0" fill="none" stroke="#111" stroke-width="25.0" stroke-linecap="butt"/><path d="M931.3,611.8 C931.1,611.9 930.7,612.1 930.0,612.5 C929.3,612.9 930.2,612.3 927.0,614.0 C923.8,615.7 915.5,619.6 910.5,622.7 C905.5,625.8 900.1,629.8 896.7,632.8 C893.3,635.8 891.3,639.4 890.0,641.0 C888.7,642.6 889.2,642.0 889.1,642.2" fill="none" stroke="#fff" stroke-width="21.7" stroke-linecap="butt"/>
<path class="b" d="M918.1,603.8 C919.4,604.1 923.4,604.1 925.7,605.7 C928.0,607.2 930.5,610.7 932.0,613.2 C933.4,615.7 934.2,618.9 934.5,620.8 C934.8,622.7 934.0,624.1 933.9,624.8"/>
<path class="bw" d="M874.0,557.8 L887.9,549.6 Q890.4,547.1 891.0,543.3 L897.3,547.1 Q894.2,551.5 892.9,556.5 L892.3,604.4 L877.8,613.2 Q877.2,615.7 876.5,618.3 L870.2,615.7 Q873.0,610.7 874.0,605.7 Z"/><path class="t" d="M876.5,559.3 L877.2,606.9 L871.1,616.4"/>
<path class="t" d="M876.5,559.3 L890.1,551.5"/>
<path class="m" d="M888.3,563.5 C888.3,563.6 888.1,564.0 888.0,564.2 C887.9,564.4 887.8,564.7 887.6,564.8 C887.5,565.0 887.3,565.2 887.1,565.4 C886.9,565.5 886.7,565.6 886.5,565.7 C886.3,565.8 886.1,565.9 885.9,565.9 C885.6,566.0 885.4,566.0 885.2,566.0 C885.0,566.0 884.7,565.9 884.5,565.9 C884.3,565.8 884.1,565.7 883.9,565.6 C883.7,565.4 883.5,565.3 883.3,565.1 C883.2,564.9 883.0,564.8 882.9,564.5 C882.7,564.3 882.6,564.1 882.5,563.9 C882.4,563.6 882.4,563.4 882.3,563.1 C882.2,562.9 882.2,562.6 882.2,562.3 C882.2,562.1 882.2,561.8 882.3,561.5 C882.3,561.3 882.4,561.0 882.4,560.8 C882.5,560.5 882.6,560.3 882.8,560.0 C882.9,559.8 883.0,559.6 883.2,559.4 C883.4,559.3 883.5,559.1 883.7,559.0 C883.9,558.8 884.1,558.7 884.3,558.6 C884.6,558.5 884.8,558.5 885.0,558.4 C885.2,558.4 885.4,558.4 885.7,558.4 C885.9,558.5 886.1,558.5 886.3,558.6 C886.5,558.7 886.8,558.9 886.9,558.9"/>
<path class="m" d="M888.3,603.8 C888.3,603.9 888.1,604.3 888.0,604.5 C887.9,604.8 887.8,605.0 887.6,605.2 C887.5,605.4 887.3,605.5 887.1,605.7 C886.9,605.8 886.7,605.9 886.5,606.0 C886.3,606.1 886.1,606.2 885.9,606.3 C885.6,606.3 885.4,606.3 885.2,606.3 C885.0,606.3 884.7,606.2 884.5,606.2 C884.3,606.1 884.1,606.0 883.9,605.9 C883.7,605.8 883.5,605.6 883.3,605.4 C883.2,605.3 883.0,605.1 882.9,604.9 C882.7,604.7 882.6,604.4 882.5,604.2 C882.4,603.9 882.4,603.7 882.3,603.4 C882.2,603.2 882.2,602.9 882.2,602.6 C882.2,602.4 882.2,602.1 882.3,601.8 C882.3,601.6 882.4,601.3 882.4,601.1 C882.5,600.8 882.6,600.6 882.8,600.4 C882.9,600.1 883.0,599.9 883.2,599.8 C883.4,599.6 883.5,599.4 883.7,599.3 C883.9,599.1 884.1,599.0 884.3,598.9 C884.6,598.9 884.8,598.8 885.0,598.8 C885.2,598.7 885.4,598.7 885.7,598.8 C885.9,598.8 886.1,598.8 886.3,598.9 C886.5,599.0 886.8,599.2 886.9,599.2"/>
<line x1="1109.0" y1="86.0" x2="1055.0" y2="107.5" stroke="#444" stroke-width="1.0" />
<line x1="930.0" y1="66.0" x2="975.0" y2="66.0" stroke="#444" stroke-width="1.0" />
<line x1="975.0" y1="66.0" x2="1117.5" y2="150.0" stroke="#444" stroke-width="1.0" />
<line x1="1117.5" y1="150.0" x2="1117.5" y2="176.0" stroke="#444" stroke-width="1.0" />
<line x1="779.0" y1="141.0" x2="742.0" y2="172.0" stroke="#444" stroke-width="1.0" />
<line x1="1160.0" y1="213.0" x2="1125.0" y2="255.0" stroke="#444" stroke-width="1.0" />
<line x1="1199.0" y1="243.0" x2="1167.0" y2="280.0" stroke="#444" stroke-width="1.0" />
<line x1="1050.0" y1="430.0" x2="1094.0" y2="433.0" stroke="#444" stroke-width="1.0" />
<line x1="1052.0" y1="479.0" x2="1094.0" y2="481.0" stroke="#444" stroke-width="1.0" />
<line x1="873.4" y1="520.0" x2="878.4" y2="549.0" stroke="#444" stroke-width="1.0" />
<line x1="927.6" y1="543.3" x2="927.6" y2="571.0" stroke="#444" stroke-width="1.0" />
<line x1="940.0" y1="702.0" x2="902.0" y2="718.0" stroke="#444" stroke-width="1.0" />
<line x1="705.0" y1="719.0" x2="675.0" y2="727.0" stroke="#444" stroke-width="1.0" />
<line x1="1118.0" y1="592.0" x2="1140.0" y2="670.0" stroke="#444" stroke-width="1.0" />
<line x1="974.0" y1="773.0" x2="930.0" y2="830.0" stroke="#444" stroke-width="1.0" />
<line x1="588.0" y1="838.0" x2="714.0" y2="830.0" stroke="#444" stroke-width="1.0" />
<line x1="588.0" y1="838.0" x2="668.0" y2="866.0" stroke="#444" stroke-width="1.0" />
<line x1="554.0" y1="904.0" x2="573.0" y2="930.0" stroke="#444" stroke-width="1.0" />
<line x1="688.0" y1="994.0" x2="715.0" y2="1010.0" stroke="#444" stroke-width="1.0" />
<line x1="825.0" y1="1065.0" x2="800.0" y2="1108.0" stroke="#444" stroke-width="1.0" />
<line x1="257.0" y1="1101.0" x2="254.0" y2="1187.0" stroke="#444" stroke-width="1.0" />
<line x1="616.0" y1="1234.0" x2="614.0" y2="1322.0" stroke="#444" stroke-width="1.0" />
<line x1="498.0" y1="1207.0" x2="511.0" y2="1226.0" stroke="#444" stroke-width="1.0" />
<line x1="422.0" y1="1327.0" x2="452.0" y2="1325.0" stroke="#444" stroke-width="1.0" />
<line x1="247.0" y1="1382.0" x2="239.0" y2="1413.0" stroke="#444" stroke-width="1.0" />
<line x1="805.0" y1="1400.0" x2="838.0" y2="1394.0" stroke="#444" stroke-width="1.0" />
<line x1="703.0" y1="1498.0" x2="728.0" y2="1504.0" stroke="#444" stroke-width="1.0" />
<line x1="371.0" y1="1545.0" x2="363.0" y2="1567.0" stroke="#444" stroke-width="1.0" />
<line x1="883.1" y1="910.2" x2="900.4" y2="919.8" stroke="#333" stroke-width="1.0" />
<line x1="912.5" y1="926.7" x2="932.4" y2="938.0" stroke="#333" stroke-width="1.0" />
<line x1="967.1" y1="892.0" x2="975.7" y2="897.2" stroke="#333" stroke-width="1.0" />
<line x1="802.5" y1="981.3" x2="816.4" y2="989.1" stroke="#333" stroke-width="1.0" />
<line x1="829.4" y1="996.9" x2="859.7" y2="1013.3" stroke="#333" stroke-width="1.0" />
<line x1="878.7" y1="1024.6" x2="923.8" y2="1050.6" stroke="#333" stroke-width="1.0" />
<line x1="890.0" y1="1075.7" x2="901.3" y2="1082.6" stroke="#333" stroke-width="1.0" />
<rect x="1109.5" y="67.0" width="110.0" height="37.5" fill="none" stroke="#999" stroke-width="1.4"/><text x="1164.0" y="94.2" font-size="25.0" text-anchor="middle">12.13/2</text>
<rect x="1087.0" y="670.5" width="109.5" height="36.0" fill="none" stroke="#999" stroke-width="1.4"/><text x="1141.2" y="697.0" font-size="25.0" text-anchor="middle">12.13/1</text>
<rect x="919.5" y="736.5" width="111.0" height="36.5" fill="none" stroke="#999" stroke-width="1.4"/><text x="974.5" y="763.2" font-size="25.0" text-anchor="middle">98.03</text>
<rect x="478.5" y="818.5" width="109.5" height="37.8" fill="none" stroke="#999" stroke-width="1.4"/><text x="532.8" y="845.9" font-size="25.0" text-anchor="middle">98.03</text>
<rect x="744.8" y="1108.5" width="111.1" height="36.7" fill="none" stroke="#999" stroke-width="1.4"/><text x="799.8" y="1135.3" font-size="25.0" text-anchor="middle">98.03</text>
<rect x="202.5" y="1064.9" width="110.2" height="37.7" fill="none" stroke="#999" stroke-width="1.4"/><text x="257.1" y="1092.2" font-size="25.0" text-anchor="middle">41.07</text>
<rect x="563.5" y="1198.1" width="110.0" height="37.2" fill="none" stroke="#999" stroke-width="1.4"/><text x="618.0" y="1225.1" font-size="25.0" text-anchor="middle">41.07</text>
<text x="727.5" y="196.0" font-size="25.0" text-anchor="middle">5</text>
<text x="1167.5" y="207.5" font-size="25.0" text-anchor="middle">8</text>
<text x="1212.2" y="234.2" font-size="25.0" text-anchor="middle">16</text>
<text x="1031.0" y="434.0" font-size="25.0" text-anchor="middle">11</text>
<text x="1034.0" y="487.5" font-size="25.0" text-anchor="middle">10</text>
<text x="870.0" y="502.5" font-size="25.0" text-anchor="middle">11</text>
<text x="928.8" y="538.9" font-size="25.0" text-anchor="middle">10</text>
<text x="957.0" y="704.0" font-size="25.0" text-anchor="middle">16</text>
<text x="721.0" y="725.0" font-size="25.0" text-anchor="middle">15</text>
<text x="544.7" y="897.4" font-size="25.0" text-anchor="middle">14</text>
<text x="673.7" y="990.0" font-size="25.0" text-anchor="middle">5</text>
<text x="517.0" y="1250.0" font-size="25.0" text-anchor="middle">15</text>
<text x="467.5" y="1333.0" font-size="25.0" text-anchor="middle">12</text>
<text x="254.0" y="1374.0" font-size="25.0" text-anchor="middle">13</text>
<text x="852.6" y="1397.6" font-size="25.0" text-anchor="middle">14</text>
<text x="744.0" y="1516.5" font-size="25.0" text-anchor="middle">13</text>
<text x="360.1" y="1591.0" font-size="25.0" text-anchor="middle">12</text>
<text x="956.4" y="889.7" font-size="18.0" text-anchor="middle">P</text>
<text x="871.9" y="906.7" font-size="18.0" text-anchor="middle">B2</text>
<text x="790.1" y="977.4" font-size="18.0" text-anchor="middle">A2</text>
<text x="877.8" y="1077.3" font-size="18.0" text-anchor="middle">LS</text>
<rect x="1058.7" y="1570.5" width="170.8" height="25" fill="none" stroke="#444" stroke-width="1.1"/><text x="1144.6" y="1589.9" font-size="20.0" text-anchor="middle">57200009_002_00</text>
<g style="fill:none;stroke:#222;stroke-width:0.75" font-size="122" font-weight="bold"><text transform="translate(195.5 856.3) scale(1.056 1.024)" x="0" y="0" style="fill:none">А</text><text transform="translate(287.9 856.3) scale(0.969 1.024)" x="0" y="0" style="fill:none">В</text><text transform="translate(372.0 856.3) scale(0.958 1.024)" x="0" y="0" style="fill:none">Т</text><text transform="translate(441.4 856.3) scale(0.999 1.024)" x="0" y="0" style="fill:none">О</text><text transform="translate(531.7 856.3) scale(1.039 1.024)" x="0" y="0" style="fill:none">А</text><text transform="translate(626.0 856.3) scale(1.000 1.024)" x="0" y="0" style="fill:none">Л</text><text transform="translate(711.0 856.3) scale(0.969 1.024)" x="0" y="0" style="fill:none">Ь</text><text transform="translate(802.5 856.3) scale(0.870 1.024)" x="0" y="0" style="fill:none">Я</text><text transform="translate(878.9 856.3) scale(0.986 1.024)" x="0" y="0" style="fill:none">Н</text><text transform="translate(968.5 856.3) scale(0.987 1.024)" x="0" y="0" style="fill:none">С</text></g>

</svg>
</body></html>
